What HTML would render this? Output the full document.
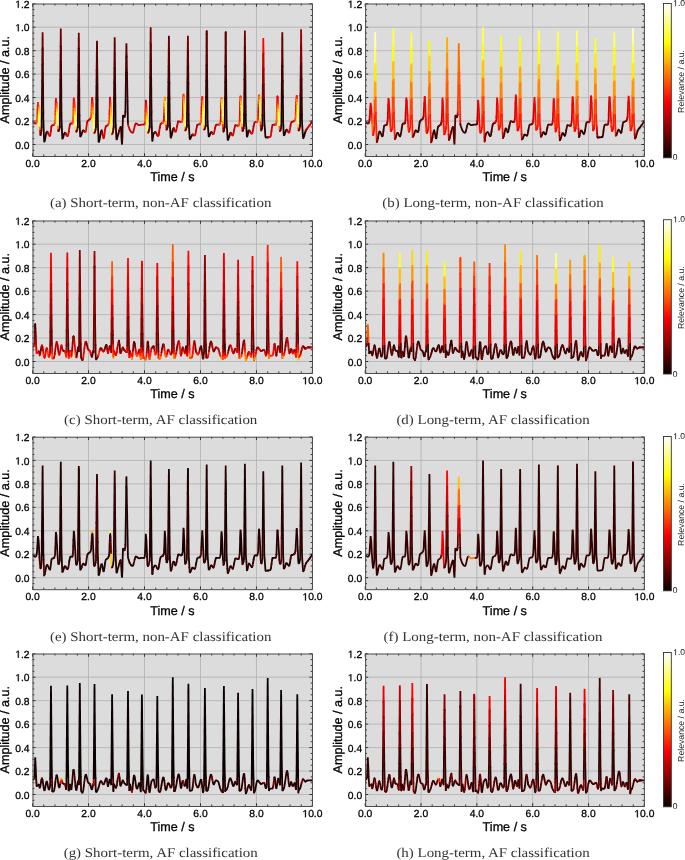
<!DOCTYPE html><html><head><meta charset="utf-8"><title>ECG relevance</title><style>html,body{margin:0;padding:0;background:#fff;width:685px;height:860px;overflow:hidden}
svg{display:block;will-change:transform}
.tk{font-family:"Liberation Sans",sans-serif;font-size:10.3px;fill:#000;stroke:#000;stroke-width:0.3px}
.ax{font-family:"Liberation Sans",sans-serif;font-size:12.6px;fill:#000;stroke:#000;stroke-width:0.3px}
.cb{font-family:"Liberation Sans",sans-serif;font-size:8.5px;fill:#111}
.cb2{font-family:"Liberation Sans",sans-serif;font-size:8.7px;fill:#222}
.hid{fill-opacity:0;stroke-opacity:0}
.one{stroke-linejoin:miter}
text{text-rendering:geometricPrecision}
.cap{font-family:"Liberation Serif",serif;font-size:13.4px;fill:#333}</style></head><body><svg width="685" height="860" viewBox="0 0 685 860"><defs><linearGradient id="hotg" x1="0" y1="1" x2="0" y2="0"><stop offset="0.0000" stop-color="#0b0000"/><stop offset="0.0500" stop-color="#2c0000"/><stop offset="0.1000" stop-color="#4e0000"/><stop offset="0.1500" stop-color="#6f0000"/><stop offset="0.2000" stop-color="#900000"/><stop offset="0.2500" stop-color="#b20000"/><stop offset="0.3000" stop-color="#d30000"/><stop offset="0.3500" stop-color="#f50000"/><stop offset="0.3651" stop-color="#ff0000"/><stop offset="0.4000" stop-color="#ff1700"/><stop offset="0.4500" stop-color="#ff3900"/><stop offset="0.5000" stop-color="#ff5a00"/><stop offset="0.5500" stop-color="#ff7c00"/><stop offset="0.6000" stop-color="#ff9d00"/><stop offset="0.6500" stop-color="#ffbf00"/><stop offset="0.7000" stop-color="#ffe000"/><stop offset="0.7460" stop-color="#ffff00"/><stop offset="0.7500" stop-color="#ffff04"/><stop offset="0.8000" stop-color="#ffff36"/><stop offset="0.8500" stop-color="#ffff68"/><stop offset="0.9000" stop-color="#ffff9b"/><stop offset="0.9500" stop-color="#ffffcd"/><stop offset="1.0000" stop-color="#ffffff"/></linearGradient></defs><clipPath id="clip00"><rect x="32.55" y="3.74" width="279.90" height="152.49"/></clipPath><rect x="32.55" y="3.74" width="279.90" height="152.49" fill="#dcdcdc"/><path d="M88.53 3.74V156.23M144.51 3.74V156.23M200.49 3.74V156.23M256.47 3.74V156.23M32.55 144.50H312.45M32.55 121.04H312.45M32.55 97.58H312.45M32.55 74.12H312.45M32.55 50.66H312.45M32.55 27.20H312.45" stroke="#b0b0b0" stroke-width="0.8" fill="none"/><g fill="none" stroke-width="1.80" stroke-linejoin="bevel" stroke-linecap="round" clip-path="url(#clip00)"><path d="M33.0 122.2l.6 .6 .5 .3 .6 .2 .5 .1" stroke="#b20000"/><path d="M35.2 123.4l.6 0" stroke="#dc0000"/><path d="M35.8 123.4l.6-1" stroke="#ff0700"/><path d="M36.4 122.4l.5-2.5" stroke="#ff4500"/><path d="M36.9 119.9l.2-3.1" stroke="#ff6f00"/><path d="M37.1 116.8l.2-3.1" stroke="#ff5a00"/><path d="M37.3 113.7l.2-3.1" stroke="#ff3000"/><path d="M37.5 110.6l.2-3.9" stroke="#f10000"/><path d="M37.7 106.7l.3-3.8" stroke="#c70000"/><path d="M38.0 102.9l.6 4.5" stroke="#ff3000"/><path d="M38.6 107.4l.2 3.3" stroke="#ff9900"/><path d="M38.8 110.7l.2 3.4" stroke="#ffed00"/><path d="M39.0 114.1l.1 3.3" stroke="#ffff23"/><path d="M39.1 117.4l.2 3.4" stroke="#ffff43"/><path d="M39.3 120.8l.2 3.4" stroke="#ffff62"/><path d="M39.5 124.2l.2 3.4" stroke="#ffff23"/><path d="M39.7 127.6l.3 3.4" stroke="#ff8400"/><path d="M40.0 131.0l.3 2.7" stroke="#f10000"/><path d="M40.3 133.7l.2 1.4" stroke="#880000"/><path d="M40.5 135.1l.3-.5 .6-4.2" stroke="#5e0000"/><path d="M41.4 130.4l.3-3.5" stroke="#490000"/><path d="M41.7 126.9l0-3.1 0-3.1 .1-3.1 0-3.1" stroke="#200000"/><path d="M41.8 114.5l0-3.1 0-3.1 .1-3 0-3.1 0-3.1 .1-3.1 0-3.1 0-3.1 .1-3.1 0-3.1 0-3.1" stroke="#340000"/><path d="M42.1 80.5l.1-3.1 0-3.1 0-3.1 0-3.1 .1-3.1" stroke="#490000"/><path d="M42.3 65.0l0-3.1 0-3.1 .1-3 0-3.1 0-3.1" stroke="#5e0000"/><path d="M42.4 49.6l.1-3.1 0-3.1 0-3.7 .1-3.7 0-3.8 0 3.2 .1 3.1 0 3.1 0 3.2 0 3.1" stroke="#730000"/><path d="M42.7 47.9l.1 3.1 0 3.1 0 3.2 0 3.1 .1 3.1" stroke="#5e0000"/><path d="M42.9 63.5l0 3.2 0 3.1 0 3.1 .1 3.2 0 3.1 0 3.1" stroke="#490000"/><path d="M43.0 82.3l.1 3.1 0 3.1 0 3 0 3 .1 3 0 3.1 0 3 0 3 .1 3 0 3" stroke="#340000"/><path d="M43.3 112.6l0 3.1 0 3 .2 3.9 .1 3.9 .1 3.1 .1 3.2 .1 3.1 .2 3.1 .1 3.2 .5-1.1 .6-2.7 .5-3.1 .6-2.6" stroke="#200000"/><path d="M46.4 132.7l.6-1.1" stroke="#340000"/><path d="M47.0 131.6l.5 .4" stroke="#5e0000"/><path d="M47.5 132.0l.6 1" stroke="#880000"/><path d="M48.1 133.0l.5 1.3" stroke="#c70000"/><path d="M48.6 134.3l.6 1.1 .6 .8 .2 .1 .3-.8 .6-4.3" stroke="#dc0000"/><path d="M50.9 131.2l.5-4.5" stroke="#c70000"/><path d="M51.4 126.7l.3-1 .3-.2 .6-.2 .5-.2" stroke="#b20000"/><path d="M53.1 125.1l.6-.2" stroke="#c70000"/><path d="M53.7 124.9l.5-.3" stroke="#f10000"/><path d="M54.2 124.6l.6-1.8" stroke="#ff3000"/><path d="M54.8 122.8l.3-1.8" stroke="#ff5a00"/><path d="M55.1 121.0l.1-3.3 .1-3.3" stroke="#ff6f00"/><path d="M55.3 114.4l.2-3.2" stroke="#ff4500"/><path d="M55.5 111.2l.1-3.1" stroke="#ff3000"/><path d="M55.6 108.1l.1-3.1" stroke="#ff1c00"/><path d="M55.7 105.0l.1-3.1" stroke="#ff0700"/><path d="M55.8 101.9l.1-3.1" stroke="#f10000"/><path d="M55.9 98.8l.6 4" stroke="#ff0700"/><path d="M56.5 102.8l.1 3.2" stroke="#ff3000"/><path d="M56.6 106.0l.2 3.1" stroke="#ff6f00"/><path d="M56.8 109.1l.2 3.1" stroke="#ffc300"/><path d="M57.0 112.2l.2 3.5" stroke="#ffff04"/><path d="M57.2 115.7l.2 3.5 .2 3.4" stroke="#ffff43"/><path d="M57.6 122.6l.3 3.7" stroke="#ffff62"/><path d="M57.9 126.3l.2 3.6" stroke="#ff9900"/><path d="M58.1 129.9l.3 1.1" stroke="#f10000"/><path d="M58.4 131.0l.3-.1" stroke="#880000"/><path d="M58.7 130.9l.6-1.3" stroke="#5e0000"/><path d="M59.3 129.6l.5-2.7" stroke="#490000"/><path d="M59.8 126.9l0-3.1 .1-3.1 0-3.2 0-3.1" stroke="#200000"/><path d="M59.9 114.4l.1-3.1 0-3.1 0-3.2 .1-3.1 0-3.1 0-3.1 .1-3.2 0-3.1 0-3.1 0-3.1 .1-3.2" stroke="#340000"/><path d="M60.3 80.0l0-3.1 0-3.1 .1-3.1 0-3 0-3.1 .1-3" stroke="#490000"/><path d="M60.5 61.6l0-3 0-3 .1-3 0-3 0-3" stroke="#5e0000"/><path d="M60.6 46.6l0-3 .1-3.1 0-3 0-3 .1-3 0-3 0 3 0 3 .1 3 0 3 0 3 0 3" stroke="#730000"/><path d="M60.9 46.5l.1 3 0 3 0 3.1 0 3 0 3" stroke="#5e0000"/><path d="M61.0 61.6l.1 3 0 3 0 3 0 3 .1 3 0 3" stroke="#490000"/><path d="M61.2 79.6l0 3 0 3 .1 3 0 3 0 3 0 3 0 3.1 .1 3 0 3 0 3 0 3" stroke="#340000"/><path d="M61.4 112.7l.1 3 0 3 .1 3.4 .2 3.4 .1 3.5 .1 3.4 .2 3.4 .1 3.4 .3-.7 .6-1 .5-2 .6-1.9" stroke="#200000"/><path d="M64.3 133.6l.5-.8" stroke="#340000"/><path d="M64.8 132.8l.6 .3" stroke="#490000"/><path d="M65.4 133.1l.6 .9" stroke="#730000"/><path d="M66.0 134.0l.5 1.1" stroke="#b20000"/><path d="M66.5 135.1l.6 .8" stroke="#c70000"/><path d="M67.1 135.9l.5 .4 .6-1.4 .6-3.2" stroke="#dc0000"/><path d="M68.8 131.7l.5-3.8 .6-3.2" stroke="#c70000"/><path d="M69.9 124.7l.5-1.3 .6 0 .5 0" stroke="#b20000"/><path d="M71.5 123.4l.6 0" stroke="#dc0000"/><path d="M72.1 123.4l.3 0" stroke="#ff0700"/><path d="M72.4 123.4l.3-1.1" stroke="#ff3000"/><path d="M72.7 122.3l.2-2.4" stroke="#ff4500"/><path d="M72.9 119.9l.2-3.5" stroke="#ff5a00"/><path d="M73.1 116.4l.1-3.5 .1-3.1" stroke="#ff6f00"/><path d="M73.3 109.8l.1-3" stroke="#ff5a00"/><path d="M73.4 106.8l.2-3.1" stroke="#ff3000"/><path d="M73.6 103.7l.1-3.1" stroke="#ff1c00"/><path d="M73.7 100.6l.1-3 .5 4.3" stroke="#ff0700"/><path d="M74.3 101.9l.2 3.3" stroke="#ff1c00"/><path d="M74.5 105.2l.2 3.3" stroke="#ff3000"/><path d="M74.7 108.5l.2 3.3" stroke="#ff8400"/><path d="M74.9 111.8l.2 3.6" stroke="#ffc300"/><path d="M75.1 115.4l.2 3.7" stroke="#ffff23"/><path d="M75.3 119.1l.2 3.7" stroke="#ffff43"/><path d="M75.5 122.8l.2 3.8" stroke="#ffff62"/><path d="M75.7 126.6l.3 3.8" stroke="#ffed00"/><path d="M76.0 130.4l.3 1.2" stroke="#ff4500"/><path d="M76.3 131.6l.3-.1" stroke="#b20000"/><path d="M76.6 131.5l.5-1.2 .6-3" stroke="#5e0000"/><path d="M77.7 127.3l.1-.4" stroke="#490000"/><path d="M77.8 126.9l.1-3.1 0-3.1 0-3.1 .1-3.1" stroke="#200000"/><path d="M78.0 114.5l0-3.1 0-3.1 .1-3.1 0-3.1 0-3.1 0-3.1 .1-3.1 0-3.1 0-3.1 .1-3.2 0-3.1" stroke="#340000"/><path d="M78.3 80.3l0-3.2 .1-3.2 0-3.1 0-3.2 .1-3.1" stroke="#490000"/><path d="M78.5 64.5l0-3.2 0-3.2 .1-3.1 0-3.2 0-3.2" stroke="#5e0000"/><path d="M78.6 48.6l.1-3.1 0-3.2 0-3.1 .1-3.2 0-3.2 0 3.2 .1 3.1 0 3.1 0 3.1 0 3.1" stroke="#730000"/><path d="M78.9 48.4l.1 3.2 0 3.1 0 3.1 0 3.1 .1 3.2" stroke="#5e0000"/><path d="M79.1 64.1l0 3.1 0 3.1 0 3.1 .1 3.1 0 3.2 0 3.1" stroke="#490000"/><path d="M79.2 82.8l0 3.1 .1 3.1 0 3.2 0 3.1 0 3.1 .1 3.1 0 3.5 0 3.4 0 3.4 .1 3.5" stroke="#340000"/><path d="M79.5 115.3l0 3.4 .1 3.7 .2 3.7 .1 3.6 .2 3.7 .1 3.7 .3-.6 .5-.6 .6-1.7 .6-1.8 .5-1.4" stroke="#200000"/><path d="M82.7 131.0l.6-.6" stroke="#340000"/><path d="M83.3 130.4l.5 .3" stroke="#5e0000"/><path d="M83.8 130.7l.6 .6" stroke="#9d0000"/><path d="M84.4 131.3l.5 .6" stroke="#c70000"/><path d="M84.9 131.9l.6 .3 .6-2 .5-4.2 .6-3.8" stroke="#dc0000"/><path d="M87.2 122.2l.3-.9 .2-.4" stroke="#c70000"/><path d="M87.7 120.9l.6-.6 .6-.4 .5-.3" stroke="#b20000"/><path d="M89.4 119.6l.6-.5" stroke="#c70000"/><path d="M90.0 119.1l.3-.4" stroke="#dc0000"/><path d="M90.3 118.7l.2-.5" stroke="#ff0700"/><path d="M90.5 118.2l.6-1.9" stroke="#ff3000"/><path d="M91.1 116.3l.2-3.4" stroke="#ff5a00"/><path d="M91.3 112.9l.2-3.4" stroke="#ff6f00"/><path d="M91.5 109.5l.2-3.5" stroke="#ff5a00"/><path d="M91.7 106.0l.1-3" stroke="#ff3000"/><path d="M91.8 103.0l.2-3" stroke="#ff0700"/><path d="M92.0 100.0l.2-3 .3 3.6" stroke="#dc0000"/><path d="M92.5 100.6l.3 3.6" stroke="#ff1c00"/><path d="M92.8 104.2l.1 3.6" stroke="#ff4500"/><path d="M92.9 107.8l.1 3.7" stroke="#ff8400"/><path d="M93.0 111.5l.2 3.7" stroke="#ffae00"/><path d="M93.2 115.2l.1 3.7" stroke="#ffed00"/><path d="M93.3 118.9l.2 3.1" stroke="#ffff23"/><path d="M93.5 122.0l.1 3 .1 3.1" stroke="#ffff43"/><path d="M93.7 128.1l.2 3" stroke="#ffff62"/><path d="M93.9 131.1l.3 2" stroke="#ffed00"/><path d="M94.2 133.1l.2-.1" stroke="#ff5a00"/><path d="M94.4 133.0l.6-1.1" stroke="#b20000"/><path d="M95.0 131.9l.6-2.4" stroke="#5e0000"/><path d="M95.6 129.5l.4-2.6" stroke="#490000"/><path d="M96.0 126.9l0-4 .1-4 0-4 .1-3.1 0-3.2 0-3.2 .1-3.2 0-3.2" stroke="#200000"/><path d="M96.3 99.0l0-3.2 .1-3.2 0-3.2 .1-3.2" stroke="#340000"/><path d="M96.5 86.2l0-3.1 0-3.2 .1-3.2 0-3.2 0-3.2" stroke="#490000"/><path d="M96.6 70.3l.1-3.2 0-3.3 .1-3.3 0-3.3 0-3.2 .1-3.3 0-3.3 0-3.3 .1-3.3 0 3.1 .1 3.1 0 3.1 0 3.2 0 3.1 .1 3.1 0 3.1 0 3.1 .1 3.1 0 3.1" stroke="#5e0000"/><path d="M97.3 71.9l0 3 .1 3.1 0 3.1 0 3.1" stroke="#490000"/><path d="M97.4 84.2l.1 3 0 3.1 0 3.1 0 3 .1 3.1" stroke="#340000"/><path d="M97.6 99.5l0 3.1 0 3.1 .1 3 0 3.1 0 3.1 .1 3.1 0 3 .1 3.6 .2 3.5 .1 3.6 .2 3.5 .1 3.5 .1 3.6 .3-.3 .6-1.9 .5-2.9 .6-3.2" stroke="#200000"/><path d="M100.6 134.0l.5-2.5" stroke="#340000"/><path d="M101.1 131.5l.6-1.1" stroke="#490000"/><path d="M101.7 130.4l.6 1.7" stroke="#730000"/><path d="M102.3 132.1l.5 3.3" stroke="#b20000"/><path d="M102.8 135.4l.6 2.8 .3 .4 .2-.6 .6-3.6 .6-4.7" stroke="#dc0000"/><path d="M105.1 129.7l.5-2.8 .6-.7" stroke="#c70000"/><path d="M106.2 126.2l.5-.4 .6-.4" stroke="#b20000"/><path d="M107.3 125.4l.6-.5" stroke="#c70000"/><path d="M107.9 124.9l.2-.3" stroke="#f10000"/><path d="M108.1 124.6l.3-.5" stroke="#ff1c00"/><path d="M108.4 124.1l.6-1.7" stroke="#ff4500"/><path d="M109.0 122.4l.2-1.4" stroke="#ff5a00"/><path d="M109.2 121.0l.2-3.4" stroke="#ff4500"/><path d="M109.4 117.6l.1-3.4" stroke="#ff3000"/><path d="M109.5 114.2l.1-3.3" stroke="#ff0700"/><path d="M109.6 110.9l.2-3.3" stroke="#f10000"/><path d="M109.8 107.6l.1-3.4" stroke="#dc0000"/><path d="M109.9 104.2l.1-3.3" stroke="#c70000"/><path d="M110.0 100.9l.1-3.3" stroke="#dc0000"/><path d="M110.1 97.6l.2 3.2" stroke="#f10000"/><path d="M110.3 100.8l.2 3.1" stroke="#ff1c00"/><path d="M110.5 103.9l.1 3.2" stroke="#ff4500"/><path d="M110.6 107.1l.2 3.6" stroke="#ff8400"/><path d="M110.8 110.7l.1 3.5" stroke="#ffae00"/><path d="M110.9 114.2l.1 3.6" stroke="#ffd800"/><path d="M111.0 117.8l.1 3.5" stroke="#ffff04"/><path d="M111.1 121.3l.1 3.6" stroke="#ffff23"/><path d="M111.2 124.9l.2 3.1" stroke="#ffff43"/><path d="M111.4 128.0l.2 3.2" stroke="#ffff62"/><path d="M111.6 131.2l.2 3.2" stroke="#ffff43"/><path d="M111.8 134.4l.5-.5" stroke="#ff4500"/><path d="M112.3 133.9l.6-1.8" stroke="#880000"/><path d="M112.9 132.1l.5-3.1" stroke="#5e0000"/><path d="M113.4 129.0l.3-2.1" stroke="#490000"/><path d="M113.7 126.9l.1-3.2 0-3.2 0-3.2 .1-3.2 0-3.2 0-3.2 .1-3.2 0-3.2 0-3" stroke="#200000"/><path d="M114.0 98.3l.1-3 0-3 0-3 .1-3.1 0-3" stroke="#340000"/><path d="M114.2 83.2l0-3 .1-3 0-3 0-3 .1-3" stroke="#490000"/><path d="M114.4 68.2l0-3 0-3.1 .1-3 0-3 0-3 .1-3 0-3.2 0-3.2 .1-3.2 0-3.2 0 3.2 .1 3.2 0 3.3 0 3.2 .1 3.2 0 3.2 0 3.2 .1 3.3 0 3.2 0 3.2" stroke="#5e0000"/><path d="M115.0 69.5l0 3.2 .1 3.2 0 3.3 0 3.2" stroke="#490000"/><path d="M115.1 82.4l.1 3.2 0 3.2 0 3.2 .1 3.3 0 3.2" stroke="#340000"/><path d="M115.3 98.5l0 3.2 .1 3.2 0 3.3 0 3.2 .1 3.2 0 3.2 0 3.2 .2 2.7 .2 3.6 .1 3.6 .2 3.5 .3 5.4 .3-.3 .5-1.7 .6-2.4 .3-1 .3-.9" stroke="#200000"/><path d="M118.5 133.5l.5-2.2" stroke="#340000"/><path d="M119.0 131.3l.6-2.1" stroke="#5e0000"/><path d="M119.6 129.2l.5-1.6" stroke="#880000"/><path d="M120.1 127.6l.6-.7" stroke="#ff0700"/><path d="M120.7 126.9l.3 3.1 .3 3.1 .1 3.2 .2 3.2 .2 3.2 .3 1.8 .1-3.8 .2-3.8 .1-3.1 0-3.1 .1-3.1 .1-3.1 .1-3.1 .1-3.1 0-3.1 .6 .6 .6 1.1 .5 .6 .6-2.8 .2-3" stroke="#340000"/><path d="M125.4 111.7l.1-3.4 0-3.4 .1-3.3" stroke="#200000"/><path d="M125.6 101.6l0-3.4 .1-3.3 0-3.4 .1-3.1 0-3.1 .1-3.1 0-3.1 0-3.1 .1-3.1" stroke="#340000"/><path d="M126.0 72.9l0-3.1 .1-3.1 0-3.1 .1-3.1 0-3.1" stroke="#490000"/><path d="M126.2 57.4l0-3.1 .1-3.1 0-4 .1-4 .1 3.3 0 3.3 .1 3.2 .1 3.3" stroke="#5e0000"/><path d="M126.7 56.3l0 3.3 .1 3.3 0 3.3 .1 3.3 .1 3.2" stroke="#490000"/><path d="M127.0 72.7l0 3.2 .1 3.2 .1 3.2 0 3.2 .1 3.2 0 3.2 .1 3.2 .1 3.2 0 3.2" stroke="#340000"/><path d="M127.5 101.5l.1 3.2 .1 3.2 0 3.2 .1 3.3 0 3.2 .1 3.2 .1 3.2" stroke="#200000"/><path d="M128.0 124.0l.5 2.2 .6 1.8 .5 1.5 .6 1.1 .6 .9 .5 .7 .6 .4 .5 .1 .3 .1 .3-.2 .5-1.5 .6-2.4 .6-2.5 .5-2 .6-.8 .5 .1 .6 .3 .6 .5 .5 .4 .6 .3 .5 .1 .6 0 .6-.2 .5-.1 .6-.2 .5 0 .6 0 .5 0 .6 0 .6 0 .2 0 .3-1.1" stroke="#c70000"/><path d="M144.7 123.5l.3-2.5" stroke="#ff1c00"/><path d="M145.0 121.0l.1-3.2" stroke="#ff6f00"/><path d="M145.1 117.8l.2-3.2" stroke="#ff5a00"/><path d="M145.3 114.6l.1-3.5" stroke="#ff4500"/><path d="M145.4 111.1l.2-3.4" stroke="#ff1c00"/><path d="M145.6 107.7l.1-3.5" stroke="#ff0700"/><path d="M145.7 104.2l.1-3.5" stroke="#f10000"/><path d="M145.8 100.7l.3 3.2" stroke="#c70000"/><path d="M146.1 103.9l.3 3.2" stroke="#ff0700"/><path d="M146.4 107.1l.1 3.3" stroke="#ff3000"/><path d="M146.5 110.4l.2 3.2" stroke="#ff5a00"/><path d="M146.7 113.6l.1 3.3" stroke="#ff9900"/><path d="M146.8 116.9l.2 3.3" stroke="#ffd800"/><path d="M147.0 120.2l.1 3.6" stroke="#ffff23"/><path d="M147.1 123.8l.2 3.6 .2 3.6" stroke="#ffff43"/><path d="M147.5 131.0l.3 1.8" stroke="#ffff04"/><path d="M147.8 132.8l.3-.1" stroke="#ff8400"/><path d="M148.1 132.7l.5-.9" stroke="#c70000"/><path d="M148.6 131.8l.6-1.9" stroke="#5e0000"/><path d="M149.2 129.9l.5-3" stroke="#490000"/><path d="M149.7 126.9l.1-3.1 0-3.1 0-3.1 .1-3" stroke="#200000"/><path d="M149.9 114.6l0-3.1 0-3.1 .1-3.1 0-3.1 0-3.1 0-3.1 .1-3.1 0-3 0-3.1 .1-3.1 0-3.1 0-3.1" stroke="#340000"/><path d="M150.2 77.5l0-3.1 .1-3.1 0-3 0-3.2 .1-3.2" stroke="#490000"/><path d="M150.4 61.9l0-3.1 0-3.2 .1-3.1 0-3.2 0-3.2 0-3.1" stroke="#5e0000"/><path d="M150.5 43.0l.1-3.2 0-3.1 0-3.2 .1-3.1 0-3.2 0 3 .1 3.1 0 3 0 3 0 3 .1 3.1" stroke="#730000"/><path d="M150.9 45.4l0 3 0 3 0 3 .1 3.1 0 3" stroke="#5e0000"/><path d="M151.0 60.5l0 3 .1 3.1 0 3 0 3 0 3 .1 3.1" stroke="#490000"/><path d="M151.2 78.7l0 3 0 3 .1 3 0 3.1 0 3 0 3 .1 3.1 0 3 0 3 .1 3 0 3.1" stroke="#340000"/><path d="M151.5 112.0l0 3 0 3 .1 3 .1 3.1 .1 3.1 .1 3 .1 3.1 .1 4.1 .2 4.1 .2-1 .6-4.7 .3-1.4 .3-.5 .5-.9" stroke="#200000"/><path d="M154.2 133.0l.6-.6" stroke="#340000"/><path d="M154.8 132.4l.5-.2" stroke="#490000"/><path d="M155.3 132.2l.6 .4" stroke="#730000"/><path d="M155.9 132.6l.6 1" stroke="#b20000"/><path d="M156.5 133.6l.5 1.2" stroke="#c70000"/><path d="M157.0 134.8l.6 1.1 .5 .4 .6-1.5" stroke="#dc0000"/><path d="M158.7 134.8l.5-3.3 .6-3.9" stroke="#c70000"/><path d="M159.8 127.6l.6-3 .2-.6 .3-.3 .6-.3" stroke="#b20000"/><path d="M161.5 123.4l.5-.3" stroke="#c70000"/><path d="M162.0 123.1l.6-.3" stroke="#ff0700"/><path d="M162.6 122.8l.3-.2" stroke="#ff3000"/><path d="M162.9 122.6l.3-.4" stroke="#ff5a00"/><path d="M163.2 122.2l.5-1.2" stroke="#ff4500"/><path d="M163.7 121.0l.3-1.1" stroke="#ff0700"/><path d="M164.0 119.9l.1-3.2" stroke="#dc0000"/><path d="M164.1 116.7l.2-3.2" stroke="#c70000"/><path d="M164.3 113.5l.1-3.2" stroke="#f10000"/><path d="M164.4 110.3l.1-3.2" stroke="#ff0700"/><path d="M164.5 107.1l.1-3.1" stroke="#ff1c00"/><path d="M164.6 104.0l.1-3.2" stroke="#ff3000"/><path d="M164.7 100.8l.1-3.2" stroke="#ff4500"/><path d="M164.8 97.6l.3 4.1" stroke="#ff9900"/><path d="M165.1 101.7l.3 4.2" stroke="#ffff04"/><path d="M165.4 105.9l.1 3.1 .1 3" stroke="#ffff43"/><path d="M165.6 112.0l.1 3.1 .1 3.1" stroke="#ffff62"/><path d="M165.8 118.2l.1 3.1" stroke="#ffff23"/><path d="M165.9 121.3l.3 4.2" stroke="#ffae00"/><path d="M166.2 125.5l.3 4.1" stroke="#ff0700"/><path d="M166.5 129.6l.6-.6" stroke="#880000"/><path d="M167.1 129.0l.5-1.9" stroke="#5e0000"/><path d="M167.6 127.1l.3-1.4" stroke="#490000"/><path d="M167.9 125.7l0-3.1 .1-3.1 0-3.1 0-3.2 .1-3.1 0-3.1 0-3.1 .1-3.2 0-3.1" stroke="#200000"/><path d="M168.2 97.6l.1-3.1 0-3.1 0-3.2 .1-3.1 0-3.1" stroke="#340000"/><path d="M168.4 82.0l0-3.1 .1-3.2 0-3.1 0-3.1 .1-3.1" stroke="#490000"/><path d="M168.6 66.4l0-3.1 0-3.2 .1-3.1 0-3.1 0-3.1 .1-3.8 0-3.7 .1-3.8 0-3.7 0 3.1 .1 3.2 0 3.2 0 3.1 .1 3.2 0 3.2 0 3.1 0 3.2 .1 3.2 0 3.1" stroke="#5e0000"/><path d="M169.2 67.4l0 3.2 .1 3.2 0 3.1 0 3.2 .1 3.1" stroke="#490000"/><path d="M169.4 83.2l0 3.2 0 3.1 0 3.2 .1 3.1 0 3.2" stroke="#340000"/><path d="M169.5 99.0l0 3.1 .1 3.2 0 3.1 0 3.2 .1 3.1 0 3.2 0 3.1 .2 2.5 .1 3.2 .2 3.2 .2 3.2 .3 4.8 .3-.2 .5-1.6 .6-2.4 .5-2.7" stroke="#200000"/><path d="M172.6 131.0l.6-2.1" stroke="#340000"/><path d="M173.2 128.9l.6-.8" stroke="#490000"/><path d="M173.8 128.1l.5 1" stroke="#880000"/><path d="M174.3 129.1l.6 2" stroke="#c70000"/><path d="M174.9 131.1l.5 1.1 .6-1 .6-2.3 .5-2.9" stroke="#dc0000"/><path d="M177.1 126.0l.6-2.7 .5-1.8" stroke="#c70000"/><path d="M178.2 121.5l.3-.2 .3 0 .6 .1 .5 .3 .6 .2" stroke="#b20000"/><path d="M180.5 121.9l.5 .2" stroke="#c70000"/><path d="M181.0 122.1l.6 .1" stroke="#ff0700"/><path d="M181.6 122.2l.5-.9 .6-2.6" stroke="#ff4500"/><path d="M182.7 118.7l.1-3" stroke="#ff1c00"/><path d="M182.8 115.7l.1-3.1" stroke="#ff0700"/><path d="M182.9 112.6l.1-3" stroke="#f10000"/><path d="M183.0 109.6l.1-3" stroke="#dc0000"/><path d="M183.1 106.6l.1-3.1" stroke="#c70000"/><path d="M183.2 103.5l.1-3" stroke="#dc0000"/><path d="M183.3 100.5l.2-5.9" stroke="#f10000"/><path d="M183.5 94.6l.3 2.7" stroke="#ff4500"/><path d="M183.8 97.3l.1 3" stroke="#ff8400"/><path d="M183.9 100.3l.1 3.1" stroke="#ffae00"/><path d="M184.0 103.4l.2 3" stroke="#ffd800"/><path d="M184.2 106.4l.1 3.1" stroke="#ffff04"/><path d="M184.3 109.5l.1 3" stroke="#ffff23"/><path d="M184.4 112.5l.1 3.1 .1 3" stroke="#ffff43"/><path d="M184.6 118.6l.1 3.1 .1 3" stroke="#ffff62"/><path d="M184.8 124.7l.1 3.1" stroke="#ffff23"/><path d="M184.9 127.8l.3 2.6" stroke="#ffae00"/><path d="M185.2 130.4l.3-.1" stroke="#ff0700"/><path d="M185.5 130.3l.6-1" stroke="#880000"/><path d="M186.1 129.3l.5-2.1" stroke="#5e0000"/><path d="M186.6 127.2l.3-1.5" stroke="#490000"/><path d="M186.9 125.7l0-3.1 .1-3.1 0-3.1 0-3.2" stroke="#200000"/><path d="M187.0 113.2l.1-3.1 0-3.1 0-3.1 .1-3.2 0-3.1 0-3.1 .1-3.1 0-3.2 0-3.1 .1-3.1" stroke="#340000"/><path d="M187.4 82.0l0-3.1 .1-3.2 0-3.1 0-3.1 .1-3.1" stroke="#490000"/><path d="M187.6 66.4l0-3.1 0-3.2 .1-3.1 0-3.1 0-3.1" stroke="#5e0000"/><path d="M187.7 50.8l.1-3.8 0-3.7 .1-3.8 0-3.7 0 3.1 .1 3.2 0 3.2 0 3.1 .1 3.2" stroke="#730000"/><path d="M188.1 51.6l0 3.2 0 3.1 0 3.2 .1 3.2 0 3.1" stroke="#5e0000"/><path d="M188.2 67.4l0 3.2 .1 3.2 0 3.1 0 3.2 .1 3.1" stroke="#490000"/><path d="M188.4 83.2l0 3.2 0 3.1 0 3.2 .1 3.1 0 3.2 0 3.1 .1 3.2 0 3.1 0 3.2 0 3.1" stroke="#340000"/><path d="M188.6 114.7l.1 3.2 0 3.1 .1 2.7 .2 3.4 .2 3.5 .2 3.5 .3 5.2 .3-.1 .5-.8 .6-1.2 .5-1.3" stroke="#200000"/><path d="M191.6 135.9l.6-1.1" stroke="#340000"/><path d="M192.2 134.8l.6-.4" stroke="#490000"/><path d="M192.8 134.4l.5 .3" stroke="#880000"/><path d="M193.3 134.7l.6 .5" stroke="#c70000"/><path d="M193.9 135.2l.5 .4 .3 .1 .3-.3 .6-1.9 .5-3" stroke="#dc0000"/><path d="M196.1 130.5l.6-3.1 .5-2.2" stroke="#c70000"/><path d="M197.2 125.2l.3-.4 .3-.1 .5-.2 .6-.1 .6-.2" stroke="#b20000"/><path d="M199.5 124.2l.5-.2" stroke="#dc0000"/><path d="M200.0 124.0l.6-1.3" stroke="#ff1c00"/><path d="M200.6 122.7l.5-2.8 .2-3.1" stroke="#ff5a00"/><path d="M201.3 116.8l.1-3.1" stroke="#ff4500"/><path d="M201.4 113.7l.2-3.1" stroke="#ff1c00"/><path d="M201.6 110.6l.1-3" stroke="#ff0700"/><path d="M201.7 107.6l.2-3.6" stroke="#dc0000"/><path d="M201.9 104.0l.2-3.5" stroke="#c70000"/><path d="M202.1 100.5l.2-3.5" stroke="#f10000"/><path d="M202.3 97.0l.2 4.2" stroke="#ff1c00"/><path d="M202.5 101.2l.3 4.2" stroke="#ff8400"/><path d="M202.8 105.4l.1 3.2" stroke="#ffc300"/><path d="M202.9 108.6l.1 3.1" stroke="#ffed00"/><path d="M203.0 111.7l.1 3.2" stroke="#ffff23"/><path d="M203.1 114.9l.2 3.1 .1 3.1" stroke="#ffff43"/><path d="M203.4 121.1l.3 4.3" stroke="#ffff62"/><path d="M203.7 125.4l.2 4.2" stroke="#ffd800"/><path d="M203.9 129.6l.6-.3" stroke="#f10000"/><path d="M204.5 129.3l.5-1.1 .6-2.2" stroke="#5e0000"/><path d="M205.6 126.0l.1-.3" stroke="#490000"/><path d="M205.7 125.7l.1-3.2 0-3.2 0-3.2 .1-3.2 0-3.2 0-3.2 .1-3.2 0-3.2 0-3.2" stroke="#200000"/><path d="M206.0 96.9l.1-3.3 0-3.2 0-3.2 .1-3.2 0-3.1" stroke="#340000"/><path d="M206.2 80.9l0-3.1 .1-3.1 0-3.1 0-3.1 .1-3.1" stroke="#490000"/><path d="M206.4 65.4l0-3.1 0-3.1 0-3.1 .1-3.2 0-3.1 0-3.1 .1-3.1 0-3.1 0-3.1 .1-3.1 0-3.1" stroke="#5e0000"/><path d="M206.7 31.2l0 2.9" stroke="#730000"/><path d="M206.7 34.1l.1 3 0 3.1 0 3 0 3.1 .1 3 0 3.1 0 3 .1 3.1 0 3 0 3.1" stroke="#5e0000"/><path d="M207.0 64.6l0 3 .1 3.1 0 3 0 3.1 .1 3.1" stroke="#490000"/><path d="M207.2 79.9l0 3 0 3.1 .1 3 0 3.1 0 3.2 0 3.2" stroke="#340000"/><path d="M207.3 98.5l.1 3.2 0 3.2 0 3.3 .1 3.2 0 3.2 0 3.2 .1 3.2 .2 3.9 .3 3.9 .3 3.9 .3 3.9 .3-.1 .5-.8 .6-1.3 .5-1.3" stroke="#200000"/><path d="M210.6 133.1l.6-.8" stroke="#340000"/><path d="M211.2 132.3l.3-.1" stroke="#5e0000"/><path d="M211.5 132.2l.3 .1" stroke="#730000"/><path d="M211.8 132.3l.5 .8" stroke="#9d0000"/><path d="M212.3 133.1l.6 .9" stroke="#c70000"/><path d="M212.9 134.0l.5 .4 .6-1 .5-2.5 .6-2.9" stroke="#dc0000"/><path d="M215.1 128.0l.6-2.4" stroke="#c70000"/><path d="M215.7 125.6l.5-1 .6 0 .5 0 .6 0 .6 0" stroke="#b20000"/><path d="M218.5 124.6l.5 0" stroke="#dc0000"/><path d="M219.0 124.6l.6 0" stroke="#ff1c00"/><path d="M219.6 124.6l.5-1" stroke="#ff5a00"/><path d="M220.1 123.6l.6-2.6" stroke="#ff3000"/><path d="M220.7 121.0l.1-3.4" stroke="#f10000"/><path d="M220.8 117.6l.1-3.5" stroke="#dc0000"/><path d="M220.9 114.1l.1-3.4" stroke="#c70000"/><path d="M221.0 110.7l.1-3.5" stroke="#dc0000"/><path d="M221.1 107.2l.1-3.5" stroke="#f10000"/><path d="M221.2 103.7l.3-5.5" stroke="#ff1c00"/><path d="M221.5 98.2l.3 1.8" stroke="#ff8400"/><path d="M221.8 100.0l.2 3.8" stroke="#ffd800"/><path d="M222.0 103.8l.2 3.8" stroke="#ffff23"/><path d="M222.2 107.6l.2 3.7 .1 3.4" stroke="#ffff43"/><path d="M222.5 114.7l.1 3.4" stroke="#ffff62"/><path d="M222.6 118.1l.2 3.5" stroke="#ffff04"/><path d="M222.8 121.6l.1 3.4" stroke="#ffae00"/><path d="M222.9 125.0l.3 3.3" stroke="#ff3000"/><path d="M223.2 128.3l.3 3.3" stroke="#9d0000"/><path d="M223.5 131.6l.5-.9 .6-3.3" stroke="#5e0000"/><path d="M224.6 127.4l.1-.5" stroke="#490000"/><path d="M224.7 126.9l.1-3.2 0-3.2 0-3.2 .1-3.2 0-3.3 0-3.2 .1-3.2 0-3.2 0-3.2" stroke="#200000"/><path d="M225.0 98.0l.1-3.2 0-3.2 0-3.2 .1-3.3 0-3.1" stroke="#340000"/><path d="M225.2 82.0l0-3.1 .1-3.1 0-3.1 0-3.1 0-3.1" stroke="#490000"/><path d="M225.3 66.5l.1-3.1 0-3.2 0-3.1 .1-3.1 0-3.1 0-3.1 .1-3.1 0-3.1 0-3.1 .1-3.1 0-3.2" stroke="#5e0000"/><path d="M225.7 32.2l0 2.9" stroke="#730000"/><path d="M225.7 35.1l0 3 .1 3 0 3.1 0 3 .1 3 0 3 0 3 .1 3 0 3 0 3.1" stroke="#5e0000"/><path d="M226.0 65.3l0 3 .1 3 0 3 0 3 .1 3" stroke="#490000"/><path d="M226.2 80.3l0 3.1 0 3 0 3 .1 3 0 3.2 0 3.2" stroke="#340000"/><path d="M226.3 98.8l.1 3.1 0 3.2 0 3.2 .1 3.2 0 3.2 0 3.2 .1 3.1 .2 4.8 .2 3.2 .2 3.2 .2 3.2 .3 4.8 .3-.2 .5-1.2 .6-1.8 .5-2" stroke="#200000"/><path d="M229.6 135.0l.6-1.6" stroke="#340000"/><path d="M230.2 133.4l.5-.6" stroke="#5e0000"/><path d="M230.7 132.8l.6 .6" stroke="#9d0000"/><path d="M231.3 133.4l.6 1.1" stroke="#c70000"/><path d="M231.9 134.5l.5 1 .3 .2 .3-.3 .5-2 .6-3" stroke="#dc0000"/><path d="M234.1 130.4l.6-3 .5-2" stroke="#c70000"/><path d="M235.2 125.4l.3-.3 .3 .1 .5 .1 .6 .1 .5 .2" stroke="#b20000"/><path d="M237.4 125.6l.6 .1" stroke="#c70000"/><path d="M238.0 125.7l.6 0" stroke="#ff0700"/><path d="M238.6 125.7l.5-1.2 .6-3.5" stroke="#ff4500"/><path d="M239.7 121.0l.1-3.1" stroke="#ff1c00"/><path d="M239.8 117.9l.1-3.1" stroke="#ff0700"/><path d="M239.9 114.8l.1-3.1" stroke="#f10000"/><path d="M240.0 111.7l.1-3.1" stroke="#dc0000"/><path d="M240.1 108.6l0-3.2 .1-3.1" stroke="#c70000"/><path d="M240.2 102.3l.3-5.9" stroke="#f10000"/><path d="M240.5 96.4l.3 1.9" stroke="#ff3000"/><path d="M240.8 98.3l.2 3.9" stroke="#ff8400"/><path d="M241.0 102.2l.2 3.9" stroke="#ffc300"/><path d="M241.2 106.1l.2 3.9" stroke="#ffff23"/><path d="M241.4 110.0l.1 3.6 .1 3.5" stroke="#ffff43"/><path d="M241.6 117.1l.2 3.5 .1 3.6" stroke="#ffff62"/><path d="M241.9 124.2l.3 3.4" stroke="#ffae00"/><path d="M242.2 127.6l.3 3.4" stroke="#ff0700"/><path d="M242.5 131.0l.5-.6" stroke="#9d0000"/><path d="M243.0 130.4l.6-2.1" stroke="#5e0000"/><path d="M243.6 128.3l.4-2.6" stroke="#490000"/><path d="M244.0 125.7l0-3.7 .1-3.7 0-3.7" stroke="#200000"/><path d="M244.1 114.6l.1-3.7 0-3.2 0-3.1 0-3.1 .1-3.1 0-3.2 0-3.1 .1-3.1 0-3.2 0-3.1 0-3.1" stroke="#340000"/><path d="M244.4 79.6l.1-3.2 0-3.1 0-3.1 .1-3.1 0-3.2" stroke="#490000"/><path d="M244.6 63.9l0-3.1 .1-3.1 0-3.2 0-3.1 0-3.5" stroke="#5e0000"/><path d="M244.7 47.9l.1-3.4 0-3.5 0-3.5 .1-3.4 0-3.5 0 3.2 .1 3.3 0 3.2 0 3.3 .1 3.2" stroke="#730000"/><path d="M245.1 46.8l0 3.2 0 3.3 .1 3.2 0 3.3 0 3.2" stroke="#5e0000"/><path d="M245.2 63.0l.1 3.2 0 3.1 0 3 .1 3.1 0 3 0 3.1" stroke="#490000"/><path d="M245.4 81.5l.1 3 0 3 0 3.1 0 3 .1 3.1 0 3 0 3.1 .1 3 0 3.1 0 3 .1 3" stroke="#340000"/><path d="M245.8 114.9l0 3.1 0 3 .3 4.1 .3 4 .3 4 .2 4 .6-1.3 .6-2.7 .5-2.3" stroke="#200000"/><path d="M248.6 130.8l.3-.4 .3 .1" stroke="#340000"/><path d="M249.2 130.5l.5 .6" stroke="#490000"/><path d="M249.7 131.1l.6 .8" stroke="#880000"/><path d="M250.3 131.9l.6 1" stroke="#b20000"/><path d="M250.9 132.9l.5 .7 .6 .3 .5-1.2 .6-2.9" stroke="#dc0000"/><path d="M253.1 129.8l.5-3.5" stroke="#c70000"/><path d="M253.6 126.3l.6-2.9 .6-1.2 .5 0 .6 0" stroke="#b20000"/><path d="M255.9 122.2l.5 0" stroke="#c70000"/><path d="M256.4 122.2l.6 0" stroke="#ff0700"/><path d="M257.0 122.2l.6-.9 .5-2.6" stroke="#ff4500"/><path d="M258.1 118.7l.1-3.5" stroke="#ff1c00"/><path d="M258.2 115.2l.1-3.5" stroke="#ff0700"/><path d="M258.3 111.7l.2-3.5" stroke="#dc0000"/><path d="M258.5 108.2l.1-3.6" stroke="#c70000"/><path d="M258.6 104.6l.1-3.5" stroke="#dc0000"/><path d="M258.7 101.1l.3-5.6" stroke="#f10000"/><path d="M259.0 95.5l.2 1.5" stroke="#ff4500"/><path d="M259.2 97.0l.2 3.2" stroke="#ff8400"/><path d="M259.4 100.2l.2 3.1" stroke="#ffd800"/><path d="M259.6 103.3l.2 3.2" stroke="#ffff23"/><path d="M259.8 106.5l.1 3.2 .2 3.2" stroke="#ffff43"/><path d="M260.1 112.9l.1 3.3" stroke="#ffff62"/><path d="M260.2 116.2l.2 3.2" stroke="#ffff43"/><path d="M260.4 119.4l.1 3.1" stroke="#ffc300"/><path d="M260.5 122.5l.2 3.2" stroke="#ff4500"/><path d="M260.7 125.7l.2 3.2" stroke="#f10000"/><path d="M260.9 128.9l.3 1.5" stroke="#9d0000"/><path d="M261.2 130.4l.3-.2 .5-1.8" stroke="#5e0000"/><path d="M262.0 128.4l.4-2.7" stroke="#490000"/><path d="M262.4 125.7l.1-3.5 0-3.5 0-3.6" stroke="#200000"/><path d="M262.5 115.1l.1-3.5 0-3.2 0-3.1 .1-3.2 0-3.1" stroke="#490000"/><path d="M262.7 99.0l0-3.1 .1-3.2 0-3.1 0-3.2 .1-3.1" stroke="#730000"/><path d="M262.9 83.3l0-3.2 0-3.1 .1-3.2 0-3.1 0-3.1" stroke="#9d0000"/><path d="M263.0 67.6l.1-3.2 0-3.1 0-3.2 0-3.1" stroke="#c70000"/><path d="M263.1 55.0l.1-3.4 0-3.4 0-3.4 .1-3.4 0-3.4 0 3.1 .1 3.1 0 3.1 .1 3.1 0 3.1" stroke="#ff0700"/><path d="M263.5 53.5l0 3.1 .1 3.2 0 3.1 0 3.1 .1 3.1" stroke="#c70000"/><path d="M263.7 69.1l0 3.1 0 3 .1 3.1 0 3 0 3.1" stroke="#9d0000"/><path d="M263.8 84.4l.1 3.1 0 3 0 3.1 .1 3 0 3.1" stroke="#730000"/><path d="M264.0 99.7l.1 3 0 3.1 0 3 .1 3.1 0 3" stroke="#490000"/><path d="M264.2 114.9l0 3.1 .1 3 .2 3.3 .3 3.3 .2 3 .2 3.1 .2 3 .3 .8 .2 0 .6-.1 .6 0" stroke="#200000"/><path d="M267.1 137.4l.5 0" stroke="#340000"/><path d="M267.6 137.4l.6-.1" stroke="#490000"/><path d="M268.2 137.3l.5-.1" stroke="#880000"/><path d="M268.7 137.2l.6-.1" stroke="#c70000"/><path d="M269.3 137.1l.5-.1 .6-.1 .6-2 .5-4.1" stroke="#dc0000"/><path d="M271.5 130.8l.6-4.1 .5-1.9" stroke="#c70000"/><path d="M272.6 124.8l.6-.1 .6 0 .5 0 .6 0" stroke="#b20000"/><path d="M274.9 124.7l.5-.1" stroke="#c70000"/><path d="M275.4 124.6l.3 0" stroke="#f10000"/><path d="M275.7 124.6l.3-.5" stroke="#ff1c00"/><path d="M276.0 124.1l.5-3.1" stroke="#ff4500"/><path d="M276.5 121.0l.1-3.1 .1-3.1 .1-3.1" stroke="#ff6f00"/><path d="M276.8 111.7l.1-3.1" stroke="#ff5a00"/><path d="M276.9 108.6l.1-3.1" stroke="#ff4500"/><path d="M277.0 105.5l.1-3.2" stroke="#ff3000"/><path d="M277.1 102.3l.3-5.9" stroke="#ff0700"/><path d="M277.4 96.4l.3 1.2" stroke="#dc0000"/><path d="M277.7 97.6l.2 3.9" stroke="#f10000"/><path d="M277.9 101.5l.3 3.9" stroke="#ff3000"/><path d="M278.2 105.4l.2 3.7" stroke="#ff8400"/><path d="M278.4 109.1l.2 3.7" stroke="#ffd800"/><path d="M278.6 112.8l.2 3.8" stroke="#ffff23"/><path d="M278.8 116.6l.2 3.3" stroke="#ffff43"/><path d="M279.0 119.9l.2 3.4 .1 3.3" stroke="#ffff62"/><path d="M279.3 126.6l.6 4.4" stroke="#ff5a00"/><path d="M279.9 131.0l.6-.6" stroke="#880000"/><path d="M280.5 130.4l.5-2.1" stroke="#5e0000"/><path d="M281.0 128.3l.4-2.6" stroke="#490000"/><path d="M281.4 125.7l.1-3 0-3 0-3 0-3 .1-3 0-3.1 0-3 .1-3 0-3" stroke="#200000"/><path d="M281.7 98.6l0-3 0-3 .1-3.1 0-3 0-3 .1-3" stroke="#340000"/><path d="M281.9 80.5l0-3 0-3 0-3.1 .1-3 0-3" stroke="#490000"/><path d="M282.0 65.4l0-3 .1-3 0-3 0-3 0-3.1 .1-3 0-3 0-3 0-3 .1-3 0-3.1 0 3.1 .1 3.1 0 3 0 3.1 0 3.1 .1 3 0 3.1 0 3 .1 3.1 0 3.1 0 3" stroke="#5e0000"/><path d="M282.6 65.9l0 3.1 .1 3 0 3.1 0 3.1 .1 3" stroke="#490000"/><path d="M282.8 81.2l0 3.1 0 3.1 0 3 .1 3.1 0 3" stroke="#340000"/><path d="M282.9 96.5l0 3.1 0 3.1 .1 3 0 3.1 0 3.1 .1 3 0 3.1 0 3 .2 3 .1 3.9 .2 3.9 .2 3.9 .6-.6 .5-1.5 .6-1.7 .5-1.5" stroke="#200000"/><path d="M286.0 130.4l.6-.6" stroke="#340000"/><path d="M286.6 129.8l.6 .4" stroke="#490000"/><path d="M287.2 130.2l.5 .9" stroke="#880000"/><path d="M287.7 131.1l.6 .9" stroke="#c70000"/><path d="M288.3 132.0l.5 .7 .3 .1 .3-.5 .6-2.7 .5-3.8" stroke="#dc0000"/><path d="M290.5 125.8l.6-3 .3-.6 .2-.2" stroke="#c70000"/><path d="M291.6 122.0l.6-.2 .5-.2 .6-.1 .6-.3" stroke="#b20000"/><path d="M293.9 121.2l.2-.2" stroke="#c70000"/><path d="M294.1 121.0l.3-.3" stroke="#f10000"/><path d="M294.4 120.7l.6-1.1" stroke="#ff1c00"/><path d="M295.0 119.6l.5-2.1 .2-3.8" stroke="#ff5a00"/><path d="M295.7 113.7l.2-3.8" stroke="#ff3000"/><path d="M295.9 109.9l.2-3.9" stroke="#ff0700"/><path d="M296.1 106.0l.2-3.4" stroke="#dc0000"/><path d="M296.3 102.6l.2-3.4" stroke="#c70000"/><path d="M296.5 99.2l.2-3.4" stroke="#f10000"/><path d="M296.7 95.8l.2 3.5" stroke="#ff1c00"/><path d="M296.9 99.3l.3 3.4" stroke="#ff8400"/><path d="M297.2 102.7l.2 3.5" stroke="#ffd800"/><path d="M297.4 106.2l.1 3.5" stroke="#ffff04"/><path d="M297.5 109.7l.1 3.6" stroke="#ffff23"/><path d="M297.6 113.3l.2 3.5" stroke="#ffff43"/><path d="M297.8 116.8l.2 3.9" stroke="#ffff62"/><path d="M298.0 120.7l.1 3.9" stroke="#ffff43"/><path d="M298.1 124.6l.2 3.9" stroke="#ffc300"/><path d="M298.3 128.5l.3 1.9" stroke="#ff3000"/><path d="M298.6 130.4l.3-.1" stroke="#b20000"/><path d="M298.9 130.3l.6-1.2 .5-2.9" stroke="#5e0000"/><path d="M300.0 126.2l.2-.5" stroke="#490000"/><path d="M300.2 125.7l0-3 0-3.1 0-3 .1-3" stroke="#200000"/><path d="M300.3 113.6l0-3.1 0-3 .1-3.1 0-3 0-3 0-3.1" stroke="#340000"/><path d="M300.4 95.3l.1-3 0-3.1 0-3 .1-3.1 0-3.1" stroke="#490000"/><path d="M300.6 80.0l0-3.2 .1-3.2 0-3.2 0-3.1 .1-3.2" stroke="#5e0000"/><path d="M300.8 64.1l0-3.2 0-3.1 .1-3.2 0-3.2 0-3.2 0-3.1" stroke="#880000"/><path d="M300.9 45.1l.1-3.2 0-3.2 0-3.2 .1-3.1 0-3.2 0 3 .1 3.1 0 3.1 0 3.1 0 3.1" stroke="#9d0000"/><path d="M301.2 44.6l.1 3.2 0 3.1 0 3.1 .1 3.1 0 3.1 0 3.1" stroke="#880000"/><path d="M301.4 63.3l.1 3.2 0 3.1 0 3.1 0 3.1 .1 3.1" stroke="#5e0000"/><path d="M301.6 78.9l0 3.2 0 3.1 .1 3.1 0 3.1 0 3.3 0 3.3" stroke="#490000"/><path d="M301.7 98.0l.1 3.3 0 3.3 0 3.3 .1 3.3 0 3.3" stroke="#340000"/><path d="M301.9 114.5l0 3.2 .1 3.3 .2 4.4 .3 4.3 .3 4.4 .3 4.3 .3-.2 .5-1.2 .6-1.9 .5-2.2" stroke="#200000"/><path d="M305.0 132.9l.6-1.8" stroke="#340000"/><path d="M305.6 131.1l.3-.7" stroke="#5e0000"/><path d="M305.9 130.4l.3-.5" stroke="#730000"/><path d="M306.2 129.9l.5-.8" stroke="#9d0000"/><path d="M306.7 129.1l.6-.8" stroke="#c70000"/><path d="M307.3 128.3l.5-.6 .6-.8 .5-.8 .6-.7" stroke="#dc0000"/><path d="M309.5 125.4l.6-.8 .5-.7 .6-.9" stroke="#c70000"/><path d="M311.2 123.0l.5-.9 .3-.5 .3-.6" stroke="#b20000"/></g><path d="M32.55 156.23v-3.00M32.55 3.74v3.00M43.75 156.23v-1.80M43.75 3.74v1.80M54.94 156.23v-1.80M54.94 3.74v1.80M66.14 156.23v-1.80M66.14 3.74v1.80M77.33 156.23v-1.80M77.33 3.74v1.80M88.53 156.23v-3.00M88.53 3.74v3.00M99.73 156.23v-1.80M99.73 3.74v1.80M110.92 156.23v-1.80M110.92 3.74v1.80M122.12 156.23v-1.80M122.12 3.74v1.80M133.31 156.23v-1.80M133.31 3.74v1.80M144.51 156.23v-3.00M144.51 3.74v3.00M155.71 156.23v-1.80M155.71 3.74v1.80M166.90 156.23v-1.80M166.90 3.74v1.80M178.10 156.23v-1.80M178.10 3.74v1.80M189.29 156.23v-1.80M189.29 3.74v1.80M200.49 156.23v-3.00M200.49 3.74v3.00M211.69 156.23v-1.80M211.69 3.74v1.80M222.88 156.23v-1.80M222.88 3.74v1.80M234.08 156.23v-1.80M234.08 3.74v1.80M245.27 156.23v-1.80M245.27 3.74v1.80M256.47 156.23v-3.00M256.47 3.74v3.00M267.67 156.23v-1.80M267.67 3.74v1.80M278.86 156.23v-1.80M278.86 3.74v1.80M290.06 156.23v-1.80M290.06 3.74v1.80M301.25 156.23v-1.80M301.25 3.74v1.80M312.45 156.23v-3.00M312.45 3.74v3.00M32.55 156.23h1.80M312.45 156.23h-1.80M32.55 150.37h1.80M312.45 150.37h-1.80M32.55 144.50h3.00M312.45 144.50h-3.00M32.55 138.63h1.80M312.45 138.63h-1.80M32.55 132.77h1.80M312.45 132.77h-1.80M32.55 126.91h1.80M312.45 126.91h-1.80M32.55 121.04h3.00M312.45 121.04h-3.00M32.55 115.18h1.80M312.45 115.18h-1.80M32.55 109.31h1.80M312.45 109.31h-1.80M32.55 103.45h1.80M312.45 103.45h-1.80M32.55 97.58h3.00M312.45 97.58h-3.00M32.55 91.72h1.80M312.45 91.72h-1.80M32.55 85.85h1.80M312.45 85.85h-1.80M32.55 79.98h1.80M312.45 79.98h-1.80M32.55 74.12h3.00M312.45 74.12h-3.00M32.55 68.26h1.80M312.45 68.26h-1.80M32.55 62.39h1.80M312.45 62.39h-1.80M32.55 56.52h1.80M312.45 56.52h-1.80M32.55 50.66h3.00M312.45 50.66h-3.00M32.55 44.79h1.80M312.45 44.79h-1.80M32.55 38.93h1.80M312.45 38.93h-1.80M32.55 33.06h1.80M312.45 33.06h-1.80M32.55 27.20h3.00M312.45 27.20h-3.00M32.55 21.33h1.80M312.45 21.33h-1.80M32.55 15.47h1.80M312.45 15.47h-1.80M32.55 9.61h1.80M312.45 9.61h-1.80M32.55 3.74h3.00M312.45 3.74h-3.00" stroke="#222" stroke-width="0.9" fill="none"/><rect x="33.00" y="4.00" width="279.50" height="152.50" fill="none" stroke="#4c4c4c" stroke-width="1.0" stroke-linejoin="round"/><text x="29.55" y="148.60" text-anchor="end" class="tk">0.0</text><text x="29.55" y="125.14" text-anchor="end" class="tk">0.2</text><text x="29.55" y="101.68" text-anchor="end" class="tk">0.4</text><text x="29.55" y="78.22" text-anchor="end" class="tk">0.6</text><text x="29.55" y="54.76" text-anchor="end" class="tk">0.8</text><text x="29.55" y="31.30" text-anchor="end" class="tk"><tspan class="hid">1</tspan>.0</text><polygon points="17.89,24.21 18.72,24.21 18.72,31.30 17.82,31.30 17.82,25.06 16.22,26.21 16.22,25.39" class="tk one"/><text x="29.55" y="7.84" text-anchor="end" class="tk"><tspan class="hid">1</tspan>.2</text><polygon points="17.89,0.75 18.72,0.75 18.72,7.84 17.82,7.84 17.82,1.60 16.22,2.75 16.22,1.93" class="tk one"/><text x="32.55" y="167.23" text-anchor="middle" class="tk">0.0</text><text x="88.53" y="167.23" text-anchor="middle" class="tk">2.0</text><text x="144.51" y="167.23" text-anchor="middle" class="tk">4.0</text><text x="200.49" y="167.23" text-anchor="middle" class="tk">6.0</text><text x="256.47" y="167.23" text-anchor="middle" class="tk">8.0</text><text x="312.45" y="167.23" text-anchor="middle" class="tk"><tspan class="hid">1</tspan>0.0</text><polygon points="305.09,160.14 305.92,160.14 305.92,167.23 305.01,167.23 305.01,160.99 303.42,162.14 303.42,161.32" class="tk one"/><text x="172.50" y="181.33" text-anchor="middle" class="ax">Time / s</text><text transform="translate(9.05 79.69) rotate(-90)" text-anchor="middle" class="ax">Amplitude / a.u.</text><text transform="translate(160.70 207.30) scale(1.115 1)" text-anchor="middle" class="cap">(a) Short-term, non-AF classification</text><clipPath id="clip10"><rect x="365.17" y="3.74" width="279.20" height="152.49"/></clipPath><rect x="365.17" y="3.74" width="279.20" height="152.49" fill="#dcdcdc"/><path d="M421.01 3.74V156.23M476.85 3.74V156.23M532.69 3.74V156.23M588.53 3.74V156.23M365.17 144.50H644.37M365.17 121.04H644.37M365.17 97.58H644.37M365.17 74.12H644.37M365.17 50.66H644.37M365.17 27.20H644.37" stroke="#b0b0b0" stroke-width="0.8" fill="none"/><g fill="none" stroke-width="1.80" stroke-linejoin="bevel" stroke-linecap="round" clip-path="url(#clip10)"><path d="M365.6 122.2l.6 .6 .5 .3 .6 .2 .5 .1" stroke="#5e0000"/><path d="M367.8 123.4l.6 0" stroke="#730000"/><path d="M368.4 123.4l.6-1" stroke="#880000"/><path d="M369.0 122.4l.5-2.5" stroke="#9d0000"/><path d="M369.5 119.9l.2-3.1" stroke="#b20000"/><path d="M369.7 116.8l.2-3.1 .2-3.1" stroke="#c70000"/><path d="M370.1 110.6l.3-3.9" stroke="#dc0000"/><path d="M370.4 106.7l.2-3.8 .6 4.5 .2 3.3 .2 3.4" stroke="#f10000"/><path d="M371.6 114.1l.1 3.3" stroke="#ff0700"/><path d="M371.7 117.4l.2 3.4" stroke="#ff3000"/><path d="M371.9 120.8l.2 3.4" stroke="#ff5a00"/><path d="M372.1 124.2l.2 3.4 .3 3.4" stroke="#ff8400"/><path d="M372.6 131.0l.3 2.7" stroke="#ff6f00"/><path d="M372.9 133.7l.2 1.4" stroke="#ff3000"/><path d="M373.1 135.1l.3-.5 .6-4.2 .3-3.5" stroke="#ff0700"/><path d="M374.3 126.9l0-3.1 0-3.1 0-3.1 .1-3.1" stroke="#ff1c00"/><path d="M374.4 114.5l0-3.1 0-3.1 .1-3 0-3.1 0-3.1" stroke="#ff5a00"/><path d="M374.5 99.1l.1-3.1 0-3.1 0-3.1 .1-3.1 0-3.1 0-3.1" stroke="#ffae00"/><path d="M374.7 80.5l.1-3.1 0-3.1 0-3.1 0-3.1 .1-3.1" stroke="#ffed00"/><path d="M374.9 65.0l0-3.1 0-3.1 .1-3 0-3.1 0-3.1" stroke="#ffff62"/><path d="M375.0 49.6l.1-3.1 0-3.1 0-3.7 .1-3.7 0-3.8 0 3.2 .1 3.1 0 3.1 0 3.2 0 3.1" stroke="#ffffc0"/><path d="M375.3 47.9l.1 3.1 0 3.1 0 3.2 0 3.1 .1 3.1" stroke="#ffff62"/><path d="M375.5 63.5l0 3.2 0 3.1 0 3.1 .1 3.2 0 3.1 0 3.1" stroke="#ffed00"/><path d="M375.6 82.3l0 3.1 .1 3.1 0 3 0 3 0 3" stroke="#ffae00"/><path d="M375.7 97.5l.1 3.1 0 3 0 3 .1 3 0 3" stroke="#ff5a00"/><path d="M375.9 112.6l0 3.1 0 3 .2 3.9 .1 3.9 .1 3.1 .1 3.2 .1 3.1 .2 3.1" stroke="#ff1c00"/><path d="M376.7 139.0l.1 3.2" stroke="#ff0700"/><path d="M376.8 142.2l.5-1.1" stroke="#b20000"/><path d="M377.3 141.1l.6-2.7" stroke="#5e0000"/><path d="M377.9 138.4l.5-3.1 .6-2.6 .5-1.1" stroke="#490000"/><path d="M379.5 131.6l.6 .4 .6 1 .5 1.3 .6 1.1" stroke="#340000"/><path d="M381.8 135.4l.5 .8" stroke="#200000"/><path d="M382.3 136.2l.3 .1 .3-.8 .5-4.3" stroke="#340000"/><path d="M383.4 131.2l.6-4.5 .3-1" stroke="#490000"/><path d="M384.3 125.7l.3-.2 .5-.2 .6-.2 .5-.2" stroke="#5e0000"/><path d="M386.2 124.9l.6-.3" stroke="#730000"/><path d="M386.8 124.6l.5-1.8" stroke="#880000"/><path d="M387.3 122.8l.3-1.8 .2-3.3" stroke="#b20000"/><path d="M387.8 117.7l.1-3.3 .1-3.2 .1-3.1 .1-3.1" stroke="#c70000"/><path d="M388.2 105.0l.2-3.1 .1-3.1" stroke="#dc0000"/><path d="M388.5 98.8l.5 4 .2 3.2 .2 3.1 .2 3.1 .2 3.5" stroke="#f10000"/><path d="M389.8 115.7l.2 3.5" stroke="#ff0700"/><path d="M390.0 119.2l.1 3.4 .3 3.7" stroke="#ff1c00"/><path d="M390.4 126.3l.3 3.6" stroke="#ff3000"/><path d="M390.7 129.9l.3 1.1" stroke="#ff1c00"/><path d="M391.0 131.0l.3-.1" stroke="#ff0700"/><path d="M391.3 130.9l.5-1.3" stroke="#f10000"/><path d="M391.8 129.6l.6-2.7" stroke="#ff0700"/><path d="M392.4 126.9l0-3.1 0-3.1 .1-3.2 0-3.1" stroke="#ff1c00"/><path d="M392.5 114.4l0-3.1 .1-3.1 0-3.2 0-3.1 0-3.1 .1-3.1" stroke="#ff4500"/><path d="M392.7 95.7l0-3.2 0-3.1 .1-3.1 0-3.1 0-3.2" stroke="#ff8400"/><path d="M392.8 80.0l.1-3.1 0-3.1 0-3.1 .1-3 0-3.1 0-3" stroke="#ffc300"/><path d="M393.0 61.6l0-3 .1-3 0-3 0-3 .1-3" stroke="#ffff04"/><path d="M393.2 46.6l0-3 0-3.1 .1-3 0-3 0-3 0-3 .1 3 0 3 0 3 0 3 .1 3 0 3" stroke="#ffff43"/><path d="M393.5 46.5l0 3 0 3 0 3.1 .1 3 0 3" stroke="#ffff04"/><path d="M393.6 61.6l0 3 0 3 .1 3 0 3 0 3 0 3" stroke="#ffc300"/><path d="M393.7 79.6l.1 3 0 3 0 3 0 3 .1 3 0 3" stroke="#ff8400"/><path d="M393.9 97.6l0 3.1 0 3 0 3 .1 3 0 3" stroke="#ff4500"/><path d="M394.0 112.7l0 3 0 3 .2 3.4 .1 3.4 .2 3.5 .1 3.4 .1 3.4 .2 3.4" stroke="#ff1c00"/><path d="M394.9 139.2l.3-.7" stroke="#dc0000"/><path d="M395.2 138.5l.5-1" stroke="#880000"/><path d="M395.7 137.5l.6-2" stroke="#5e0000"/><path d="M396.3 135.5l.5-1.9 .6-.8 .5 .3" stroke="#490000"/><path d="M397.9 133.1l.6 .9 .6 1.1 .5 .8" stroke="#340000"/><path d="M399.6 135.9l.6 .4" stroke="#200000"/><path d="M400.2 136.3l.5-1.4 .6-3.2 .5-3.8" stroke="#340000"/><path d="M401.8 127.9l.6-3.2" stroke="#490000"/><path d="M402.4 124.7l.6-1.3 .5 0 .6 0" stroke="#5e0000"/><path d="M404.1 123.4l.5 0" stroke="#730000"/><path d="M404.6 123.4l.3 0 .3-1.1" stroke="#880000"/><path d="M405.2 122.3l.3-2.4" stroke="#9d0000"/><path d="M405.5 119.9l.1-3.5 .1-3.5" stroke="#b20000"/><path d="M405.7 112.9l.1-3.1 .2-3 .1-3.1 .1-3.1" stroke="#c70000"/><path d="M406.2 100.6l.1-3 .6 4.3" stroke="#dc0000"/><path d="M406.9 101.9l.1 3.3 .2 3.3 .2 3.3 .2 3.6" stroke="#f10000"/><path d="M407.6 115.4l.2 3.7 .2 3.7" stroke="#ff0700"/><path d="M408.0 122.8l.2 3.8" stroke="#ff1c00"/><path d="M408.2 126.6l.3 3.8 .3 1.2" stroke="#ff3000"/><path d="M408.8 131.6l.3-.1" stroke="#ff1c00"/><path d="M409.1 131.5l.5-1.2 .6-3" stroke="#ff0700"/><path d="M410.2 127.3l.1-.4 .1-3.1 0-3.1 0-3.1 .1-3.1" stroke="#ff1c00"/><path d="M410.5 114.5l0-3.1 0-3.1 .1-3.1 0-3.1 0-3.1" stroke="#ff4500"/><path d="M410.6 99.0l.1-3.1 0-3.1 0-3.1 .1-3.1 0-3.2 0-3.1" stroke="#ff8400"/><path d="M410.8 80.3l.1-3.2 0-3.2 0-3.1 0-3.2 .1-3.1" stroke="#ffc300"/><path d="M411.0 64.5l0-3.2 0-3.2 .1-3.1 0-3.2 0-3.2" stroke="#ffff04"/><path d="M411.1 48.6l.1-3.1 0-3.2 0-3.1 .1-3.2 0-3.2 0 3.2 .1 3.1 0 3.1 0 3.1 0 3.1" stroke="#ffff43"/><path d="M411.4 48.4l.1 3.2 0 3.1 0 3.1 0 3.1 .1 3.2" stroke="#ffff04"/><path d="M411.6 64.1l0 3.1 0 3.1 0 3.1 .1 3.1 0 3.2 0 3.1" stroke="#ffc300"/><path d="M411.7 82.8l0 3.1 .1 3.1 0 3.2 0 3.1 0 3.1" stroke="#ff8400"/><path d="M411.8 98.4l.1 3.1 0 3.5 0 3.4 .1 3.4 0 3.5" stroke="#ff4500"/><path d="M412.0 115.3l0 3.4 .1 3.7 .2 3.7 .1 3.6 .2 3.7 .1 3.7" stroke="#ff1c00"/><path d="M412.7 137.1l.3-.6" stroke="#ff0700"/><path d="M413.0 136.5l.5-.6" stroke="#9d0000"/><path d="M413.5 135.9l.6-1.7" stroke="#5e0000"/><path d="M414.1 134.2l.6-1.8 .5-1.4 .6-.6" stroke="#490000"/><path d="M415.8 130.4l.5 .3 .6 .6 .5 .6" stroke="#340000"/><path d="M417.4 131.9l.6 .3 .6-2" stroke="#200000"/><path d="M418.6 130.2l.5-4.2 .6-3.8" stroke="#340000"/><path d="M419.7 122.2l.2-.9 .3-.4 .6-.6" stroke="#490000"/><path d="M420.8 120.3l.5-.4 .6-.3 .6-.5" stroke="#5e0000"/><path d="M422.5 119.1l.2-.4" stroke="#730000"/><path d="M422.7 118.7l.3-.5" stroke="#880000"/><path d="M423.0 118.2l.6-1.9" stroke="#9d0000"/><path d="M423.6 116.3l.2-3.4 .1-3.4" stroke="#b20000"/><path d="M423.9 109.5l.2-3.5 .2-3" stroke="#c70000"/><path d="M424.3 103.0l.2-3 .2-3" stroke="#dc0000"/><path d="M424.7 97.0l.3 3.6 .2 3.6 .2 3.6 .1 3.7 .2 3.7 .1 3.7" stroke="#f10000"/><path d="M425.8 118.9l.1 3.1 .2 3" stroke="#ff0700"/><path d="M426.1 125.0l.1 3.1 .2 3" stroke="#ff1c00"/><path d="M426.4 131.1l.2 2 .3-.1" stroke="#ff3000"/><path d="M426.9 133.0l.6-1.1" stroke="#ff0700"/><path d="M427.5 131.9l.5-2.4" stroke="#f10000"/><path d="M428.0 129.5l.4-2.6" stroke="#ff0700"/><path d="M428.4 126.9l.1-4 0-4 .1-4" stroke="#ff1c00"/><path d="M428.6 114.9l0-3.1 .1-3.2 0-3.2 0-3.2 .1-3.2" stroke="#ff4500"/><path d="M428.8 99.0l0-3.2 0-3.2 .1-3.2 0-3.2" stroke="#ff6f00"/><path d="M428.9 86.2l.1-3.1 0-3.2 0-3.2 .1-3.2 0-3.2" stroke="#ff9900"/><path d="M429.1 70.3l0-3.2 .1-3.3 0-3.3 .1-3.3" stroke="#ffd800"/><path d="M429.3 57.2l0-3.2 0-3.3 .1-3.3 0-3.3 0-3.3 .1 3.1 0 3.1 0 3.1 .1 3.2 0 3.1" stroke="#ffff04"/><path d="M429.6 56.4l0 3.1 .1 3.1 0 3.1 0 3.1 .1 3.1" stroke="#ffd800"/><path d="M429.8 71.9l0 3 0 3.1 .1 3.1 0 3.1" stroke="#ff9900"/><path d="M429.9 84.2l0 3 0 3.1 .1 3.1 0 3 0 3.1" stroke="#ff6f00"/><path d="M430.0 99.5l.1 3.1 0 3.1 0 3 .1 3.1 0 3.1" stroke="#ff4500"/><path d="M430.2 114.9l0 3.1 .1 3 .1 3.6 .1 3.5 .2 3.6 .1 3.5 .2 3.5" stroke="#ff1c00"/><path d="M431.0 138.7l.1 3.6" stroke="#f10000"/><path d="M431.1 142.3l.3-.3" stroke="#c70000"/><path d="M431.4 142.0l.5-1.9" stroke="#880000"/><path d="M431.9 140.1l.6-2.9" stroke="#5e0000"/><path d="M432.5 137.2l.5-3.2 .6-2.5 .6-1.1" stroke="#490000"/><path d="M434.2 130.4l.5 1.7 .6 3.3 .5 2.8" stroke="#340000"/><path d="M435.8 138.2l.3 .4 .3-.6" stroke="#200000"/><path d="M436.4 138.0l.5-3.6 .6-4.7 .6-2.8" stroke="#340000"/><path d="M438.1 126.9l.5-.7" stroke="#490000"/><path d="M438.6 126.2l.6-.4 .5-.4" stroke="#5e0000"/><path d="M439.7 125.4l.6-.5 .3-.3" stroke="#730000"/><path d="M440.6 124.6l.2-.5" stroke="#880000"/><path d="M440.8 124.1l.6-1.7" stroke="#9d0000"/><path d="M441.4 122.4l.3-1.4" stroke="#b20000"/><path d="M441.7 121.0l.1-3.4 .2-3.4" stroke="#c70000"/><path d="M442.0 114.2l.1-3.3 .1-3.3 .1-3.4 .1-3.3" stroke="#dc0000"/><path d="M442.4 100.9l.1-3.3 .2 3.2 .2 3.1 .2 3.2 .1 3.6 .1 3.5 .1 3.6 .1 3.5" stroke="#f10000"/><path d="M443.5 121.3l.1 3.6 .2 3.1" stroke="#ff0700"/><path d="M443.8 128.0l.2 3.2" stroke="#ff1c00"/><path d="M444.0 131.2l.2 3.2" stroke="#ff3000"/><path d="M444.2 134.4l.5-.5" stroke="#ff1c00"/><path d="M444.7 133.9l.6-1.8 .6-3.1 .2-2.1" stroke="#ff0700"/><path d="M446.1 126.9l.1-3.2 0-3.2 0-3.2 .1-3.2" stroke="#ff1c00"/><path d="M446.3 114.1l0-3.2 0-3.2 .1-3.2 0-3.2 0-3" stroke="#ff3000"/><path d="M446.4 98.3l.1-3 0-3 0-3 .1-3.1 0-3" stroke="#ff5a00"/><path d="M446.6 83.2l0-3 .1-3 0-3 0-3 .1-3" stroke="#ff6f00"/><path d="M446.8 68.2l0-3 0-3.1 .1-3 0-3 0-3" stroke="#ff9900"/><path d="M446.9 53.1l.1-3 0-3.2 0-3.2 .1-3.2 0-3.2 0 3.2 .1 3.2 0 3.3 0 3.2 .1 3.2" stroke="#ffae00"/><path d="M447.3 53.4l0 3.2 0 3.2 .1 3.3 0 3.2 0 3.2" stroke="#ff9900"/><path d="M447.4 69.5l.1 3.2 0 3.2 0 3.3 .1 3.2" stroke="#ff6f00"/><path d="M447.6 82.4l0 3.2 0 3.2 .1 3.2 0 3.3 0 3.2" stroke="#ff5a00"/><path d="M447.7 98.5l.1 3.2 0 3.2 0 3.3 0 3.2 .1 3.2" stroke="#ff3000"/><path d="M447.9 114.6l0 3.2 0 3.2 .2 2.7 .2 3.6 .2 3.6 .1 3.5" stroke="#ff1c00"/><path d="M448.6 134.4l.3 5.4" stroke="#dc0000"/><path d="M448.9 139.8l.3-.3" stroke="#9d0000"/><path d="M449.2 139.5l.6-1.7" stroke="#730000"/><path d="M449.8 137.8l.5-2.4 .3-1 .3-.9 .5-2.2" stroke="#490000"/><path d="M451.4 131.3l.6-2.1 .5-1.6" stroke="#340000"/><path d="M452.5 127.6l.6-.7" stroke="#730000"/><path d="M453.1 126.9l.3 3.1 .3 3.1 .1 3.2 .2 3.2 .2 3.2 .3 1.8 .1-3.8 .2-3.8 .1-3.1 0-3.1 .1-3.1 .1-3.1 .1-3.1 0-3.1 .1-3.1 .6 .6 .5 1.1 .6 .6 .6-2.8" stroke="#5e0000"/><path d="M457.6 114.7l.2-3" stroke="#c70000"/><path d="M457.8 111.7l.1-3.4 0-3.4 .1-3.3" stroke="#ff3000"/><path d="M458.0 101.6l0-3.4 .1-3.3 0-3.4 .1-3.1 0-3.1" stroke="#ff4500"/><path d="M458.2 85.3l0-3.1 .1-3.1 0-3.1 .1-3.1" stroke="#ff5a00"/><path d="M458.4 72.9l0-3.1 .1-3.1 0-3.1 0-3.1 .1-3.1 0-3.1 .1-3.1 0-4 .1-4 0 3.3 .1 3.3 .1 3.2 0 3.3 .1 3.3 .1 3.3 0 3.3 .1 3.3 .1 3.2" stroke="#ff6f00"/><path d="M459.4 72.7l0 3.2 .1 3.2 0 3.2 .1 3.2" stroke="#ff5a00"/><path d="M459.6 85.5l.1 3.2 0 3.2 .1 3.2 0 3.2 .1 3.2" stroke="#ff4500"/><path d="M459.9 101.5l.1 3.2 0 3.2 .1 3.2 .1 3.3" stroke="#ff3000"/><path d="M460.2 114.4l0 3.2 .1 3.2" stroke="#ff1c00"/><path d="M460.3 120.8l0 3.2" stroke="#ff0700"/><path d="M460.3 124.0l.6 2.2 .6 1.8 .5 1.5 .6 1.1 .5 .9 .6 .7 .5 .4 .6 .1 .3 .1 .3-.2 .5-1.5 .6-2.4 .5-2.5 .6-2 .5-.8 .6 .1 .6 .3 .5 .5 .6 .4 .5 .3 .6 .1 .5 0 .6-.2 .6-.1 .5-.2 .6 0 .5 0 .6 0 .5 0 .6 0 .3 0 .3-1.1" stroke="#340000"/><path d="M477.1 123.5l.2-2.5" stroke="#730000"/><path d="M477.3 121.0l.2-3.2" stroke="#b20000"/><path d="M477.5 117.8l.1-3.2 .2-3.5 .1-3.4" stroke="#c70000"/><path d="M477.9 107.7l.1-3.5 .2-3.5" stroke="#dc0000"/><path d="M478.2 100.7l.3 3.2 .2 3.2 .2 3.3 .1 3.2 .1 3.3 .2 3.3" stroke="#f10000"/><path d="M479.3 120.2l.2 3.6 .2 3.6" stroke="#ff0700"/><path d="M479.7 127.4l.1 3.6" stroke="#ff1c00"/><path d="M479.8 131.0l.3 1.8 .3-.1" stroke="#ff3000"/><path d="M480.4 132.7l.6-.9" stroke="#ff1c00"/><path d="M481.0 131.8l.5-1.9" stroke="#f10000"/><path d="M481.5 129.9l.6-3" stroke="#ff0700"/><path d="M482.1 126.9l0-3.1 0-3.1 .1-3.1 0-3" stroke="#ff1c00"/><path d="M482.2 114.6l0-3.1 .1-3.1 0-3.1 0-3.1 0-3.1 .1-3.1" stroke="#ff4500"/><path d="M482.4 96.0l0-3.1 0-3 .1-3.1 0-3.1 0-3.1 0-3.1" stroke="#ff8400"/><path d="M482.5 77.5l.1-3.1 0-3.1 0-3 .1-3.2 0-3.2" stroke="#ffc300"/><path d="M482.7 61.9l0-3.1 .1-3.2 0-3.1 0-3.2 0-3.2 .1-3.1" stroke="#ffff04"/><path d="M482.9 43.0l0-3.2 0-3.1 .1-3.2 0-3.1 0-3.2 0 3 .1 3.1 0 3 0 3 .1 3 0 3.1" stroke="#ffff43"/><path d="M483.2 45.4l0 3 0 3 .1 3 0 3.1 0 3" stroke="#ffff04"/><path d="M483.3 60.5l.1 3 0 3.1 0 3 0 3 .1 3 0 3.1" stroke="#ffc300"/><path d="M483.5 78.7l0 3 .1 3 0 3 0 3.1 0 3 .1 3" stroke="#ff8400"/><path d="M483.7 96.8l0 3.1 0 3 0 3 .1 3 0 3.1" stroke="#ff4500"/><path d="M483.8 112.0l0 3 .1 3 0 3 .1 3.1 .1 3.1 .1 3 .1 3.1 .1 4.1" stroke="#ff1c00"/><path d="M484.4 137.4l.2 4.1" stroke="#ff0700"/><path d="M484.6 141.5l.3-1" stroke="#dc0000"/><path d="M484.9 140.5l.5-4.7" stroke="#880000"/><path d="M485.4 135.8l.3-1.4 .3-.5" stroke="#5e0000"/><path d="M486.0 133.9l.5-.9 .6-.6 .5-.2" stroke="#490000"/><path d="M487.6 132.2l.6 .4 .6 1 .5 1.2" stroke="#340000"/><path d="M489.3 134.8l.6 1.1" stroke="#200000"/><path d="M489.9 135.9l.5 .4 .6-1.5 .5-3.3" stroke="#340000"/><path d="M491.5 131.5l.6-3.9 .6-3" stroke="#490000"/><path d="M492.7 124.6l.2-.6 .3-.3 .6-.3" stroke="#5e0000"/><path d="M493.8 123.4l.5-.3" stroke="#730000"/><path d="M494.3 123.1l.6-.3" stroke="#880000"/><path d="M494.9 122.8l.3-.2" stroke="#9d0000"/><path d="M495.2 122.6l.2-.4" stroke="#b20000"/><path d="M495.4 122.2l.6-1.2" stroke="#c70000"/><path d="M496.0 121.0l.3-1.1 .1-3.2" stroke="#dc0000"/><path d="M496.4 116.7l.2-3.2 .1-3.2 .1-3.2 .1-3.1 .1-3.2 .1-3.2 .3 4.1 .3 4.2" stroke="#f10000"/><path d="M497.7 105.9l.1 3.1 .1 3" stroke="#ff0700"/><path d="M497.9 112.0l.1 3.1 .1 3.1" stroke="#ff1c00"/><path d="M498.1 118.2l.1 3.1 .3 4.2" stroke="#ff3000"/><path d="M498.5 125.5l.3 4.1" stroke="#ff1c00"/><path d="M498.8 129.6l.5-.6" stroke="#ff0700"/><path d="M499.3 129.0l.6-1.9" stroke="#f10000"/><path d="M499.9 127.1l.3-1.4" stroke="#ff0700"/><path d="M500.2 125.7l0-3.1 .1-3.1 0-3.1 0-3.2" stroke="#ff1c00"/><path d="M500.3 113.2l.1-3.1 0-3.1 0-3.1 .1-3.2 0-3.1" stroke="#ff4500"/><path d="M500.5 97.6l0-3.1 .1-3.1 0-3.2 0-3.1 .1-3.1" stroke="#ff8400"/><path d="M500.7 82.0l0-3.1 0-3.2 .1-3.1 0-3.1 0-3.1" stroke="#ffae00"/><path d="M500.8 66.4l.1-3.1 0-3.2 0-3.1 .1-3.1 0-3.1" stroke="#ffed00"/><path d="M501.0 50.8l.1-3.8 0-3.7 0-3.8 .1-3.7 0 3.1 0 3.2 .1 3.2 0 3.1 0 3.2" stroke="#ffff23"/><path d="M501.3 51.6l.1 3.2 0 3.1 0 3.2 .1 3.2 0 3.1" stroke="#ffed00"/><path d="M501.5 67.4l0 3.2 0 3.2 .1 3.1 0 3.2 0 3.1" stroke="#ffae00"/><path d="M501.6 83.2l.1 3.2 0 3.1 0 3.2 .1 3.1 0 3.2" stroke="#ff8400"/><path d="M501.8 99.0l0 3.1 0 3.2 .1 3.1 0 3.2 0 3.1" stroke="#ff4500"/><path d="M501.9 114.7l.1 3.2 0 3.1 .1 2.5 .2 3.2 .2 3.2 .2 3.2" stroke="#ff1c00"/><path d="M502.7 133.1l.3 4.8" stroke="#f10000"/><path d="M503.0 137.9l.2-.2" stroke="#9d0000"/><path d="M503.2 137.7l.6-1.6" stroke="#730000"/><path d="M503.8 136.1l.6-2.4 .5-2.7 .6-2.1" stroke="#490000"/><path d="M505.5 128.9l.5-.8 .6 1 .5 2 .6 1.1" stroke="#340000"/><path d="M507.7 132.2l.6-1" stroke="#200000"/><path d="M508.3 131.2l.5-2.3 .6-2.9" stroke="#340000"/><path d="M509.4 126.0l.5-2.7 .6-1.8 .3-.2" stroke="#490000"/><path d="M510.8 121.3l.2 0 .6 .1 .6 .3 .5 .2" stroke="#5e0000"/><path d="M512.7 121.9l.6 .2" stroke="#730000"/><path d="M513.3 122.1l.5 .1" stroke="#880000"/><path d="M513.8 122.2l.6-.9" stroke="#9d0000"/><path d="M514.4 121.3l.5-2.6" stroke="#c70000"/><path d="M514.9 118.7l.1-3 .1-3.1 .1-3 .1-3 .1-3.1" stroke="#dc0000"/><path d="M515.4 103.5l.1-3 .3-5.9 .3 2.7 .1 3 .1 3.1 .1 3 .1 3.1" stroke="#f10000"/><path d="M516.5 109.5l.1 3 .1 3.1 .1 3" stroke="#ff0700"/><path d="M516.8 118.6l.2 3.1 .1 3" stroke="#ff1c00"/><path d="M517.1 124.7l.1 3.1 .3 2.6" stroke="#ff3000"/><path d="M517.5 130.4l.2-.1" stroke="#ff1c00"/><path d="M517.7 130.3l.6-1" stroke="#ff0700"/><path d="M518.3 129.3l.5-2.1" stroke="#f10000"/><path d="M518.8 127.2l.3-1.5" stroke="#ff0700"/><path d="M519.1 125.7l.1-3.1 0-3.1 0-3.1 .1-3.2" stroke="#ff1c00"/><path d="M519.3 113.2l0-3.1 0-3.1 .1-3.1 0-3.2 0-3.1" stroke="#ff4500"/><path d="M519.4 97.6l.1-3.1 0-3.1 0-3.2 .1-3.1 0-3.1" stroke="#ff8400"/><path d="M519.6 82.0l.1-3.1 0-3.2 0-3.1 .1-3.1 0-3.1" stroke="#ffae00"/><path d="M519.8 66.4l0-3.1 .1-3.2 0-3.1 0-3.1 .1-3.1" stroke="#ffed00"/><path d="M520.0 50.8l0-3.8 0-3.7 .1-3.8 0-3.7 .1 3.1 0 3.2 0 3.2 .1 3.1 0 3.2" stroke="#ffff23"/><path d="M520.3 51.6l0 3.2 0 3.1 .1 3.2 0 3.2 0 3.1" stroke="#ffed00"/><path d="M520.4 67.4l.1 3.2 0 3.2 0 3.1 .1 3.2 0 3.1" stroke="#ffae00"/><path d="M520.6 83.2l0 3.2 0 3.1 .1 3.2 0 3.1 0 3.2" stroke="#ff8400"/><path d="M520.7 99.0l.1 3.1 0 3.2 0 3.1 0 3.2 .1 3.1" stroke="#ff4500"/><path d="M520.9 114.7l0 3.2 0 3.1 .2 2.7 .2 3.4 .1 3.5 .2 3.5" stroke="#ff1c00"/><path d="M521.6 134.1l.3 5.2" stroke="#f10000"/><path d="M521.9 139.3l.3-.1" stroke="#9d0000"/><path d="M522.2 139.2l.6-.8" stroke="#730000"/><path d="M522.8 138.4l.5-1.2 .6-1.3 .5-1.1" stroke="#490000"/><path d="M524.4 134.8l.6-.4 .5 .3 .6 .5 .6 .4" stroke="#340000"/><path d="M526.7 135.6l.2 .1 .3-.3" stroke="#200000"/><path d="M527.2 135.4l.6-1.9 .5-3" stroke="#340000"/><path d="M528.3 130.5l.6-3.1 .5-2.2 .3-.4" stroke="#490000"/><path d="M529.7 124.8l.3-.1 .6-.2 .5-.1 .6-.2" stroke="#5e0000"/><path d="M531.7 124.2l.5-.2" stroke="#730000"/><path d="M532.2 124.0l.6-1.3" stroke="#880000"/><path d="M532.8 122.7l.5-2.8" stroke="#b20000"/><path d="M533.3 119.9l.2-3.1 .1-3.1 .2-3.1" stroke="#c70000"/><path d="M533.8 110.6l.1-3 .2-3.6" stroke="#dc0000"/><path d="M534.1 104.0l.2-3.5 .2-3.5 .2 4.2 .3 4.2 .1 3.2 .1 3.1" stroke="#f10000"/><path d="M535.2 111.7l.1 3.2 .2 3.1 .1 3.1" stroke="#ff0700"/><path d="M535.6 121.1l.2 4.3" stroke="#ff1c00"/><path d="M535.8 125.4l.3 4.2" stroke="#ff3000"/><path d="M536.1 129.6l.6-.3" stroke="#ff1c00"/><path d="M536.7 129.3l.5-1.1 .6-2.2" stroke="#ff0700"/><path d="M537.8 126.0l.1-.3 .1-3.2 0-3.2 0-3.2 .1-3.2" stroke="#ff1c00"/><path d="M538.1 112.9l0-3.2 0-3.2 .1-3.2 0-3.2 0-3.2" stroke="#ff4500"/><path d="M538.2 96.9l.1-3.3 0-3.2 0-3.2 .1-3.2 0-3.1" stroke="#ff8400"/><path d="M538.4 80.9l0-3.1 0-3.1 .1-3.1 0-3.1 0-3.1" stroke="#ffc300"/><path d="M538.5 65.4l.1-3.1 0-3.1 0-3.1 .1-3.2 0-3.1 0-3.1" stroke="#ffff04"/><path d="M538.7 46.7l.1-3.1 0-3.1 0-3.1 .1-3.1 0-3.1" stroke="#ffff43"/><path d="M538.9 31.2l0 2.9" stroke="#ffff62"/><path d="M538.9 34.1l0 3 .1 3.1 0 3 0 3.1" stroke="#ffff43"/><path d="M539.0 46.3l.1 3 0 3.1 0 3 0 3.1 .1 3 0 3.1" stroke="#ffff04"/><path d="M539.2 64.6l0 3 .1 3.1 0 3 0 3.1 0 3.1" stroke="#ffc300"/><path d="M539.3 79.9l.1 3 0 3.1 0 3 .1 3.1 0 3.2 0 3.2" stroke="#ff8400"/><path d="M539.5 98.5l.1 3.2 0 3.2 0 3.3 .1 3.2 0 3.2" stroke="#ff4500"/><path d="M539.7 114.6l0 3.2 0 3.2 .3 3.9 .3 3.9" stroke="#ff1c00"/><path d="M540.3 128.8l.3 3.9" stroke="#ff0700"/><path d="M540.6 132.7l.3 3.9" stroke="#b20000"/><path d="M540.9 136.6l.2-.1" stroke="#730000"/><path d="M541.1 136.5l.6-.8" stroke="#5e0000"/><path d="M541.7 135.7l.6-1.3 .5-1.3 .6-.8" stroke="#490000"/><path d="M543.4 132.3l.2-.1 .3 .1 .6 .8 .5 .9" stroke="#340000"/><path d="M545.0 134.0l.6 .4" stroke="#200000"/><path d="M545.6 134.4l.6-1 .5-2.5 .6-2.9" stroke="#340000"/><path d="M547.3 128.0l.5-2.4 .6-1" stroke="#490000"/><path d="M548.4 124.6l.5 0 .6 0 .6 0 .5 0" stroke="#5e0000"/><path d="M550.6 124.6l.6 0" stroke="#730000"/><path d="M551.2 124.6l.5 0" stroke="#880000"/><path d="M551.7 124.6l.6-1" stroke="#b20000"/><path d="M552.3 123.6l.5-2.6" stroke="#c70000"/><path d="M552.8 121.0l.2-3.4 .1-3.5" stroke="#dc0000"/><path d="M553.1 114.1l.1-3.4 .1-3.5 .1-3.5 .3-5.5 .3 1.8 .1 3.8" stroke="#f10000"/><path d="M554.1 103.8l.2 3.8 .2 3.7" stroke="#ff0700"/><path d="M554.5 111.3l.1 3.4 .2 3.4" stroke="#ff1c00"/><path d="M554.8 118.1l.1 3.5 .2 3.4 .2 3.3" stroke="#ff3000"/><path d="M555.3 128.3l.3 3.3" stroke="#ff1c00"/><path d="M555.6 131.6l.6-.9 .5-3.3" stroke="#ff0700"/><path d="M556.7 127.4l.2-.5 0-3.2 0-3.2 .1-3.2 0-3.2" stroke="#ff1c00"/><path d="M557.0 114.1l0-3.3 .1-3.2 0-3.2 0-3.2 .1-3.2" stroke="#ff4500"/><path d="M557.2 98.0l0-3.2 0-3.2 .1-3.2 0-3.3 0-3.1" stroke="#ff8400"/><path d="M557.3 82.0l.1-3.1 0-3.1 0-3.1 .1-3.1 0-3.1" stroke="#ffc300"/><path d="M557.5 66.5l0-3.1 0-3.2 .1-3.1 0-3.1 0-3.1 .1-3.1" stroke="#ffff04"/><path d="M557.7 47.8l0-3.1 0-3.1 .1-3.1 0-3.1 0-3.2" stroke="#ffff43"/><path d="M557.8 32.2l.1 2.9" stroke="#ffff62"/><path d="M557.9 35.1l0 3 0 3 0 3.1 .1 3" stroke="#ffff43"/><path d="M558.0 47.2l0 3 0 3 .1 3 0 3 0 3 0 3.1" stroke="#ffff04"/><path d="M558.1 65.3l.1 3 0 3 0 3 .1 3 0 3" stroke="#ffc300"/><path d="M558.3 80.3l0 3.1 .1 3 0 3 0 3 0 3.2 .1 3.2" stroke="#ff8400"/><path d="M558.5 98.8l0 3.1 0 3.2 .1 3.2 0 3.2 0 3.2" stroke="#ff4500"/><path d="M558.6 114.7l.1 3.2 0 3.1 .3 4.8 .2 3.2 .1 3.2" stroke="#ff1c00"/><path d="M559.3 132.2l.2 3.2" stroke="#f10000"/><path d="M559.5 135.4l.3 4.8" stroke="#b20000"/><path d="M559.8 140.2l.3-.2" stroke="#730000"/><path d="M560.1 140.0l.5-1.2" stroke="#5e0000"/><path d="M560.6 138.8l.6-1.8 .6-2 .5-1.6" stroke="#490000"/><path d="M562.3 133.4l.6-.6 .5 .6 .6 1.1" stroke="#340000"/><path d="M564.0 134.5l.5 1 .3 .2" stroke="#200000"/><path d="M564.8 135.7l.3-.3 .6-2 .5-3" stroke="#340000"/><path d="M566.2 130.4l.6-3 .5-2 .3-.3" stroke="#490000"/><path d="M567.6 125.1l.3 .1 .5 .1 .6 .1 .6 .2" stroke="#5e0000"/><path d="M569.6 125.6l.5 .1" stroke="#730000"/><path d="M570.1 125.7l.6 0" stroke="#880000"/><path d="M570.7 125.7l.5-1.2" stroke="#9d0000"/><path d="M571.2 124.5l.6-3.5 .1-3.1" stroke="#c70000"/><path d="M571.9 117.9l.1-3.1 .1-3.1 .1-3.1 0-3.2" stroke="#dc0000"/><path d="M572.2 105.4l.1-3.1 .3-5.9 .3 1.9 .2 3.9 .2 3.9" stroke="#f10000"/><path d="M573.3 106.1l.2 3.9 .1 3.6" stroke="#ff0700"/><path d="M573.6 113.6l.1 3.5 .2 3.5 .1 3.6" stroke="#ff1c00"/><path d="M574.0 124.2l.3 3.4" stroke="#ff3000"/><path d="M574.3 127.6l.3 3.4" stroke="#ff1c00"/><path d="M574.6 131.0l.5-.6" stroke="#ff0700"/><path d="M575.1 130.4l.6-2.1" stroke="#f10000"/><path d="M575.7 128.3l.4-2.6" stroke="#ff0700"/><path d="M576.1 125.7l0-3.7 .1-3.7 0-3.7" stroke="#ff1c00"/><path d="M576.2 114.6l0-3.7 .1-3.2 0-3.1 0-3.1 .1-3.1" stroke="#ff5a00"/><path d="M576.4 98.4l0-3.2 0-3.1 0-3.1 .1-3.2 0-3.1 0-3.1" stroke="#ff9900"/><path d="M576.5 79.6l.1-3.2 0-3.1 0-3.1 .1-3.1 0-3.2" stroke="#ffd800"/><path d="M576.7 63.9l0-3.1 0-3.1 .1-3.2 0-3.1 0-3.5" stroke="#ffff04"/><path d="M576.8 47.9l.1-3.4 0-3.5 0-3.5 .1-3.4 0-3.5 0 3.2 .1 3.3 0 3.2 0 3.3 .1 3.2" stroke="#ffff62"/><path d="M577.2 46.8l0 3.2 0 3.3 .1 3.2 0 3.3 0 3.2" stroke="#ffff04"/><path d="M577.3 63.0l.1 3.2 0 3.1 0 3 0 3.1 .1 3 0 3.1" stroke="#ffd800"/><path d="M577.5 81.5l0 3 .1 3 0 3.1 0 3 .1 3.1" stroke="#ff9900"/><path d="M577.7 96.7l0 3 0 3.1 .1 3 0 3.1 0 3 .1 3" stroke="#ff5a00"/><path d="M577.9 114.9l0 3.1 0 3 .3 4.1 .3 4" stroke="#ff1c00"/><path d="M578.5 129.1l.2 4" stroke="#f10000"/><path d="M578.7 133.1l.3 4" stroke="#b20000"/><path d="M579.0 137.1l.6-1.3" stroke="#730000"/><path d="M579.6 135.8l.5-2.7 .6-2.3 .3-.4 .3 .1 .5 .6" stroke="#490000"/><path d="M581.8 131.1l.6 .8 .5 1 .6 .7" stroke="#340000"/><path d="M583.5 133.6l.5 .3" stroke="#200000"/><path d="M584.0 133.9l.6-1.2 .6-2.9" stroke="#340000"/><path d="M585.2 129.8l.5-3.5 .6-2.9" stroke="#490000"/><path d="M586.3 123.4l.5-1.2 .6 0 .5 0" stroke="#5e0000"/><path d="M587.9 122.2l.6 0" stroke="#730000"/><path d="M588.5 122.2l.6 0" stroke="#880000"/><path d="M589.1 122.2l.5-.9" stroke="#9d0000"/><path d="M589.6 121.3l.6-2.6" stroke="#c70000"/><path d="M590.2 118.7l.1-3.5 .1-3.5 .1-3.5 .1-3.6" stroke="#dc0000"/><path d="M590.6 104.6l.1-3.5 .3-5.6 .3 1.5 .2 3.2 .2 3.1" stroke="#f10000"/><path d="M591.7 103.3l.1 3.2 .2 3.2" stroke="#ff0700"/><path d="M592.0 109.7l.1 3.2 .2 3.3" stroke="#ff1c00"/><path d="M592.3 116.2l.1 3.2 .2 3.1 .2 3.2" stroke="#ff3000"/><path d="M592.8 125.7l.2 3.2" stroke="#ff1c00"/><path d="M593.0 128.9l.2 1.5" stroke="#ff0700"/><path d="M593.2 130.4l.3-.2 .6-1.8" stroke="#f10000"/><path d="M594.1 128.4l.4-2.7" stroke="#ff0700"/><path d="M594.5 125.7l0-3.5 .1-3.5 0-3.6" stroke="#ff1c00"/><path d="M594.6 115.1l0-3.5 .1-3.2 0-3.1 0-3.2 .1-3.1" stroke="#ff4500"/><path d="M594.8 99.0l0-3.1 0-3.2 0-3.1 .1-3.2 0-3.1" stroke="#ff8400"/><path d="M594.9 83.3l0-3.2 .1-3.1 0-3.2 0-3.1 .1-3.1" stroke="#ffae00"/><path d="M595.1 67.6l0-3.2 0-3.1 .1-3.2 0-3.1" stroke="#ffed00"/><path d="M595.2 55.0l0-3.4 .1-3.4 0-3.4 0-3.4 .1-3.4 0 3.1 0 3.1 .1 3.1 0 3.1 0 3.1" stroke="#ffff23"/><path d="M595.5 53.5l.1 3.1 0 3.2 0 3.1 .1 3.1 0 3.1" stroke="#ffed00"/><path d="M595.7 69.1l0 3.1 .1 3 0 3.1 0 3 .1 3.1" stroke="#ffae00"/><path d="M595.9 84.4l0 3.1 .1 3 0 3.1 0 3 .1 3.1" stroke="#ff8400"/><path d="M596.1 99.7l0 3 0 3.1 .1 3 0 3.1 0 3" stroke="#ff4500"/><path d="M596.2 114.9l.1 3.1 0 3 .3 3.3 .3 3.3" stroke="#ff1c00"/><path d="M596.9 127.6l.1 3" stroke="#f10000"/><path d="M597.0 130.6l.2 3.1" stroke="#c70000"/><path d="M597.2 133.7l.2 3" stroke="#9d0000"/><path d="M597.4 136.7l.3 .8" stroke="#730000"/><path d="M597.7 137.5l.3 0" stroke="#5e0000"/><path d="M598.0 137.5l.5-.1 .6 0 .5 0" stroke="#490000"/><path d="M599.6 137.4l.6-.1 .6-.1 .5-.1 .6-.1" stroke="#340000"/><path d="M601.9 137.0l.5-.1" stroke="#200000"/><path d="M602.4 136.9l.6-2 .5-4.1" stroke="#340000"/><path d="M603.5 130.8l.6-4.1 .6-1.9 .5-.1" stroke="#490000"/><path d="M605.2 124.7l.6 0 .5 0 .6 0" stroke="#5e0000"/><path d="M606.9 124.7l.5-.1 .3 0" stroke="#730000"/><path d="M607.7 124.6l.3-.5" stroke="#880000"/><path d="M608.0 124.1l.6-3.1" stroke="#9d0000"/><path d="M608.6 121.0l.1-3.1 0-3.1" stroke="#b20000"/><path d="M608.7 114.8l.1-3.1 .1-3.1 .1-3.1 .1-3.2" stroke="#c70000"/><path d="M609.1 102.3l.3-5.9 .3 1.2" stroke="#dc0000"/><path d="M609.7 97.6l.3 3.9 .2 3.9 .2 3.7 .2 3.7" stroke="#f10000"/><path d="M610.6 112.8l.2 3.8 .2 3.3" stroke="#ff0700"/><path d="M611.0 119.9l.2 3.4" stroke="#ff1c00"/><path d="M611.2 123.3l.1 3.3" stroke="#ff3000"/><path d="M611.3 126.6l.6 4.4" stroke="#ff1c00"/><path d="M611.9 131.0l.6-.6" stroke="#ff0700"/><path d="M612.5 130.4l.5-2.1" stroke="#f10000"/><path d="M613.0 128.3l.4-2.6" stroke="#ff0700"/><path d="M613.4 125.7l.1-3 0-3 0-3 0-3" stroke="#ff1c00"/><path d="M613.5 113.7l.1-3 0-3.1 0-3 .1-3 0-3" stroke="#ff5a00"/><path d="M613.7 98.6l0-3 0-3 .1-3.1 0-3 0-3 .1-3" stroke="#ff9900"/><path d="M613.9 80.5l0-3 0-3 0-3.1 .1-3 0-3" stroke="#ffd800"/><path d="M614.0 65.4l0-3 0-3 .1-3 0-3 0-3.1 .1-3" stroke="#ffff04"/><path d="M614.2 47.3l0-3 0-3 0-3 .1-3 0-3.1 0 3.1 .1 3.1 0 3 0 3.1 0 3.1" stroke="#ffff62"/><path d="M614.4 47.6l.1 3 0 3.1 0 3 0 3.1 .1 3.1 0 3" stroke="#ffff04"/><path d="M614.6 65.9l0 3.1 .1 3 0 3.1 0 3.1 0 3" stroke="#ffd800"/><path d="M614.7 81.2l.1 3.1 0 3.1 0 3 .1 3.1 0 3" stroke="#ff9900"/><path d="M614.9 96.5l0 3.1 0 3.1 .1 3 0 3.1 0 3.1 .1 3" stroke="#ff5a00"/><path d="M615.1 114.9l0 3.1 0 3 .1 3 .2 3.9 .2 3.9 .2 3.9" stroke="#ff1c00"/><path d="M615.8 135.7l.6-.6" stroke="#c70000"/><path d="M616.4 135.1l.5-1.5" stroke="#730000"/><path d="M616.9 133.6l.6-1.7 .5-1.5 .6-.6" stroke="#490000"/><path d="M618.6 129.8l.5 .4 .6 .9 .6 .9 .5 .7" stroke="#340000"/><path d="M620.8 132.7l.3 .1 .3-.5" stroke="#200000"/><path d="M621.4 132.3l.5-2.7 .6-3.8" stroke="#340000"/><path d="M622.5 125.8l.5-3 .3-.6 .3-.2 .6-.2" stroke="#490000"/><path d="M624.2 121.8l.5-.2 .6-.1 .5-.3 .3-.2" stroke="#5e0000"/><path d="M626.1 121.0l.3-.3" stroke="#730000"/><path d="M626.4 120.7l.5-1.1" stroke="#880000"/><path d="M626.9 119.6l.6-2.1" stroke="#b20000"/><path d="M627.5 117.5l.2-3.8 .2-3.8" stroke="#c70000"/><path d="M627.9 109.9l.2-3.9 .1-3.4" stroke="#dc0000"/><path d="M628.2 102.6l.2-3.4 .2-3.4 .3 3.5 .3 3.4 .1 3.5 .2 3.5" stroke="#f10000"/><path d="M629.5 109.7l.1 3.6 .1 3.5" stroke="#ff0700"/><path d="M629.7 116.8l.2 3.9" stroke="#ff1c00"/><path d="M629.9 120.7l.2 3.9 .2 3.9 .3 1.9" stroke="#ff3000"/><path d="M630.6 130.4l.2-.1" stroke="#ff1c00"/><path d="M630.8 130.3l.6-1.2 .6-2.9" stroke="#ff0700"/><path d="M632.0 126.2l.1-.5 0-3 .1-3.1 0-3 0-3" stroke="#ff1c00"/><path d="M632.2 113.6l.1-3.1 0-3 0-3.1 0-3 .1-3 0-3.1" stroke="#ff5a00"/><path d="M632.4 95.3l0-3 .1-3.1 0-3 0-3.1 .1-3.1" stroke="#ff9900"/><path d="M632.6 80.0l0-3.2 0-3.2 0-3.2 .1-3.1 0-3.2" stroke="#ffed00"/><path d="M632.7 64.1l0-3.2 .1-3.1 0-3.2 0-3.2 .1-3.2 0-3.1" stroke="#ffff43"/><path d="M632.9 45.1l0-3.2 .1-3.2 0-3.2 0-3.1 0-3.2" stroke="#ffffa1"/><path d="M633.0 29.2l.1 3" stroke="#ffffc0"/><path d="M633.1 32.2l0 3.1 0 3.1 .1 3.1 0 3.1" stroke="#ffffa1"/><path d="M633.2 44.6l0 3.2 .1 3.1 0 3.1 0 3.1 0 3.1 .1 3.1" stroke="#ffff43"/><path d="M633.4 63.3l0 3.2 0 3.1 .1 3.1 0 3.1 0 3.1" stroke="#ffed00"/><path d="M633.5 78.9l0 3.2 .1 3.1 0 3.1 0 3.1 .1 3.3 0 3.3" stroke="#ff9900"/><path d="M633.7 98.0l0 3.3 .1 3.3 0 3.3 0 3.3 .1 3.3" stroke="#ff5a00"/><path d="M633.9 114.5l0 3.2 0 3.3 .3 4.4 .3 4.3" stroke="#ff1c00"/><path d="M634.5 129.7l.2 4.4" stroke="#ff0700"/><path d="M634.7 134.1l.3 4.3" stroke="#b20000"/><path d="M635.0 138.4l.3-.2" stroke="#730000"/><path d="M635.3 138.2l.6-1.2" stroke="#5e0000"/><path d="M635.9 137.0l.5-1.9 .6-2.2 .5-1.8" stroke="#490000"/><path d="M637.5 131.1l.3-.7 .3-.5 .5-.8 .6-.8" stroke="#340000"/><path d="M639.2 128.3l.6-.6" stroke="#200000"/><path d="M639.8 127.7l.5-.8 .6-.8 .5-.7" stroke="#340000"/><path d="M641.4 125.4l.6-.8 .5-.7 .6-.9 .6-.9 .2-.5 .3-.6" stroke="#490000"/></g><path d="M365.17 156.23v-3.00M365.17 3.74v3.00M376.34 156.23v-1.80M376.34 3.74v1.80M387.51 156.23v-1.80M387.51 3.74v1.80M398.67 156.23v-1.80M398.67 3.74v1.80M409.84 156.23v-1.80M409.84 3.74v1.80M421.01 156.23v-3.00M421.01 3.74v3.00M432.18 156.23v-1.80M432.18 3.74v1.80M443.35 156.23v-1.80M443.35 3.74v1.80M454.51 156.23v-1.80M454.51 3.74v1.80M465.68 156.23v-1.80M465.68 3.74v1.80M476.85 156.23v-3.00M476.85 3.74v3.00M488.02 156.23v-1.80M488.02 3.74v1.80M499.19 156.23v-1.80M499.19 3.74v1.80M510.35 156.23v-1.80M510.35 3.74v1.80M521.52 156.23v-1.80M521.52 3.74v1.80M532.69 156.23v-3.00M532.69 3.74v3.00M543.86 156.23v-1.80M543.86 3.74v1.80M555.03 156.23v-1.80M555.03 3.74v1.80M566.19 156.23v-1.80M566.19 3.74v1.80M577.36 156.23v-1.80M577.36 3.74v1.80M588.53 156.23v-3.00M588.53 3.74v3.00M599.70 156.23v-1.80M599.70 3.74v1.80M610.87 156.23v-1.80M610.87 3.74v1.80M622.03 156.23v-1.80M622.03 3.74v1.80M633.20 156.23v-1.80M633.20 3.74v1.80M644.37 156.23v-3.00M644.37 3.74v3.00M365.17 156.23h1.80M644.37 156.23h-1.80M365.17 150.37h1.80M644.37 150.37h-1.80M365.17 144.50h3.00M644.37 144.50h-3.00M365.17 138.63h1.80M644.37 138.63h-1.80M365.17 132.77h1.80M644.37 132.77h-1.80M365.17 126.91h1.80M644.37 126.91h-1.80M365.17 121.04h3.00M644.37 121.04h-3.00M365.17 115.18h1.80M644.37 115.18h-1.80M365.17 109.31h1.80M644.37 109.31h-1.80M365.17 103.45h1.80M644.37 103.45h-1.80M365.17 97.58h3.00M644.37 97.58h-3.00M365.17 91.72h1.80M644.37 91.72h-1.80M365.17 85.85h1.80M644.37 85.85h-1.80M365.17 79.98h1.80M644.37 79.98h-1.80M365.17 74.12h3.00M644.37 74.12h-3.00M365.17 68.26h1.80M644.37 68.26h-1.80M365.17 62.39h1.80M644.37 62.39h-1.80M365.17 56.52h1.80M644.37 56.52h-1.80M365.17 50.66h3.00M644.37 50.66h-3.00M365.17 44.79h1.80M644.37 44.79h-1.80M365.17 38.93h1.80M644.37 38.93h-1.80M365.17 33.06h1.80M644.37 33.06h-1.80M365.17 27.20h3.00M644.37 27.20h-3.00M365.17 21.33h1.80M644.37 21.33h-1.80M365.17 15.47h1.80M644.37 15.47h-1.80M365.17 9.61h1.80M644.37 9.61h-1.80M365.17 3.74h3.00M644.37 3.74h-3.00" stroke="#222" stroke-width="0.9" fill="none"/><rect x="365.62" y="4.00" width="278.80" height="152.50" fill="none" stroke="#4c4c4c" stroke-width="1.0" stroke-linejoin="round"/><text x="362.17" y="148.60" text-anchor="end" class="tk">0.0</text><text x="362.17" y="125.14" text-anchor="end" class="tk">0.2</text><text x="362.17" y="101.68" text-anchor="end" class="tk">0.4</text><text x="362.17" y="78.22" text-anchor="end" class="tk">0.6</text><text x="362.17" y="54.76" text-anchor="end" class="tk">0.8</text><text x="362.17" y="31.30" text-anchor="end" class="tk"><tspan class="hid">1</tspan>.0</text><polygon points="350.51,24.21 351.34,24.21 351.34,31.30 350.44,31.30 350.44,25.06 348.84,26.21 348.84,25.39" class="tk one"/><text x="362.17" y="7.84" text-anchor="end" class="tk"><tspan class="hid">1</tspan>.2</text><polygon points="350.51,0.75 351.34,0.75 351.34,7.84 350.44,7.84 350.44,1.60 348.84,2.75 348.84,1.93" class="tk one"/><text x="365.17" y="167.23" text-anchor="middle" class="tk">0.0</text><text x="421.01" y="167.23" text-anchor="middle" class="tk">2.0</text><text x="476.85" y="167.23" text-anchor="middle" class="tk">4.0</text><text x="532.69" y="167.23" text-anchor="middle" class="tk">6.0</text><text x="588.53" y="167.23" text-anchor="middle" class="tk">8.0</text><text x="644.37" y="167.23" text-anchor="middle" class="tk"><tspan class="hid">1</tspan>0.0</text><polygon points="637.01,160.14 637.84,160.14 637.84,167.23 636.93,167.23 636.93,160.99 635.34,162.14 635.34,161.32" class="tk one"/><text x="504.77" y="181.33" text-anchor="middle" class="ax">Time / s</text><text transform="translate(341.67 79.69) rotate(-90)" text-anchor="middle" class="ax">Amplitude / a.u.</text><text transform="translate(493.00 207.30) scale(1.115 1)" text-anchor="middle" class="cap">(b) Long-term, non-AF classification</text><rect x="663.50" y="3.50" width="7.80" height="154.30" fill="url(#hotg)" stroke="#333" stroke-width="0.9"/><text x="673.20" y="6.20" text-anchor="start" class="cb"><tspan class="hid">1</tspan>.0</text><polygon points="675.39,0.35 676.08,0.35 676.08,6.20 675.33,6.20 675.33,1.05 674.02,2.00 674.02,1.32" class="cb one"/><text x="672.80" y="160.40" class="cb">0</text><text transform="translate(684.30 81.50) rotate(-90)" text-anchor="middle" class="cb2">Relevance / a.u.</text><clipPath id="clip01"><rect x="32.55" y="220.74" width="279.90" height="152.49"/></clipPath><rect x="32.55" y="220.74" width="279.90" height="152.49" fill="#dcdcdc"/><path d="M88.53 220.74V373.23M144.51 220.74V373.23M200.49 220.74V373.23M256.47 220.74V373.23M32.55 361.50H312.45M32.55 338.04H312.45M32.55 314.58H312.45M32.55 291.12H312.45M32.55 267.66H312.45M32.55 244.20H312.45" stroke="#b0b0b0" stroke-width="0.8" fill="none"/><g fill="none" stroke-width="1.80" stroke-linejoin="bevel" stroke-linecap="round" clip-path="url(#clip01)"><path d="M33.0 346.8l.6-.4" stroke="#dc0000"/><path d="M33.6 346.4l.5-1.4 .3-1.1" stroke="#c70000"/><path d="M34.4 343.9l.3-5.6" stroke="#b20000"/><path d="M34.7 338.3l.1-3.5" stroke="#9d0000"/><path d="M34.8 334.8l.2-3.6" stroke="#880000"/><path d="M35.0 331.2l.1-3.5" stroke="#730000"/><path d="M35.1 327.7l.1-3.5" stroke="#5e0000"/><path d="M35.2 324.2l.2 4" stroke="#490000"/><path d="M35.4 328.2l.2 4" stroke="#5e0000"/><path d="M35.6 332.2l.2 3.9" stroke="#730000"/><path d="M35.8 336.1l.1 3.7" stroke="#880000"/><path d="M35.9 339.8l.2 3.8" stroke="#9d0000"/><path d="M36.1 343.6l.1 3" stroke="#b20000"/><path d="M36.2 346.6l.2 3.1" stroke="#c70000"/><path d="M36.4 349.7l.2 3.4" stroke="#f10000"/><path d="M36.6 353.1l.3-.1" stroke="#ff1c00"/><path d="M36.9 353.0l.6-.4 .5-.6 .6-.4" stroke="#ff0700"/><path d="M38.6 351.6l.3-.1" stroke="#c70000"/><path d="M38.9 351.5l.2 1" stroke="#9d0000"/><path d="M39.1 352.5l.6 2.8" stroke="#b20000"/><path d="M39.7 355.3l.6-1.6" stroke="#dc0000"/><path d="M40.3 353.7l.5-3.4" stroke="#9d0000"/><path d="M40.8 350.3l.6-3.4" stroke="#730000"/><path d="M41.4 346.9l.5-1.6" stroke="#b20000"/><path d="M41.9 345.3l.6 1.6" stroke="#dc0000"/><path d="M42.5 346.9l.6 3.6" stroke="#b20000"/><path d="M43.1 350.5l.5 4" stroke="#dc0000"/><path d="M43.6 354.5l.6 2.8" stroke="#ff3000"/><path d="M44.2 357.3l.3 .4" stroke="#ff4500"/><path d="M44.5 357.7l.2-.4" stroke="#ff1c00"/><path d="M44.7 357.3l.6-2.6 .5-3.4" stroke="#f10000"/><path d="M45.8 351.3l.6-2.6 .3-.5" stroke="#dc0000"/><path d="M46.7 348.2l.3 .4" stroke="#c70000"/><path d="M47.0 348.6l.5 2.3" stroke="#f10000"/><path d="M47.5 350.9l.6 3.1 .5 2.3" stroke="#ff3000"/><path d="M48.6 356.3l.3 .4" stroke="#ff1c00"/><path d="M48.9 356.7l.3-.2 .6-1.9" stroke="#ff0700"/><path d="M49.8 354.6l.3-2.5" stroke="#f10000"/><path d="M50.1 352.1l.1-3.3" stroke="#9d0000"/><path d="M50.2 348.8l0-3.3" stroke="#880000"/><path d="M50.2 345.5l0-3.3 .1-3.3 0-3.3 0-3.4" stroke="#730000"/><path d="M50.3 332.2l0-3 .1-3 0-3 0-3 0-3" stroke="#880000"/><path d="M50.4 317.2l.1-3 0-3 0-3 0-3.1 .1-3 0-3" stroke="#b20000"/><path d="M50.6 299.1l0-3 0-3 .1-3 0-3 0-3" stroke="#c70000"/><path d="M50.7 284.1l0-3 .1-3 0-3.1 0-3 0-3" stroke="#f10000"/><path d="M50.8 269.0l.1-3 0-3.3 0-3.3 .1-3.3 0-3.3 0 3.1 0 3.1 .1 3.2 0 3.1 0 3.1" stroke="#ff0700"/><path d="M51.1 268.4l.1 3.1 0 3.2 0 3.1 0 3.1 .1 3.2" stroke="#f10000"/><path d="M51.3 284.1l0 3.1 0 3.1 .1 3.1 0 3.2 0 3.1" stroke="#c70000"/><path d="M51.4 299.7l0 3.1 .1 3.2 0 3.1 0 3.1 0 3.2" stroke="#b20000"/><path d="M51.5 315.4l.1 3.1 0 3.1 0 3.1 .1 3.2 0 3.1" stroke="#880000"/><path d="M51.7 331.0l.1 3.7 0 3.7 .1 3.7 .1 3.7" stroke="#730000"/><path d="M52.0 345.8l.1 3.1 0 3" stroke="#dc0000"/><path d="M52.1 351.9l.1 3" stroke="#ff1c00"/><path d="M52.2 354.9l0 3.1" stroke="#ff5a00"/><path d="M52.2 358.0l.4 .3" stroke="#ff6f00"/><path d="M52.6 358.3l.5 .6 .6-.5" stroke="#ff4500"/><path d="M53.7 358.4l.2-.4" stroke="#ff3000"/><path d="M53.9 358.0l.3-.8" stroke="#ff0700"/><path d="M54.2 357.2l.6-3.4" stroke="#c70000"/><path d="M54.8 353.8l.5-4.4 .6-4.2 .6-2.8 .2-.4" stroke="#b20000"/><path d="M56.7 342.0l.3 .5 .6 2.9" stroke="#c70000"/><path d="M57.6 345.4l.5 4.2 .6 3.7" stroke="#9d0000"/><path d="M58.7 353.3l.6 1.6" stroke="#f10000"/><path d="M59.3 354.9l.5-1.5" stroke="#ff0700"/><path d="M59.8 353.4l.6-3.3 .5-3.3" stroke="#dc0000"/><path d="M60.9 346.8l.6-1.5" stroke="#ff0700"/><path d="M61.5 345.3l.5 2.3" stroke="#dc0000"/><path d="M62.0 347.6l.6 2.5" stroke="#b20000"/><path d="M62.6 350.1l.6 .5" stroke="#9d0000"/><path d="M63.2 350.6l.5 .2" stroke="#880000"/><path d="M63.7 350.8l.6 .2" stroke="#730000"/><path d="M64.3 351.0l.5 .3" stroke="#9d0000"/><path d="M64.8 351.3l.3 .2" stroke="#dc0000"/><path d="M65.1 351.5l.3 1" stroke="#ff0700"/><path d="M65.4 352.5l.6 3.4" stroke="#ff1c00"/><path d="M66.0 355.9l.2 .8" stroke="#ff4500"/><path d="M66.2 356.7l.3-4.6" stroke="#ff1c00"/><path d="M66.5 352.1l0-3.3" stroke="#c70000"/><path d="M66.5 348.8l0-3.3" stroke="#b20000"/><path d="M66.5 345.5l0-3.1 .1-3 0-3 0-3 0-3" stroke="#730000"/><path d="M66.6 330.4l.1-3.1 0-3 0-3 0-3 .1-3" stroke="#880000"/><path d="M66.8 315.3l0-3.1 0-3 0-3 .1-3 0-3.1" stroke="#9d0000"/><path d="M66.9 300.1l0-3 0-3 .1-3 0-3 0-3.1" stroke="#c70000"/><path d="M67.0 285.0l0-3 .1-3 0-3.3 0-3.3 .1-3.4" stroke="#dc0000"/><path d="M67.2 269.0l0-3.3 0-3.3 0-3.3 .1-3.4 0-3.3 0 3.2 .1 3.1 0 3.1 0 3.2 0 3.1" stroke="#f10000"/><path d="M67.4 268.1l.1 3.2 0 3.1 0 3.2 0 3.1 .1 3.1" stroke="#dc0000"/><path d="M67.6 283.8l0 3.2 0 3.1 .1 3.2 0 3.1 0 3.2" stroke="#c70000"/><path d="M67.7 299.6l0 3.1 .1 3.2 0 3.1 0 3.1 .1 3.2" stroke="#9d0000"/><path d="M67.9 315.3l0 3.1 0 3.2 0 3.1 .1 3.2 0 3.1" stroke="#880000"/><path d="M68.0 331.0l.1 3.1 0 3.2 .1 3.1 .1 3.6" stroke="#730000"/><path d="M68.3 344.0l0 3.5 .1 3.5" stroke="#490000"/><path d="M68.4 351.0l.1 3.5" stroke="#9d0000"/><path d="M68.5 354.5l.1 3.5" stroke="#f10000"/><path d="M68.6 358.0l.2-.3" stroke="#ff3000"/><path d="M68.8 357.7l.2-.3" stroke="#ff4500"/><path d="M69.0 357.4l.3-1.9" stroke="#ff3000"/><path d="M69.3 355.5l.6-4.6" stroke="#dc0000"/><path d="M69.9 350.9l.5 2.1" stroke="#f10000"/><path d="M70.4 353.0l.6 3.2" stroke="#ff5a00"/><path d="M71.0 356.2l.3 .6" stroke="#ff9900"/><path d="M71.3 356.8l.2-.9" stroke="#ff5a00"/><path d="M71.5 355.9l.6-5.6" stroke="#f10000"/><path d="M72.1 350.3l.3-3.8 .3-3.7" stroke="#9d0000"/><path d="M72.7 342.8l.5-5.6" stroke="#880000"/><path d="M73.2 337.2l.3-.9" stroke="#730000"/><path d="M73.5 336.3l.3 .6" stroke="#5e0000"/><path d="M73.8 336.9l.5 3.9" stroke="#9d0000"/><path d="M74.3 340.8l.6 6" stroke="#dc0000"/><path d="M74.9 346.8l.6 6" stroke="#ff0700"/><path d="M75.5 352.8l.5 4" stroke="#ff4500"/><path d="M76.0 356.8l.3 .6" stroke="#ff8400"/><path d="M76.3 357.4l.3-.6" stroke="#ff0700"/><path d="M76.6 356.8l.5-3.3" stroke="#5e0000"/><path d="M77.1 353.5l.6-4.1 .5-2" stroke="#490000"/><path d="M78.2 347.4l.6 3.6 .2 1.1 0-3.2 0-3.1" stroke="#5e0000"/><path d="M79.0 345.8l.1-3.2 0-3.2 0-3.2 0-3.1 .1-3.2 0-3.2 0-3.2 0-3.1 .1-3.2 0-3.2 0-3.2 0-3.1 .1-3.2 0-3 0-3.1" stroke="#730000"/><path d="M79.4 298.4l0-3 .1-3 0-3 0-3.1 0-3 .1-3 0-3 0-3 0-3.1 .1-3 0-3 0-3 0-3.1 .1-3 0-3 0-3 0 3.2 .1 3.2 0 3.3 0 3.2 0 3.1 .1 3.1 0 3.1 0 3 .1 3.1 0 3.1 0 3.1 0 3.1 .1 3.1 0 3 0 3.1 0 3.1" stroke="#880000"/><path d="M80.2 300.0l.1 3.1 0 3.1 0 3.1 0 3 .1 3.1 0 3.1 0 3.1 .1 3.1 0 3.1 0 3.2 .1 3.2 0 3.2 .1 3.2 .1 3.2" stroke="#730000"/><path d="M80.8 343.8l0 3.2 .1 3.2 .1 3.2 0 3.2 .1 1.4 .5 .8 .6 1.1 .2 .1" stroke="#5e0000"/><path d="M82.4 360.0l.3-.4" stroke="#490000"/><path d="M82.7 359.6l.6-2.5" stroke="#b20000"/><path d="M83.3 357.1l.5-4.1" stroke="#ff0700"/><path d="M83.8 353.0l.6-4.5" stroke="#f10000"/><path d="M84.4 348.5l.5-4.1" stroke="#dc0000"/><path d="M84.9 344.4l.6-2.5" stroke="#c70000"/><path d="M85.5 341.9l.3-.3 .3 .2" stroke="#dc0000"/><path d="M86.1 341.8l.5 1.7" stroke="#b20000"/><path d="M86.6 343.5l.6 2.5 .5 2.4" stroke="#730000"/><path d="M87.7 348.4l.6 1.4 .6 .4" stroke="#b20000"/><path d="M88.9 350.2l.5 .3" stroke="#c70000"/><path d="M89.4 350.5l.6 .4 .5 1.5" stroke="#ff0700"/><path d="M90.5 352.4l.6 2.3" stroke="#dc0000"/><path d="M91.1 354.7l.6 1.7" stroke="#9d0000"/><path d="M91.7 356.4l.2 .3" stroke="#5e0000"/><path d="M91.9 356.7l.3-.6 .6-3.1 .5-2.1" stroke="#490000"/><path d="M93.3 350.9l.4 1.2" stroke="#5e0000"/><path d="M93.7 352.1l0-3.4 0-3.3 0-3.4 .1-3.4 0-3.3 0-3.4 .1-3.4 0-3.3 0-3.1 0-3.1 .1-3" stroke="#730000"/><path d="M94.0 316.0l0-3.1 0-3.1 0-3 .1-3.1 0-3.1 0-3 0-3.1 .1-3.1 0-3 0-3.1 0-3 .1-3.1 0-3.1 0-3 0-3.1 .1-3.1" stroke="#880000"/><path d="M94.4 266.9l0-3 0-3.1 0-3.1 .1-3.3 0-3.4 0 3 .1 3.1 0 3 0 3 0 3.1" stroke="#9d0000"/><path d="M94.6 266.2l.1 3 0 3 0 3.1 0 3 .1 3 0 3.1 0 3 0 3 .1 3 0 3.1 0 3 .1 3 0 3.1 0 3 0 3.2 .1 3.2" stroke="#880000"/><path d="M95.1 315.0l0 3.2 0 3.2 0 3.2 .1 3.2 0 3.2 .1 3.5 0 3.5 .1 3.5 .1 3.5" stroke="#730000"/><path d="M95.5 345.0l.1 3.5 0 3.2 .1 3.1 .1 3.2 .3 1.4" stroke="#5e0000"/><path d="M96.1 359.4l.6-.5 .5-1" stroke="#490000"/><path d="M97.2 357.9l.6-1.2" stroke="#5e0000"/><path d="M97.8 356.7l.6-1.5" stroke="#c70000"/><path d="M98.4 355.2l.5-2 .6-2.1" stroke="#ff3000"/><path d="M99.5 351.1l.5-1.8" stroke="#f10000"/><path d="M100.0 349.3l.6-1.1" stroke="#9d0000"/><path d="M100.6 348.2l.3-.2 .2 .1 .6 .8 .6 1.2" stroke="#880000"/><path d="M102.3 350.1l.5 1" stroke="#9d0000"/><path d="M102.8 351.1l.6 .4" stroke="#f10000"/><path d="M103.4 351.5l.5-.5" stroke="#ff0700"/><path d="M103.9 351.0l.6-1.4" stroke="#c70000"/><path d="M104.5 349.6l.6-1.7" stroke="#9d0000"/><path d="M105.1 347.9l.5-1.6" stroke="#880000"/><path d="M105.6 346.3l.6-1.1" stroke="#490000"/><path d="M106.2 345.2l.3-.1" stroke="#340000"/><path d="M106.5 345.1l.2 .8" stroke="#490000"/><path d="M106.7 345.9l.6 4.3" stroke="#880000"/><path d="M107.3 350.2l.6 2.9" stroke="#c70000"/><path d="M107.9 353.1l.5-1.4 .6-2.8" stroke="#dc0000"/><path d="M109.0 348.9l.5-2.3" stroke="#c70000"/><path d="M109.5 346.6l.3-.3" stroke="#9d0000"/><path d="M109.8 346.3l.3 .5 .5 3.1" stroke="#730000"/><path d="M110.6 349.9l.6 2" stroke="#9d0000"/><path d="M111.2 351.9l.1 .2" stroke="#c70000"/><path d="M111.3 352.1l0-3" stroke="#9d0000"/><path d="M111.3 349.1l0-3" stroke="#880000"/><path d="M111.3 346.1l0-3.1 .1-3 0-3 0-3.1" stroke="#730000"/><path d="M111.4 333.9l.1-3 0-3 0-3.1 0-3 .1-3" stroke="#9d0000"/><path d="M111.6 318.8l0-3 0-3.1 .1-3 0-3 0-3.1" stroke="#c70000"/><path d="M111.7 303.6l0-3 .1-3 0-3.1 0-3 0-3" stroke="#ff0700"/><path d="M111.8 288.5l.1-3 0-3.1 0-3 .1-3" stroke="#ff3000"/><path d="M112.0 276.4l0-3.1 0-3 0-3 .1-3.1 0-3 0 3.2 .1 3.2 0 3.2 0 3.2 .1 3.2" stroke="#ff5a00"/><path d="M112.3 277.2l0 3.2 0 3.1 .1 3.2 0 3.2" stroke="#ff3000"/><path d="M112.4 289.9l0 3.1 0 3.2 .1 3.2 0 3.1 0 3.2" stroke="#ff0700"/><path d="M112.5 305.7l.1 3.2 0 3.1 0 3.2 .1 3.1" stroke="#c70000"/><path d="M112.7 318.3l0 3.2 0 3.2 .1 3.1 0 3.2" stroke="#9d0000"/><path d="M112.8 331.0l.1 4" stroke="#880000"/><path d="M112.9 335.0l0 3.3 .1 3.3 .1 3.3" stroke="#730000"/><path d="M113.1 344.9l.1 3.3 0 3.2" stroke="#ff0700"/><path d="M113.2 351.4l.1 3.3" stroke="#ff5a00"/><path d="M113.3 354.7l.1 3.3" stroke="#ff9900"/><path d="M113.4 358.0l0-1.6" stroke="#ffae00"/><path d="M113.4 356.4l.3-5.5" stroke="#ff3000"/><path d="M113.7 350.9l.3 .2" stroke="#dc0000"/><path d="M114.0 351.1l.6 1.1" stroke="#f10000"/><path d="M114.6 352.2l.5 1.5" stroke="#ff0700"/><path d="M115.1 353.7l.6 1.1" stroke="#dc0000"/><path d="M115.7 354.8l.3 .1" stroke="#c70000"/><path d="M116.0 354.9l.2-.3" stroke="#dc0000"/><path d="M116.2 354.6l.6-2.3" stroke="#f10000"/><path d="M116.8 352.3l.5-3.6" stroke="#dc0000"/><path d="M117.3 348.7l.6-3.8" stroke="#b20000"/><path d="M117.9 344.9l.6-3 .5-1.3" stroke="#c70000"/><path d="M119.0 340.6l.6 4.4" stroke="#730000"/><path d="M119.6 345.0l.3 3.4 .2 3.4" stroke="#490000"/><path d="M120.1 351.8l.3 1.3" stroke="#9d0000"/><path d="M120.4 353.1l.3-.2" stroke="#b20000"/><path d="M120.7 352.9l.6-1.3" stroke="#9d0000"/><path d="M121.3 351.6l.5-1.8" stroke="#880000"/><path d="M121.8 349.8l.6-1.7" stroke="#b20000"/><path d="M122.4 348.1l.5-.7" stroke="#dc0000"/><path d="M122.9 347.4l.6 1" stroke="#b20000"/><path d="M123.5 348.4l.6 1.4" stroke="#9d0000"/><path d="M124.1 349.8l.5 .6" stroke="#b20000"/><path d="M124.6 350.4l.6 .6 .5 .5" stroke="#880000"/><path d="M125.7 351.5l.6 .4" stroke="#dc0000"/><path d="M126.3 351.9l.5 .2 .4 0" stroke="#ff0700"/><path d="M127.2 352.1l0-3.1" stroke="#dc0000"/><path d="M127.2 349.0l0-3.2" stroke="#c70000"/><path d="M127.2 345.8l0-3.1 .1-3.1 0-3.2 0-3.1" stroke="#730000"/><path d="M127.3 333.3l0-3.1 .1-3.2 0-3.1 0-3.1 .1-3.2" stroke="#880000"/><path d="M127.5 317.6l0-3.1 0-3.1 0-3.2 .1-3.1 0-3.2" stroke="#b20000"/><path d="M127.6 301.9l0-3.1 .1-3.1 0-3.2 0-3.1" stroke="#c70000"/><path d="M127.7 289.4l0-3.1 .1-3.2 0-3.1 0-3.1 .1-3.2" stroke="#f10000"/><path d="M127.9 273.7l0-3.1 0-3.2 0-3.1 .1-3.1 0-3.2 0 3.1 0 3.1 .1 3.1 0 3.1 0 3" stroke="#ff0700"/><path d="M128.1 273.4l.1 3.1 0 3.1 0 3.1 .1 3.1 0 3" stroke="#f10000"/><path d="M128.3 288.8l0 3.1 0 3.1 .1 3.1 0 3.1 0 3" stroke="#c70000"/><path d="M128.4 304.2l.1 3.1 0 3.1 0 3.1 .1 3.5" stroke="#b20000"/><path d="M128.6 317.0l0 3.5 0 3.5 .1 3.5 0 3.5" stroke="#880000"/><path d="M128.7 331.0l.1 3.1 0 3.2 .1 3.1 0 3.2 .1 3.1 .1 3.2" stroke="#730000"/><path d="M129.1 349.9l.1 4" stroke="#9d0000"/><path d="M129.2 353.9l0 4.1 .4-4.1" stroke="#f10000"/><path d="M129.6 353.9l.3-3" stroke="#b20000"/><path d="M129.9 350.9l.3 .5" stroke="#9d0000"/><path d="M130.2 351.4l.6 2.7" stroke="#c70000"/><path d="M130.8 354.1l.5 3.2" stroke="#ff0700"/><path d="M131.3 357.3l.6 1.6" stroke="#ff6f00"/><path d="M131.9 358.9l.5-2.6" stroke="#ff8400"/><path d="M132.4 356.3l.6-5.8" stroke="#ff0700"/><path d="M133.0 350.5l.5-5.8 .6-2.7" stroke="#880000"/><path d="M134.1 342.0l.6 1.5" stroke="#5e0000"/><path d="M134.7 343.5l.5 3.4" stroke="#490000"/><path d="M135.2 346.9l.6 4.2" stroke="#9d0000"/><path d="M135.8 351.1l.5 3.4" stroke="#ff0700"/><path d="M136.3 354.5l.6 1.5" stroke="#ff4500"/><path d="M136.9 356.0l.6-.8" stroke="#ff5a00"/><path d="M137.5 355.2l.5-1.8" stroke="#ff4500"/><path d="M138.0 353.4l.6-2" stroke="#dc0000"/><path d="M138.6 351.4l.5-1.4 .3-.2" stroke="#880000"/><path d="M139.4 349.8l.3 .9" stroke="#9d0000"/><path d="M139.7 350.7l.6 5.2" stroke="#f10000"/><path d="M140.3 355.9l.5 3.3" stroke="#ff5a00"/><path d="M140.8 359.2l.1-3.6" stroke="#ff6f00"/><path d="M140.9 355.6l.2-3.5" stroke="#ff3000"/><path d="M141.1 352.1l0-3" stroke="#f10000"/><path d="M141.1 349.1l0-3" stroke="#dc0000"/><path d="M141.1 346.1l0-3 .1-3.1 0-3 0-3" stroke="#730000"/><path d="M141.2 334.0l.1-3 0-3 0-3.1 0-3 .1-3" stroke="#880000"/><path d="M141.4 318.9l0-3 0-3 .1-3 0-3.1 0-3" stroke="#9d0000"/><path d="M141.5 303.8l0-3 .1-3 0-3 0-3.1 0-3" stroke="#c70000"/><path d="M141.6 288.7l.1-3 0-3 0-3 .1-3" stroke="#dc0000"/><path d="M141.8 276.7l0-3.1 0-3 0-3 .1-3 0-3" stroke="#f10000"/><path d="M141.9 261.6l0 2.7" stroke="#ff0700"/><path d="M141.9 264.3l.1 3.1 0 3.1 0 3.1 .1 3.1" stroke="#f10000"/><path d="M142.1 276.7l0 3.1 0 3.1 0 3 .1 3.1" stroke="#dc0000"/><path d="M142.2 289.0l0 3.1 0 3.1 .1 3.1 0 3.1 0 3.1" stroke="#c70000"/><path d="M142.3 304.5l.1 3 0 3.1 0 3.1 .1 3.1 0 3.1" stroke="#9d0000"/><path d="M142.5 319.9l0 3.7 .1 3.7 0 3.7 .1 3.1" stroke="#880000"/><path d="M142.7 334.1l0 3.1 .1 3.1 .1 3 0 3.1" stroke="#730000"/><path d="M142.9 346.4l.1 3.1" stroke="#880000"/><path d="M143.0 349.5l0 3.1" stroke="#b20000"/><path d="M143.0 352.6l.2 5.4" stroke="#ff1c00"/><path d="M143.2 358.0l.4-.6" stroke="#ff5a00"/><path d="M143.6 357.4l.6 .4" stroke="#ff3000"/><path d="M144.2 357.8l.5 .8" stroke="#ff0700"/><path d="M144.7 358.6l.6 .8" stroke="#ff4500"/><path d="M145.3 359.4l.5 .3" stroke="#ff8400"/><path d="M145.8 359.7l.6-3.6" stroke="#ff5a00"/><path d="M146.4 356.1l.3-3.7" stroke="#ff0700"/><path d="M146.7 352.4l.3-3.7 .2-3.1 .3-3" stroke="#c70000"/><path d="M147.5 342.6l.3-1" stroke="#9d0000"/><path d="M147.8 341.6l.3 1.3" stroke="#730000"/><path d="M148.1 342.9l.3 3.8" stroke="#490000"/><path d="M148.4 346.7l.2 3.9" stroke="#340000"/><path d="M148.6 350.6l.3 3.8" stroke="#9d0000"/><path d="M148.9 354.4l.3 3.9" stroke="#ff1c00"/><path d="M149.2 358.3l.3 1.3 .2-.5" stroke="#ff5a00"/><path d="M149.7 359.1l.6-3.4" stroke="#ff4500"/><path d="M150.3 355.7l.6-4.4" stroke="#ff1c00"/><path d="M150.9 351.3l.5-2.7" stroke="#ff0700"/><path d="M151.4 348.6l.6-.9" stroke="#dc0000"/><path d="M152.0 347.7l.5-.8 .6-.5" stroke="#9d0000"/><path d="M153.1 346.4l.6-.1" stroke="#880000"/><path d="M153.7 346.3l.5 2.1" stroke="#730000"/><path d="M154.2 348.4l.6 3.9" stroke="#c70000"/><path d="M154.8 352.3l.5 2.2" stroke="#ff3000"/><path d="M155.3 354.5l.6-.6" stroke="#ff4500"/><path d="M155.9 353.9l.6-1.8" stroke="#ff1c00"/><path d="M156.5 352.1l0-3.1" stroke="#dc0000"/><path d="M156.5 349.0l0-3.1" stroke="#c70000"/><path d="M156.5 345.9l0-3.2 .1-3.1 0-3.1 0-3.1" stroke="#730000"/><path d="M156.6 333.4l.1-3.2 0-3.1 0-3.1 0-3.1 .1-3.1" stroke="#880000"/><path d="M156.8 317.8l0-3.2 0-3.1 .1-3.1 0-3.1" stroke="#9d0000"/><path d="M156.9 305.3l0-3.2 .1-3.1 0-3.1 0-3.1" stroke="#c70000"/><path d="M157.0 292.8l0-3.3 .1-3.3 0-3.3 0-3.3 .1-3.3" stroke="#dc0000"/><path d="M157.2 276.3l0-3.3 0-3.3 .1-3.3 0-3.3 0 3 .1 3 0 3 0 3.1 0 3" stroke="#f10000"/><path d="M157.4 278.2l.1 3 0 3 0 3 .1 3.1" stroke="#dc0000"/><path d="M157.6 290.3l0 3.1 0 3.1 .1 3.2 0 3.1 0 3.1" stroke="#c70000"/><path d="M157.7 305.9l.1 3.2 0 3.1 0 3.1 .1 3.2" stroke="#9d0000"/><path d="M157.9 318.5l0 3.1 0 3.1 .1 3.2 0 3.1 .1 3.4" stroke="#880000"/><path d="M158.1 334.4l0 3.3 .1 3.4 .1 3.4" stroke="#730000"/><path d="M158.3 344.5l0 3.4 .1 3.3" stroke="#490000"/><path d="M158.4 351.2l.1 3.4" stroke="#9d0000"/><path d="M158.5 354.6l0 3.4" stroke="#ff0700"/><path d="M158.5 358.0l.2 .1" stroke="#ff3000"/><path d="M158.7 358.1l.5 .7 .6 .1" stroke="#ff4500"/><path d="M159.8 358.9l.6-.9" stroke="#ff6f00"/><path d="M160.4 358.0l.5-2.4" stroke="#ff8400"/><path d="M160.9 355.6l.6-3.2" stroke="#ff1c00"/><path d="M161.5 352.4l.5-3.4" stroke="#9d0000"/><path d="M162.0 349.0l.6-2.9 .6-1.7" stroke="#730000"/><path d="M163.2 344.4l.2-.3 .3 .5" stroke="#5e0000"/><path d="M163.7 344.6l.6 3" stroke="#9d0000"/><path d="M164.3 347.6l.5 4.3" stroke="#f10000"/><path d="M164.8 351.9l.6 3.8" stroke="#ff4500"/><path d="M165.4 355.7l.5 1.7 .6-1.2" stroke="#ff8400"/><path d="M166.5 356.2l.6-2.6" stroke="#ff3000"/><path d="M167.1 353.6l.5-2.6" stroke="#b20000"/><path d="M167.6 351.0l.6-1.2" stroke="#880000"/><path d="M168.2 349.8l.5 .5" stroke="#9d0000"/><path d="M168.7 350.3l.6 1.1" stroke="#c70000"/><path d="M169.3 351.4l.6 1.4" stroke="#f10000"/><path d="M169.9 352.8l.5 1.2 .6 .5" stroke="#ff3000"/><path d="M171.0 354.5l.5-.8" stroke="#dc0000"/><path d="M171.5 353.7l.5-1.6" stroke="#b20000"/><path d="M172.0 352.1l0-3.6 0-3.6 0-3.6 .1-3.6 0-3.6 0-3.1" stroke="#730000"/><path d="M172.1 331.0l0-3.1 .1-3.2 0-3.1 0-3.1 0-3.1 .1-3.2" stroke="#9d0000"/><path d="M172.3 312.2l0-3.1 0-3.1 0-3.2 .1-3.1 0-3.1" stroke="#c70000"/><path d="M172.4 296.6l0-3.1 0-3.2 .1-3.1 0-3.1 0-3.1 0-3.2" stroke="#ff0700"/><path d="M172.5 277.8l.1-3.1 0-3.1 0-3.2 0-3.1 0-3.1" stroke="#ff3000"/><path d="M172.6 262.2l.1-3.6 0-3.6 0-3.6 .1-3.6 0-3.6 0 3.1 0 3 .1 3.1 0 3.1 0 3 0 3.1" stroke="#ff5a00"/><path d="M172.9 262.6l.1 3 0 3.1 0 3.1 0 3 .1 3.1" stroke="#ff3000"/><path d="M173.1 277.9l0 3.1 0 3 0 3.1 .1 3.1 0 3 0 3.1" stroke="#ff0700"/><path d="M173.2 296.3l0 3.1 .1 3.2 0 3.2 0 3.1 0 3.2" stroke="#c70000"/><path d="M173.3 312.1l.1 3.1 0 3.2 0 3.1 0 3.2 .1 3.1 0 3.2" stroke="#9d0000"/><path d="M173.5 331.0l.1 3.4 0 3.3 .1 3.4 .1 3.4" stroke="#730000"/><path d="M173.8 344.5l0 3.4" stroke="#9d0000"/><path d="M173.8 347.9l.1 3.3" stroke="#b20000"/><path d="M173.9 351.2l.1 3.4" stroke="#ff0700"/><path d="M174.0 354.6l0 3.4" stroke="#ff6f00"/><path d="M174.0 358.0l.3 0 .3 0" stroke="#ff9900"/><path d="M174.6 358.0l.3-.2" stroke="#ff8400"/><path d="M174.9 357.8l.5-1.6" stroke="#ff5a00"/><path d="M175.4 356.2l.6-2.6" stroke="#ff3000"/><path d="M176.0 353.6l.6-3.2" stroke="#dc0000"/><path d="M176.6 350.4l.5-3.4 .6-2.9" stroke="#730000"/><path d="M177.7 344.1l.5-2.2 .6-.8" stroke="#b20000"/><path d="M178.8 341.1l.6 2.3" stroke="#c70000"/><path d="M179.4 343.4l.5 5" stroke="#ff0700"/><path d="M179.9 348.4l.6 5" stroke="#ff1c00"/><path d="M180.5 353.4l.5 2.2" stroke="#ff0700"/><path d="M181.0 355.6l.6-2.1" stroke="#f10000"/><path d="M181.6 353.5l.5-3.9" stroke="#b20000"/><path d="M182.1 349.6l.6-2.2" stroke="#730000"/><path d="M182.7 347.4l.6 .9" stroke="#880000"/><path d="M183.3 348.3l.5 2.1" stroke="#c70000"/><path d="M183.8 350.4l.6 2 .5 .9" stroke="#f10000"/><path d="M184.9 353.3l.6-2.5" stroke="#dc0000"/><path d="M185.5 350.8l.6-3.8" stroke="#880000"/><path d="M186.1 347.0l.2-.7" stroke="#490000"/><path d="M186.3 346.3l.3 2.4 .3 3.5" stroke="#340000"/><path d="M186.9 352.2l.3 3.4" stroke="#b20000"/><path d="M187.2 355.6l.4-3.5" stroke="#f10000"/><path d="M187.6 352.1l0-3.4" stroke="#b20000"/><path d="M187.6 348.7l0-3.3" stroke="#9d0000"/><path d="M187.6 345.4l0-3.4 .1-3.4 0-3.4 0-3.4" stroke="#730000"/><path d="M187.7 331.8l.1-3 0-3.1 0-3.1 0-3 .1-3.1" stroke="#880000"/><path d="M187.9 316.5l0-3.1 0-3.1 0-3 .1-3.1 0-3.1 0-3" stroke="#b20000"/><path d="M188.0 298.1l0-3.1 .1-3.1 0-3 0-3.1 0-3.1" stroke="#c70000"/><path d="M188.1 282.7l.1-3.1 0-3 0-3.1 0-3.1 .1-3" stroke="#f10000"/><path d="M188.3 267.4l0-3.1 0-3.4 0-3.4 .1-3.4 0-3.3 0 3 .1 3 0 3 0 3.1 0 3" stroke="#ff0700"/><path d="M188.5 265.9l.1 3 0 3 0 3 0 3.1 .1 3 0 3" stroke="#f10000"/><path d="M188.7 284.0l0 3 0 3 .1 3.1 0 3 0 3" stroke="#c70000"/><path d="M188.8 299.1l0 3 .1 3.2 0 3.2 0 3.2 .1 3.3" stroke="#b20000"/><path d="M189.0 315.0l0 3.2 0 3.2 0 3.2 .1 3.2 0 3.2" stroke="#880000"/><path d="M189.1 331.0l.1 3.7 .1 3.7 0 3.7 .1 3.7" stroke="#730000"/><path d="M189.4 345.8l.1 3.1" stroke="#f10000"/><path d="M189.5 348.9l0 3" stroke="#ff0700"/><path d="M189.5 351.9l.1 3" stroke="#ff4500"/><path d="M189.6 354.9l.1 3.1" stroke="#ff8400"/><path d="M189.7 358.0l.3-.1" stroke="#ff9900"/><path d="M190.0 357.9l.5 0" stroke="#ff5a00"/><path d="M190.5 357.9l.6-.2" stroke="#ff4500"/><path d="M191.1 357.7l.5-.2" stroke="#ff5a00"/><path d="M191.6 357.5l.3-.1" stroke="#ff4500"/><path d="M191.9 357.4l.3-.7" stroke="#ff3000"/><path d="M192.2 356.7l.6-3.7" stroke="#ff1c00"/><path d="M192.8 353.0l.5-5.2" stroke="#ff0700"/><path d="M193.3 347.8l.6-4.7" stroke="#f10000"/><path d="M193.9 343.1l.5-2" stroke="#c70000"/><path d="M194.4 341.1l.6 3.1" stroke="#b20000"/><path d="M195.0 344.2l.6 5.2" stroke="#9d0000"/><path d="M195.6 349.4l.2 1.5 .3 .8" stroke="#730000"/><path d="M196.1 351.7l.6 1.2" stroke="#880000"/><path d="M196.7 352.9l.5 1" stroke="#dc0000"/><path d="M197.2 353.9l.6 .5 .3 .1" stroke="#ff0700"/><path d="M198.1 354.5l.2-.2 .6-1.3" stroke="#ff1c00"/><path d="M198.9 353.0l.6-2.1" stroke="#f10000"/><path d="M199.5 350.9l.5-2.2" stroke="#880000"/><path d="M200.0 348.7l.6-1.7" stroke="#490000"/><path d="M200.6 347.0l.5-.7" stroke="#730000"/><path d="M201.1 346.3l.6 2.5 .6 5.3" stroke="#5e0000"/><path d="M202.3 354.1l.5 4.3 .3 .8 .3-.7 .5-5.4" stroke="#730000"/><path d="M203.9 353.1l.2-1 0-3 0-3.1" stroke="#5e0000"/><path d="M204.1 346.0l0-3 .1-3 0-3.1 0-3 .1-3 0-3.1 0-3 0-3 .1-3.1 0-3 0-3 0-3.1 .1-3 0-3 0-3.1" stroke="#730000"/><path d="M204.5 300.5l0-3 .1-3.1 0-3 0-3 0-3.1 .1-3 0-3 0-3.1 .1-3 0-3 0-3.1 0-3 .1-3 0-3.1 0-3 0 3 .1 3.1 0 3 0 3.1 0 3 .1 3 0 3.1 0 3 .1 3.1 0 3 0 3 0 3.1 .1 3 0 3.1 0 3" stroke="#880000"/><path d="M205.3 300.6l.1 3 0 3.1 0 3 0 3.1 .1 3 0 3 0 3.1 .1 3 0 3.1 0 3 0 0 .1 3.4 0 3.3 .1 3.4 .1 3.4" stroke="#730000"/><path d="M205.9 344.5l.1 3.4 0 3.3" stroke="#490000"/><path d="M206.0 351.2l.1 3.4 .1 3.4 .5-.3" stroke="#5e0000"/><path d="M206.7 357.7l.6-.1 .3-.2 .2-.5" stroke="#730000"/><path d="M207.8 356.9l.6-2.3" stroke="#f10000"/><path d="M208.4 354.6l.6-3.5" stroke="#ff1c00"/><path d="M209.0 351.1l.5-3.8" stroke="#9d0000"/><path d="M209.5 347.3l.6-3.4" stroke="#5e0000"/><path d="M210.1 343.9l.5-2 .3-.3" stroke="#730000"/><path d="M210.9 341.6l.3 .2" stroke="#5e0000"/><path d="M211.2 341.8l.6 1.9" stroke="#730000"/><path d="M211.8 343.7l.5 2.8" stroke="#b20000"/><path d="M212.3 346.5l.6 2.9" stroke="#c70000"/><path d="M212.9 349.4l.5 1.9 .3 .2 .3-.1" stroke="#b20000"/><path d="M214.0 351.4l.5-1.2" stroke="#9d0000"/><path d="M214.5 350.2l.6-1.5 .6-1.1" stroke="#5e0000"/><path d="M215.7 347.6l.2-.2" stroke="#880000"/><path d="M215.9 347.4l.3 0" stroke="#b20000"/><path d="M216.2 347.4l.6 .2 .5 .3" stroke="#c70000"/><path d="M217.3 347.9l.6 .5" stroke="#dc0000"/><path d="M217.9 348.4l.3 .2" stroke="#f10000"/><path d="M218.2 348.6l.3 .5" stroke="#dc0000"/><path d="M218.5 349.1l.5 1.8 .6 2.3" stroke="#b20000"/><path d="M219.6 353.2l.5 2.1" stroke="#f10000"/><path d="M220.1 355.3l.3 .7 .3 .5" stroke="#ff3000"/><path d="M220.7 356.5l.5 1" stroke="#ff4500"/><path d="M221.2 357.5l.6 .8" stroke="#ff9900"/><path d="M221.8 358.3l.6 .6" stroke="#ffae00"/><path d="M222.4 358.9l.5 .3" stroke="#ff8400"/><path d="M222.9 359.2l.1-3.6" stroke="#ff4500"/><path d="M223.0 355.6l.1-3.5" stroke="#f10000"/><path d="M223.1 352.1l0-3.1" stroke="#9d0000"/><path d="M223.1 349.0l0-3.1" stroke="#880000"/><path d="M223.1 345.9l0-3.1 .1-3.1 0-3.1 0-3 0-3.1" stroke="#730000"/><path d="M223.2 330.5l.1-3.1 0-3.1 0-3.1 .1-3.1 0-3.1" stroke="#880000"/><path d="M223.4 315.0l0-3.1 0-3.1 .1-3.1 0-3.1 0-3.1" stroke="#9d0000"/><path d="M223.5 299.5l0-3.1 .1-3.1 0-3.1 0-3.1 0-3" stroke="#c70000"/><path d="M223.6 284.1l.1-3.1 0-3.1 0-3.1 0-3.1 .1-3.1" stroke="#dc0000"/><path d="M223.8 268.6l0-3.1 0-3.1 0-3.1 .1-3.1 0-3.1 0 3.1 .1 3.1 0 3.2 0 3.1 0 3.1" stroke="#f10000"/><path d="M224.0 268.7l.1 3.1 0 3.1 0 3.1 .1 3.2 0 3.1" stroke="#dc0000"/><path d="M224.2 284.3l0 3.1 0 3.1 .1 3.1 0 3.1 0 3.1" stroke="#c70000"/><path d="M224.3 299.8l0 3.2 .1 3.1 0 3.1 0 3.1 .1 3.1" stroke="#9d0000"/><path d="M224.5 315.4l0 3.1 0 3.2 0 3.1 .1 3.1 0 3.1" stroke="#880000"/><path d="M224.6 331.0l.1 3.4 0 3.3 .1 3.4 .1 3.4" stroke="#730000"/><path d="M224.9 344.5l0 3.4 .1 3.3" stroke="#340000"/><path d="M225.0 351.2l.1 3.4" stroke="#880000"/><path d="M225.1 354.6l.1 3.4" stroke="#f10000"/><path d="M225.2 358.0l.5-.7" stroke="#ff4500"/><path d="M225.7 357.3l.6-.3" stroke="#ff6f00"/><path d="M226.3 357.0l.5-.9" stroke="#ff5a00"/><path d="M226.8 356.1l.3-.5 .3-.6" stroke="#ff4500"/><path d="M227.4 355.0l.6-2.1" stroke="#ff3000"/><path d="M228.0 352.9l.5-2.5" stroke="#b20000"/><path d="M228.5 350.4l.6-2.6" stroke="#5e0000"/><path d="M229.1 347.8l.5-1.9" stroke="#730000"/><path d="M229.6 345.9l.6-.8 .5 .6" stroke="#9d0000"/><path d="M230.7 345.7l.6 1.5" stroke="#dc0000"/><path d="M231.3 347.2l.6 2" stroke="#ff0700"/><path d="M231.9 349.2l.5 2" stroke="#f10000"/><path d="M232.4 351.2l.6 1.5" stroke="#dc0000"/><path d="M233.0 352.7l.5 .6" stroke="#f10000"/><path d="M233.5 353.3l.6-1.2" stroke="#c70000"/><path d="M234.1 352.1l.6-2.3" stroke="#880000"/><path d="M234.7 349.8l.5-1.2" stroke="#9d0000"/><path d="M235.2 348.6l.6 .6 .5 1.4" stroke="#c70000"/><path d="M236.3 350.6l.6 1.2" stroke="#dc0000"/><path d="M236.9 351.8l.4 .3" stroke="#f10000"/><path d="M237.3 352.1l0-3.1" stroke="#dc0000"/><path d="M237.3 349.0l0-3" stroke="#c70000"/><path d="M237.3 346.0l0-3.1 .1-3.1 0-3.1 0-3" stroke="#730000"/><path d="M237.4 333.7l0-3.1 .1-3.1 0-3.1 0-3.1 .1-3" stroke="#880000"/><path d="M237.6 318.3l0-3.1 0-3.1 0-3.1 .1-3 0-3.1" stroke="#9d0000"/><path d="M237.7 302.9l0-3.1 .1-3.1 0-3.1 0-3 0-3.1" stroke="#c70000"/><path d="M237.8 287.5l.1-3.1 0-3.1 0-3 .1-3.1" stroke="#dc0000"/><path d="M238.0 275.2l0-3.1 0-3.1 0-3 .1-3.1 0-3.1 0 3 0 3.1 .1 3 0 3 0 3" stroke="#f10000"/><path d="M238.2 274.9l.1 3.1 0 3 0 3 .1 3 0 3.1" stroke="#dc0000"/><path d="M238.4 290.1l0 3 0 3 .1 3 0 3.1" stroke="#c70000"/><path d="M238.5 302.2l0 3 .1 3 0 3.3 0 3.2 .1 3.3" stroke="#9d0000"/><path d="M238.7 318.0l0 3.2 0 3.3 .1 3.2 0 3.3 .1 3.2" stroke="#880000"/><path d="M238.9 334.2l0 3.3 .1 3.2 .1 3.3 0 3.2 .1 3.6" stroke="#730000"/><path d="M239.2 350.8l.1 3.6" stroke="#c70000"/><path d="M239.3 354.4l0 3.6" stroke="#ff1c00"/><path d="M239.3 358.0l.4-.2 .5-.2" stroke="#ff4500"/><path d="M240.2 357.6l.6-.5" stroke="#ff6f00"/><path d="M240.8 357.1l.3-.3 .3-.6" stroke="#ff9900"/><path d="M241.4 356.2l.5-2.9" stroke="#ff3000"/><path d="M241.9 353.3l.6-4.1" stroke="#b20000"/><path d="M242.5 349.2l.5-4.2 .6-3.3" stroke="#880000"/><path d="M243.6 341.7l.6-1.3" stroke="#730000"/><path d="M244.2 340.4l.5 5.2" stroke="#9d0000"/><path d="M244.7 345.6l.2 3.2" stroke="#f10000"/><path d="M244.9 348.8l.2 3.2" stroke="#ff0700"/><path d="M245.1 352.0l.2 3.2" stroke="#ff5a00"/><path d="M245.3 355.2l.5 5.1" stroke="#ff8400"/><path d="M245.8 360.3l.6-.7 .5-1.7" stroke="#ff9900"/><path d="M246.9 357.9l.6-2.2" stroke="#ff4500"/><path d="M247.5 355.7l.6-2.1" stroke="#dc0000"/><path d="M248.1 353.6l.5-1.3" stroke="#b20000"/><path d="M248.6 352.3l.3-.2" stroke="#c70000"/><path d="M248.9 352.1l.3 .2 .5 1.3" stroke="#dc0000"/><path d="M249.7 353.6l.6 1.7" stroke="#ff1c00"/><path d="M250.3 355.3l.6 1.3 .2 .2" stroke="#ff6f00"/><path d="M251.1 356.8l.3-2.5" stroke="#ff3000"/><path d="M251.4 354.3l.3-2.2" stroke="#c70000"/><path d="M251.7 352.1l0-3.2" stroke="#730000"/><path d="M251.7 348.9l0-3.2" stroke="#5e0000"/><path d="M251.7 345.7l0-3.2 .1-3.2 0-3.2 0-3.2" stroke="#730000"/><path d="M251.8 332.9l.1-3.2 0-3.2 0-3.2 0-3.2 .1-3.3" stroke="#880000"/><path d="M252.0 316.8l0-3 0-3 .1-3.1 0-3 0-3.1" stroke="#9d0000"/><path d="M252.1 301.6l0-3 .1-3.1 0-3 0-3.1 0-3" stroke="#b20000"/><path d="M252.2 286.4l.1-3.1 0-3 0-3 0-3.1 .1-3" stroke="#c70000"/><path d="M252.4 271.2l0-3.1 0-3 0-3.1 .1-3 0-3.1 0 3 .1 3 0 3 0 3 0 3" stroke="#f10000"/><path d="M252.6 270.9l.1 3 0 3.1 0 3 .1 3 0 3" stroke="#c70000"/><path d="M252.8 286.0l0 3 0 3 .1 3 0 3 0 3" stroke="#b20000"/><path d="M252.9 301.0l0 3 .1 3 0 3 0 3 .1 3" stroke="#9d0000"/><path d="M253.1 316.0l0 3 0 3 0 3 .1 3 0 3" stroke="#880000"/><path d="M253.2 331.0l.1 3.1 0 3.1 .1 3.1 .1 3 0 3.1" stroke="#730000"/><path d="M253.5 346.4l.1 3.1" stroke="#490000"/><path d="M253.6 349.5l0 3.1" stroke="#5e0000"/><path d="M253.6 352.6l.2 5.4" stroke="#dc0000"/><path d="M253.8 358.0l.1 2.3" stroke="#ff3000"/><path d="M253.9 360.3l.3-1" stroke="#ff5a00"/><path d="M254.2 359.3l.6-.7" stroke="#ff9900"/><path d="M254.8 358.6l.5-2.5" stroke="#ff8400"/><path d="M255.3 356.1l.6-3" stroke="#ff3000"/><path d="M255.9 353.1l.5-2.8" stroke="#f10000"/><path d="M256.4 350.3l.6-2.1" stroke="#b20000"/><path d="M257.0 348.2l.6-.8 .5 .2" stroke="#730000"/><path d="M258.1 347.6l.6 .6 .5 .8" stroke="#b20000"/><path d="M259.2 349.0l.6 .8" stroke="#c70000"/><path d="M259.8 349.8l.6 .7" stroke="#ff0700"/><path d="M260.4 350.5l.5 .4" stroke="#f10000"/><path d="M260.9 350.9l.3 0" stroke="#b20000"/><path d="M261.2 350.9l.3 0 .5-.2 .6-.3" stroke="#880000"/><path d="M262.6 350.4l.5-.3" stroke="#5e0000"/><path d="M263.1 350.1l.6-.2" stroke="#880000"/><path d="M263.7 349.9l.6-.1" stroke="#c70000"/><path d="M264.3 349.8l.5 1.5" stroke="#dc0000"/><path d="M264.8 351.3l.6 2.8" stroke="#f10000"/><path d="M265.4 354.1l.5 1.5" stroke="#ff1c00"/><path d="M265.9 355.6l.6-1.3" stroke="#ff0700"/><path d="M266.5 354.3l.4-2.2" stroke="#9d0000"/><path d="M266.9 352.1l0-3.1" stroke="#490000"/><path d="M266.9 349.0l0-3.1" stroke="#340000"/><path d="M266.9 345.9l0-3.2 .1-3.1 0-3.1 0-3.1 0-3.2" stroke="#730000"/><path d="M267.0 330.2l.1-3.1 0-3.1 0-3.1 0-3.1 .1-3.1" stroke="#880000"/><path d="M267.2 314.7l0-3.1 0-3.1 0-3.2 0-3.1 .1-3.1 0-3.1" stroke="#b20000"/><path d="M267.3 296.0l0-3.1 0-3.1 .1-3.1 0-3.1 0-3.1" stroke="#dc0000"/><path d="M267.4 280.5l0-3.1 .1-3.1 0-3.1 0-3.1 0-3.2 .1-3.1" stroke="#f10000"/><path d="M267.6 261.8l0-3.1 0-3.1 0-3.5 .1-3.6 0-3.6 0 3.1 0 3.1 .1 3 0 3.1 0 3.1 0 3.1" stroke="#ff1c00"/><path d="M267.8 263.4l.1 3.1 0 3.1 0 3 0 3.1 .1 3.1" stroke="#f10000"/><path d="M268.0 278.8l0 3.1 0 3.1 0 3 .1 3.1 0 3.1 0 3.1" stroke="#dc0000"/><path d="M268.1 297.3l0 3.1 .1 3.1 0 3 0 3.1 0 3" stroke="#b20000"/><path d="M268.2 312.6l.1 3.1 0 3.1 0 3 0 3.1 .1 3 0 3.1" stroke="#880000"/><path d="M268.4 331.0l.1 3.2 0 3.3 .1 3.2 .1 3.3" stroke="#730000"/><path d="M268.7 344.0l0 3.2" stroke="#9d0000"/><path d="M268.7 347.2l.1 3.6" stroke="#b20000"/><path d="M268.8 350.8l.1 3.6" stroke="#f10000"/><path d="M268.9 354.4l.1 3.6" stroke="#ff4500"/><path d="M269.0 358.0l.3-1.3 .3-1.1" stroke="#ff8400"/><path d="M269.6 355.6l.2 0" stroke="#ff9900"/><path d="M269.8 355.6l.6 0" stroke="#ff6f00"/><path d="M270.4 355.6l.6 0" stroke="#ff3000"/><path d="M271.0 355.6l.5 0 .6 0 .5 0 .6-2.3" stroke="#ff1c00"/><path d="M273.2 353.3l.6-4.8" stroke="#ff0700"/><path d="M273.8 348.5l.5-3.9" stroke="#f10000"/><path d="M274.3 344.6l.3-.7" stroke="#c70000"/><path d="M274.6 343.9l.3 .9 .5 5" stroke="#b20000"/><path d="M275.4 349.8l.6 5" stroke="#c70000"/><path d="M276.0 354.8l.3 .8" stroke="#dc0000"/><path d="M276.3 355.6l.2-.5" stroke="#c70000"/><path d="M276.5 355.1l.6-3.4 .6-4.1 .5-1.9 .6 1.2" stroke="#9d0000"/><path d="M278.8 346.9l.5 2.5 .6 2.2" stroke="#c70000"/><path d="M279.9 351.6l.4 .5" stroke="#b20000"/><path d="M280.3 352.1l0-3.2" stroke="#730000"/><path d="M280.3 348.9l0-3.1" stroke="#5e0000"/><path d="M280.3 345.8l0-3.2 .1-3.2 0-3.1 0-3.2" stroke="#730000"/><path d="M280.4 333.1l.1-3.2 0-3 0-3 0-3 .1-3.1" stroke="#9d0000"/><path d="M280.6 317.8l0-3 0-3 0-3 .1-3 0-3.1" stroke="#c70000"/><path d="M280.7 302.7l0-3 .1-3 0-3 0-3 0-3.1" stroke="#ff0700"/><path d="M280.8 287.6l.1-3 0-3 0-3 0-3 .1-3.1" stroke="#ff3000"/><path d="M281.0 272.5l0-3 0-3 0-3.2 .1-3.1 0-3.2 0 3.1 .1 3.2 0 3.1 0 3.2 .1 3.1" stroke="#ff5a00"/><path d="M281.3 272.7l0 3.2 0 3.1 0 3.2 .1 3.1 0 3.1" stroke="#ff3000"/><path d="M281.4 288.4l0 3.2 .1 3.1 0 3.2 0 3.1" stroke="#ff0700"/><path d="M281.5 301.0l0 3.2 .1 3.1 0 3.4 0 3.4 .1 3.4" stroke="#c70000"/><path d="M281.7 317.5l0 3.4 0 3.3 .1 3.4 0 3.4" stroke="#9d0000"/><path d="M281.8 331.0l.1 3.2 0 3.3 .1 3.2 .1 3.3 0 3.2 .1 3.6" stroke="#730000"/><path d="M282.2 350.8l.1 3.6" stroke="#b20000"/><path d="M282.3 354.4l.1 3.6" stroke="#ff1c00"/><path d="M282.4 358.0l.3-.7" stroke="#ff5a00"/><path d="M282.7 357.3l.6-.5 .5-1.5" stroke="#ff9900"/><path d="M283.8 355.3l.3-.8" stroke="#ff4500"/><path d="M284.1 354.5l.3-1.1" stroke="#ff1c00"/><path d="M284.4 353.4l.5-3.2" stroke="#f10000"/><path d="M284.9 350.2l.6-4" stroke="#b20000"/><path d="M285.5 346.2l.5-4 .6-3" stroke="#730000"/><path d="M286.6 339.2l.6-1.2" stroke="#b20000"/><path d="M287.2 338.0l.5 2.4 .6 5.3" stroke="#c70000"/><path d="M288.3 345.7l.5 5.2" stroke="#dc0000"/><path d="M288.8 350.9l.6 2.4" stroke="#ff0700"/><path d="M289.4 353.3l.6-1.2" stroke="#b20000"/><path d="M290.0 352.1l.5-2.3" stroke="#730000"/><path d="M290.5 349.8l.6-1.2 .5 1.2" stroke="#5e0000"/><path d="M291.6 349.8l.6 2.3" stroke="#880000"/><path d="M292.2 352.1l.5 1.2" stroke="#ff0700"/><path d="M292.7 353.3l.6-.7" stroke="#ff1c00"/><path d="M293.3 352.6l.6-1.4" stroke="#dc0000"/><path d="M293.9 351.2l.5-1.2" stroke="#b20000"/><path d="M294.4 350.0l.3-.2 .3 .7" stroke="#9d0000"/><path d="M295.0 350.5l.5 3.8" stroke="#b20000"/><path d="M295.5 354.3l.6 2.5" stroke="#f10000"/><path d="M296.1 356.8l.4-4.7" stroke="#ff1c00"/><path d="M296.5 352.1l0-3" stroke="#dc0000"/><path d="M296.5 349.1l0-3" stroke="#c70000"/><path d="M296.5 346.1l0-3.1 .1-3 0-3 0-3.1" stroke="#730000"/><path d="M296.6 333.9l.1-3 0-3 0-3.1 0-3 .1-3" stroke="#880000"/><path d="M296.8 318.8l0-3 0-3.1 .1-3 0-3 0-3.1" stroke="#b20000"/><path d="M296.9 303.6l0-3 .1-3 0-3.1 0-3 .1-3" stroke="#c70000"/><path d="M297.1 288.5l0-3 0-3.1 0-3 .1-3" stroke="#f10000"/><path d="M297.2 276.4l0-3.1 0-3 0-3 .1-3.1 0-3 0 3.2 .1 3.1 0 3.2 0 3.2 .1 3.1" stroke="#ff0700"/><path d="M297.5 277.0l0 3.2 0 3.2 .1 3.1 0 3.2" stroke="#f10000"/><path d="M297.6 289.7l0 3.1 0 3.2 .1 3.2 0 3.1 0 3.2" stroke="#c70000"/><path d="M297.7 305.5l.1 3.2 0 3.2 0 3.1 .1 3.2" stroke="#b20000"/><path d="M297.9 318.2l0 3.2 0 3.2 .1 3.2 0 3.2 0 3.3" stroke="#880000"/><path d="M298.0 334.3l.1 3.2 0 3.3 0 3.2" stroke="#730000"/><path d="M298.1 344.0l.1 3.3 0 3.3" stroke="#f10000"/><path d="M298.2 350.6l.1 3.2" stroke="#ff3000"/><path d="M298.3 353.8l0 3.3" stroke="#ff8400"/><path d="M298.3 357.1l0 3.2 .3-2.3" stroke="#ffc300"/><path d="M298.6 358.0l.3-.6" stroke="#ffae00"/><path d="M298.9 357.4l.6-1" stroke="#ff4500"/><path d="M299.5 356.4l.5-.8 .6-1.5" stroke="#ff0700"/><path d="M300.6 354.1l.5-2.2" stroke="#dc0000"/><path d="M301.1 351.9l.6-2.3" stroke="#9d0000"/><path d="M301.7 349.6l.5-2" stroke="#c70000"/><path d="M302.2 347.6l.6-1.2" stroke="#dc0000"/><path d="M302.8 346.4l.3-.1" stroke="#b20000"/><path d="M303.1 346.3l.3 .1 .5 .6" stroke="#880000"/><path d="M303.9 347.0l.6 .9" stroke="#730000"/><path d="M304.5 347.9l.5 .6" stroke="#490000"/><path d="M305.0 348.5l.3 .1" stroke="#340000"/><path d="M305.3 348.6l.3-.1" stroke="#490000"/><path d="M305.6 348.5l.6-.3" stroke="#880000"/><path d="M306.2 348.2l.5-.4 .6-.3 .3-.1" stroke="#b20000"/><path d="M307.6 347.4l.2 0" stroke="#dc0000"/><path d="M307.8 347.4l.6 0" stroke="#c70000"/><path d="M308.4 347.4l.5 0" stroke="#880000"/><path d="M308.9 347.4l.6 0" stroke="#5e0000"/><path d="M309.5 347.4l.6 0" stroke="#880000"/><path d="M310.1 347.4l.5 0" stroke="#9d0000"/><path d="M310.6 347.4l.6 0" stroke="#b20000"/><path d="M311.2 347.4l.5 0" stroke="#dc0000"/><path d="M311.7 347.4l.6 0" stroke="#ff0700"/></g><path d="M32.55 373.23v-3.00M32.55 220.74v3.00M43.75 373.23v-1.80M43.75 220.74v1.80M54.94 373.23v-1.80M54.94 220.74v1.80M66.14 373.23v-1.80M66.14 220.74v1.80M77.33 373.23v-1.80M77.33 220.74v1.80M88.53 373.23v-3.00M88.53 220.74v3.00M99.73 373.23v-1.80M99.73 220.74v1.80M110.92 373.23v-1.80M110.92 220.74v1.80M122.12 373.23v-1.80M122.12 220.74v1.80M133.31 373.23v-1.80M133.31 220.74v1.80M144.51 373.23v-3.00M144.51 220.74v3.00M155.71 373.23v-1.80M155.71 220.74v1.80M166.90 373.23v-1.80M166.90 220.74v1.80M178.10 373.23v-1.80M178.10 220.74v1.80M189.29 373.23v-1.80M189.29 220.74v1.80M200.49 373.23v-3.00M200.49 220.74v3.00M211.69 373.23v-1.80M211.69 220.74v1.80M222.88 373.23v-1.80M222.88 220.74v1.80M234.08 373.23v-1.80M234.08 220.74v1.80M245.27 373.23v-1.80M245.27 220.74v1.80M256.47 373.23v-3.00M256.47 220.74v3.00M267.67 373.23v-1.80M267.67 220.74v1.80M278.86 373.23v-1.80M278.86 220.74v1.80M290.06 373.23v-1.80M290.06 220.74v1.80M301.25 373.23v-1.80M301.25 220.74v1.80M312.45 373.23v-3.00M312.45 220.74v3.00M32.55 373.23h1.80M312.45 373.23h-1.80M32.55 367.37h1.80M312.45 367.37h-1.80M32.55 361.50h3.00M312.45 361.50h-3.00M32.55 355.63h1.80M312.45 355.63h-1.80M32.55 349.77h1.80M312.45 349.77h-1.80M32.55 343.91h1.80M312.45 343.91h-1.80M32.55 338.04h3.00M312.45 338.04h-3.00M32.55 332.18h1.80M312.45 332.18h-1.80M32.55 326.31h1.80M312.45 326.31h-1.80M32.55 320.45h1.80M312.45 320.45h-1.80M32.55 314.58h3.00M312.45 314.58h-3.00M32.55 308.72h1.80M312.45 308.72h-1.80M32.55 302.85h1.80M312.45 302.85h-1.80M32.55 296.99h1.80M312.45 296.99h-1.80M32.55 291.12h3.00M312.45 291.12h-3.00M32.55 285.25h1.80M312.45 285.25h-1.80M32.55 279.39h1.80M312.45 279.39h-1.80M32.55 273.52h1.80M312.45 273.52h-1.80M32.55 267.66h3.00M312.45 267.66h-3.00M32.55 261.80h1.80M312.45 261.80h-1.80M32.55 255.93h1.80M312.45 255.93h-1.80M32.55 250.06h1.80M312.45 250.06h-1.80M32.55 244.20h3.00M312.45 244.20h-3.00M32.55 238.34h1.80M312.45 238.34h-1.80M32.55 232.47h1.80M312.45 232.47h-1.80M32.55 226.61h1.80M312.45 226.61h-1.80M32.55 220.74h3.00M312.45 220.74h-3.00" stroke="#222" stroke-width="0.9" fill="none"/><rect x="33.00" y="221.00" width="279.50" height="152.50" fill="none" stroke="#4c4c4c" stroke-width="1.0" stroke-linejoin="round"/><text x="29.55" y="365.60" text-anchor="end" class="tk">0.0</text><text x="29.55" y="342.14" text-anchor="end" class="tk">0.2</text><text x="29.55" y="318.68" text-anchor="end" class="tk">0.4</text><text x="29.55" y="295.22" text-anchor="end" class="tk">0.6</text><text x="29.55" y="271.76" text-anchor="end" class="tk">0.8</text><text x="29.55" y="248.30" text-anchor="end" class="tk"><tspan class="hid">1</tspan>.0</text><polygon points="17.89,241.21 18.72,241.21 18.72,248.30 17.82,248.30 17.82,242.06 16.22,243.21 16.22,242.39" class="tk one"/><text x="29.55" y="224.84" text-anchor="end" class="tk"><tspan class="hid">1</tspan>.2</text><polygon points="17.89,217.75 18.72,217.75 18.72,224.84 17.82,224.84 17.82,218.60 16.22,219.75 16.22,218.93" class="tk one"/><text x="32.55" y="384.23" text-anchor="middle" class="tk">0.0</text><text x="88.53" y="384.23" text-anchor="middle" class="tk">2.0</text><text x="144.51" y="384.23" text-anchor="middle" class="tk">4.0</text><text x="200.49" y="384.23" text-anchor="middle" class="tk">6.0</text><text x="256.47" y="384.23" text-anchor="middle" class="tk">8.0</text><text x="312.45" y="384.23" text-anchor="middle" class="tk"><tspan class="hid">1</tspan>0.0</text><polygon points="305.09,377.14 305.92,377.14 305.92,384.23 305.01,384.23 305.01,377.99 303.42,379.14 303.42,378.32" class="tk one"/><text x="172.50" y="398.33" text-anchor="middle" class="ax">Time / s</text><text transform="translate(9.05 296.69) rotate(-90)" text-anchor="middle" class="ax">Amplitude / a.u.</text><text transform="translate(160.70 424.30) scale(1.115 1)" text-anchor="middle" class="cap">(c) Short-term, AF classification</text><clipPath id="clip11"><rect x="365.17" y="220.74" width="279.20" height="152.49"/></clipPath><rect x="365.17" y="220.74" width="279.20" height="152.49" fill="#dcdcdc"/><path d="M421.01 220.74V373.23M476.85 220.74V373.23M532.69 220.74V373.23M588.53 220.74V373.23M365.17 361.50H644.37M365.17 338.04H644.37M365.17 314.58H644.37M365.17 291.12H644.37M365.17 267.66H644.37M365.17 244.20H644.37" stroke="#b0b0b0" stroke-width="0.8" fill="none"/><g fill="none" stroke-width="1.80" stroke-linejoin="bevel" stroke-linecap="round" clip-path="url(#clip11)"><path d="M365.6 346.8l.6-.4 .5-1.4" stroke="#490000"/><path d="M366.7 345.0l.3-1.1" stroke="#340000"/><path d="M367.0 343.9l.3-5.6" stroke="#c70000"/><path d="M367.3 338.3l.1-3.5 .2-3.6 .1-3.5 .1-3.5 .2 4 .2 4 .2 3.9 .1 3.7 .2 3.8" stroke="#ff5a00"/><path d="M368.7 343.6l.1 3 .2 3.1 .2 3.4" stroke="#490000"/><path d="M369.2 353.1l.3-.1" stroke="#5e0000"/><path d="M369.5 353.0l.6-.4" stroke="#490000"/><path d="M370.1 352.6l.5-.6" stroke="#340000"/><path d="M370.6 352.0l.6-.4" stroke="#200000"/><path d="M371.2 351.6l.3-.1 .2 1 .6 2.8" stroke="#340000"/><path d="M372.3 355.3l.6-1.6 .5-3.4" stroke="#490000"/><path d="M373.4 350.3l.6-3.4 .5-1.6" stroke="#5e0000"/><path d="M374.5 345.3l.6 1.6 .5 3.6 .6 4" stroke="#490000"/><path d="M376.2 354.5l.6 2.8" stroke="#340000"/><path d="M376.8 357.3l.2 .4" stroke="#490000"/><path d="M377.0 357.7l.3-.4 .6-2.6 .5-3.4 .6-2.6 .3-.5 .2 .4" stroke="#5e0000"/><path d="M379.5 348.6l.6 2.3" stroke="#490000"/><path d="M380.1 350.9l.6 3.1 .5 2.3" stroke="#340000"/><path d="M381.2 356.3l.3 .4 .3-.2 .5-1.9 .4-2.5 .1-3.3" stroke="#490000"/><path d="M382.8 348.8l0-3.3" stroke="#5e0000"/><path d="M382.8 345.5l0-3.3 0-3.3 .1-3.3 0-3.4 0-3 0-3 .1-3 0-3 0-3" stroke="#dc0000"/><path d="M383.0 317.2l0-3 .1-3 0-3 0-3.1 0-3 .1-3" stroke="#ff0700"/><path d="M383.2 299.1l0-3 0-3 0-3 .1-3 0-3" stroke="#ff1c00"/><path d="M383.3 284.1l0-3 0-3 .1-3.1 0-3 0-3" stroke="#ff5a00"/><path d="M383.4 269.0l0-3 .1-3.3 0-3.3 0-3.3 .1-3.3 0 3.1 0 3.1 0 3.2 .1 3.1 0 3.1" stroke="#ff8400"/><path d="M383.7 268.4l0 3.1 .1 3.2 0 3.1 0 3.1 0 3.2" stroke="#ff5a00"/><path d="M383.8 284.1l.1 3.1 0 3.1 0 3.1 .1 3.2 0 3.1" stroke="#ff1c00"/><path d="M384.0 299.7l0 3.1 0 3.2 .1 3.1 0 3.1 0 3.2" stroke="#ff0700"/><path d="M384.1 315.4l0 3.1 .1 3.1 0 3.1 0 3.2 .1 3.1 0 3.7 .1 3.7 .1 3.7 .1 3.7" stroke="#dc0000"/><path d="M384.6 345.8l0 3.1 .1 3 .1 3 0 3.1 .3 .3 .6 .6 .5-.5 .3-.4" stroke="#340000"/><path d="M386.5 358.0l.3-.8" stroke="#490000"/><path d="M386.8 357.2l.5-3.4 .6-4.4 .6-4.2 .5-2.8 .3-.4" stroke="#5e0000"/><path d="M389.3 342.0l.3 .5" stroke="#490000"/><path d="M389.6 342.5l.5 2.9 .6 4.2" stroke="#340000"/><path d="M390.7 349.6l.6 3.7 .5 1.6" stroke="#490000"/><path d="M391.8 354.9l.6-1.5" stroke="#5e0000"/><path d="M392.4 353.4l.5-3.3" stroke="#730000"/><path d="M392.9 350.1l.6-3.3" stroke="#5e0000"/><path d="M393.5 346.8l.5-1.5" stroke="#490000"/><path d="M394.0 345.3l.6 2.3 .6 2.5 .5 .5 .6 .2" stroke="#340000"/><path d="M396.3 350.8l.5 .2 .6 .3" stroke="#5e0000"/><path d="M397.4 351.3l.3 .2 .2 1 .6 3.4 .3 .8" stroke="#490000"/><path d="M398.8 356.7l.2-4.6 0-3.3 .1-3.3" stroke="#340000"/><path d="M399.1 345.5l0-3.1 0-3 0-3 .1-3 0-3" stroke="#dc0000"/><path d="M399.2 330.4l0-3.1 0-3 .1-3 0-3 0-3" stroke="#f10000"/><path d="M399.3 315.3l0-3.1 .1-3 0-3 0-3 0-3.1" stroke="#ff1c00"/><path d="M399.4 300.1l.1-3 0-3 0-3 0-3 .1-3.1" stroke="#ff6f00"/><path d="M399.6 285.0l0-3 0-3 0-3.3 .1-3.3 0-3.4" stroke="#ffc300"/><path d="M399.7 269.0l0-3.3 0-3.3 .1-3.3 0-3.4 0-3.3 .1 3.2 0 3.1 0 3.1 0 3.2 .1 3.1" stroke="#ffff23"/><path d="M400.0 268.1l0 3.2 0 3.1 .1 3.2 0 3.1 0 3.1" stroke="#ffc300"/><path d="M400.1 283.8l0 3.2 .1 3.1 0 3.2 0 3.1 0 3.2" stroke="#ff6f00"/><path d="M400.2 299.6l.1 3.1 0 3.2 0 3.1 .1 3.1 0 3.2" stroke="#ff1c00"/><path d="M400.4 315.3l0 3.1 0 3.2 .1 3.1 0 3.2 0 3.1" stroke="#f10000"/><path d="M400.5 331.0l.1 3.1 .1 3.2 0 3.1 .1 3.6" stroke="#dc0000"/><path d="M400.8 344.0l.1 3.5 0 3.5 .1 3.5 .1 3.5 .2-.3 .3-.3" stroke="#490000"/><path d="M401.6 357.4l.2-1.9 .6-4.6 .6 2.1" stroke="#5e0000"/><path d="M403.0 353.0l.5 3.2 .3 .6 .3-.9 .5-5.6 .3-3.8" stroke="#490000"/><path d="M404.9 346.5l.3-3.7" stroke="#340000"/><path d="M405.2 342.8l.5-5.6" stroke="#490000"/><path d="M405.7 337.2l.3-.9" stroke="#5e0000"/><path d="M406.0 336.3l.3 .6" stroke="#730000"/><path d="M406.3 336.9l.6 3.9 .5 6" stroke="#5e0000"/><path d="M407.4 346.8l.6 6 .5 4" stroke="#490000"/><path d="M408.5 356.8l.3 .6" stroke="#340000"/><path d="M408.8 357.4l.3-.6" stroke="#200000"/><path d="M409.1 356.8l.5-3.3" stroke="#340000"/><path d="M409.6 353.5l.6-4.1 .6-2 .5 3.6" stroke="#490000"/><path d="M411.3 351.0l.2 1.1 0-3.2 0-3.1" stroke="#5e0000"/><path d="M411.5 345.8l.1-3.2 0-3.2 0-3.2 0-3.1 .1-3.2" stroke="#dc0000"/><path d="M411.7 329.9l0-3.2 0-3.2 0-3.1 .1-3.2 0-3.2" stroke="#f10000"/><path d="M411.8 314.0l0-3.2 0-3.1 .1-3.2 0-3 0-3.1" stroke="#ff1c00"/><path d="M411.9 298.4l0-3 .1-3 0-3 0-3.1 0-3" stroke="#ff4500"/><path d="M412.0 283.3l.1-3 0-3 0-3 0-3.1 .1-3 0-3" stroke="#ff9900"/><path d="M412.2 265.2l0-3 0-3.1 .1-3 0-3 0-3 0 3.2 .1 3.2 0 3.3 0 3.2 .1 3.1" stroke="#ffd800"/><path d="M412.5 266.1l0 3.1 0 3.1 0 3 .1 3.1 0 3.1" stroke="#ff9900"/><path d="M412.6 281.5l0 3.1 0 3.1 .1 3.1 0 3 0 3.1 0 3.1" stroke="#ff4500"/><path d="M412.7 300.0l.1 3.1 0 3.1 0 3.1 0 3 .1 3.1" stroke="#ff1c00"/><path d="M412.9 315.4l0 3.1 0 3.1 .1 3.1 0 3.1 0 3.2" stroke="#f10000"/><path d="M413.0 331.0l.1 3.2 0 3.2 .1 3.2 .1 3.2" stroke="#dc0000"/><path d="M413.3 343.8l0 3.2 .1 3.2 .1 3.2 0 3.2 .1 1.4 .5 .8 .6 1.1 .2 .1" stroke="#340000"/><path d="M414.9 360.0l.3-.4" stroke="#490000"/><path d="M415.2 359.6l.6-2.5" stroke="#5e0000"/><path d="M415.8 357.1l.5-4.1" stroke="#730000"/><path d="M416.3 353.0l.6-4.5 .5-4.1" stroke="#5e0000"/><path d="M417.4 344.4l.6-2.5 .3-.3" stroke="#490000"/><path d="M418.3 341.6l.3 .2 .5 1.7" stroke="#340000"/><path d="M419.1 343.5l.6 2.5" stroke="#490000"/><path d="M419.7 346.0l.5 2.4 .6 1.4 .5 .4 .6 .3" stroke="#5e0000"/><path d="M421.9 350.5l.6 .4 .5 1.5 .6 2.3 .5 1.7 .3 .3 .3-.6" stroke="#340000"/><path d="M424.7 356.1l.5-3.1" stroke="#490000"/><path d="M425.2 353.0l.6-2.1" stroke="#5e0000"/><path d="M425.8 350.9l.3 1.2 .1-3.4 0-3.3" stroke="#490000"/><path d="M426.2 345.4l0-3.4 0-3.4 .1-3.3 0-3.4" stroke="#dc0000"/><path d="M426.3 331.9l0-3.4 .1-3.3 0-3.1 0-3.1 0-3" stroke="#f10000"/><path d="M426.4 316.0l.1-3.1 0-3.1 0-3 0-3.1 .1-3.1" stroke="#ff1c00"/><path d="M426.6 300.6l0-3 0-3.1 0-3.1 .1-3 0-3.1 0-3" stroke="#ff5a00"/><path d="M426.7 282.3l0-3.1 .1-3.1 0-3 0-3.1 0-3.1" stroke="#ffae00"/><path d="M426.8 266.9l.1-3 0-3.1 0-3.1 0-3.3 .1-3.4 0 3 0 3.1 0 3 .1 3 0 3.1" stroke="#ffed00"/><path d="M427.1 266.2l0 3 .1 3 0 3.1 0 3 0 3 .1 3.1" stroke="#ffae00"/><path d="M427.3 284.4l0 3 0 3 0 3 .1 3.1 0 3" stroke="#ff5a00"/><path d="M427.4 299.5l0 3 0 3.1 .1 3 0 3.2 0 3.2" stroke="#ff1c00"/><path d="M427.5 315.0l.1 3.2 0 3.2 0 3.2 0 3.2 .1 3.2" stroke="#f10000"/><path d="M427.7 331.0l0 3.5 .1 3.5 .1 3.5 .1 3.5" stroke="#dc0000"/><path d="M428.0 345.0l0 3.5 .1 3.2 .1 3.1 0 3.2 .4 1.4" stroke="#340000"/><path d="M428.6 359.4l.5-.5" stroke="#490000"/><path d="M429.1 358.9l.6-1 .6-1.2 .5-1.5 .6-2" stroke="#5e0000"/><path d="M431.4 353.2l.5-2.1" stroke="#490000"/><path d="M431.9 351.1l.6-1.8" stroke="#340000"/><path d="M432.5 349.3l.5-1.1 .3-.2 .3 .1 .6 .8" stroke="#490000"/><path d="M434.2 348.9l.5 1.2 .6 1" stroke="#5e0000"/><path d="M435.3 351.1l.5 .4 .6-.5" stroke="#490000"/><path d="M436.4 351.0l.5-1.4 .6-1.7" stroke="#340000"/><path d="M437.5 347.9l.6-1.6" stroke="#200000"/><path d="M438.1 346.3l.5-1.1" stroke="#490000"/><path d="M438.6 345.2l.3-.1 .3 .8" stroke="#5e0000"/><path d="M439.2 345.9l.5 4.3" stroke="#490000"/><path d="M439.7 350.2l.6 2.9 .5-1.4" stroke="#5e0000"/><path d="M440.8 351.7l.6-2.8" stroke="#490000"/><path d="M441.4 348.9l.6-2.3 .2-.3" stroke="#340000"/><path d="M442.2 346.3l.3 .5 .6 3.1 .5 2 .1 .2" stroke="#490000"/><path d="M443.7 352.1l0-3 0-3" stroke="#5e0000"/><path d="M443.7 346.1l.1-3.1 0-3 0-3 .1-3.1" stroke="#dc0000"/><path d="M443.9 333.9l0-3 0-3 0-3.1 .1-3 0-3" stroke="#f10000"/><path d="M444.0 318.8l0-3 0-3.1 .1-3 0-3 0-3.1" stroke="#ff1c00"/><path d="M444.1 303.6l.1-3 0-3 0-3.1 0-3 .1-3" stroke="#ff6f00"/><path d="M444.3 288.5l0-3 0-3.1 .1-3 0-3" stroke="#ffc300"/><path d="M444.4 276.4l0-3.1 0-3 .1-3 0-3.1 0-3 .1 3.2 0 3.2 0 3.2 0 3.2 .1 3.2" stroke="#ffff23"/><path d="M444.7 277.2l0 3.2 0 3.1 .1 3.2 0 3.2" stroke="#ffc300"/><path d="M444.8 289.9l0 3.1 .1 3.2 0 3.2 0 3.1 .1 3.2" stroke="#ff6f00"/><path d="M445.0 305.7l0 3.2 0 3.1 .1 3.2 0 3.1" stroke="#ff1c00"/><path d="M445.1 318.3l0 3.2 .1 3.2 0 3.1 0 3.2" stroke="#f10000"/><path d="M445.2 331.0l.1 4 .1 3.3 0 3.3 .1 3.3" stroke="#dc0000"/><path d="M445.5 344.9l.1 3.3 0 3.2 .1 3.3 .1 3.3 .1-1.6 .2-5.5 .3 .2" stroke="#490000"/><path d="M446.4 351.1l.6 1.1 .5 1.5" stroke="#340000"/><path d="M447.5 353.7l.6 1.1" stroke="#490000"/><path d="M448.1 354.8l.3 .1 .2-.3" stroke="#5e0000"/><path d="M448.6 354.6l.6-2.3 .6-3.6 .5-3.8" stroke="#490000"/><path d="M450.3 344.9l.6-3" stroke="#340000"/><path d="M450.9 341.9l.5-1.3" stroke="#200000"/><path d="M451.4 340.6l.6 4.4" stroke="#340000"/><path d="M452.0 345.0l.3 3.4 .2 3.4 .3 1.3 .3-.2" stroke="#490000"/><path d="M453.1 352.9l.6-1.3 .5-1.8 .6-1.7" stroke="#5e0000"/><path d="M454.8 348.1l.5-.7 .6 1 .5 1.4" stroke="#490000"/><path d="M456.4 349.8l.6 .6" stroke="#340000"/><path d="M457.0 350.4l.6 .6" stroke="#490000"/><path d="M457.6 351.0l.5 .5 .6 .4 .5 .2 .3 0 .1-3.1 0-3.2" stroke="#5e0000"/><path d="M459.6 345.8l0-3.1 0-3.1 .1-3.2 0-3.1 0-3.1 .1-3.2 0-3.1 0-3.1 0-3.2" stroke="#dc0000"/><path d="M459.8 317.6l.1-3.1 0-3.1 0-3.2 .1-3.1 0-3.2" stroke="#f10000"/><path d="M460.0 301.9l0-3.1 0-3.1 .1-3.2 0-3.1" stroke="#ff0700"/><path d="M460.1 289.4l0-3.1 0-3.2 .1-3.1 0-3.1 0-3.2" stroke="#ff3000"/><path d="M460.2 273.7l.1-3.1 0-3.2 0-3.1 0-3.1" stroke="#ff4500"/><path d="M460.3 261.2l.1-3.2" stroke="#ff5a00"/><path d="M460.4 258.0l0 3.1 0 3.1 .1 3.1 0 3.1 0 3" stroke="#ff4500"/><path d="M460.5 273.4l0 3.1 .1 3.1 0 3.1 0 3.1 .1 3" stroke="#ff3000"/><path d="M460.7 288.8l0 3.1 0 3.1 .1 3.1 0 3.1 0 3" stroke="#ff0700"/><path d="M460.8 304.2l0 3.1 .1 3.1 0 3.1 0 3.5" stroke="#f10000"/><path d="M460.9 317.0l.1 3.5 0 3.5 0 3.5 .1 3.5 0 3.1 .1 3.2 .1 3.1 0 3.2" stroke="#dc0000"/><path d="M461.3 343.6l.1 3.1" stroke="#340000"/><path d="M461.4 346.7l.1 3.2 0 4 .1 4.1 .4-4.1 .3-3 .3 .5 .5 2.7" stroke="#490000"/><path d="M463.1 354.1l.6 3.2" stroke="#5e0000"/><path d="M463.7 357.3l.5 1.6" stroke="#490000"/><path d="M464.2 358.9l.6-2.6 .6-5.8 .5-5.8 .6-2.7" stroke="#340000"/><path d="M466.5 342.0l.5 1.5" stroke="#490000"/><path d="M467.0 343.5l.6 3.4 .5 4.2 .6 3.4 .6 1.5" stroke="#5e0000"/><path d="M469.3 356.0l.5-.8" stroke="#490000"/><path d="M469.8 355.2l.6-1.8" stroke="#340000"/><path d="M470.4 353.4l.5-2 .6-1.4 .3-.2 .2 .9" stroke="#490000"/><path d="M472.0 350.7l.6 5.2 .6 3.3 .1-3.6 .1-3.5 0-3 .1-3" stroke="#5e0000"/><path d="M473.5 346.1l0-3 0-3.1 0-3 .1-3 0-3 0-3 .1-3.1 0-3 0-3" stroke="#dc0000"/><path d="M473.7 318.9l0-3 .1-3 0-3 0-3.1 .1-3" stroke="#f10000"/><path d="M473.9 303.8l0-3 0-3 0-3 .1-3.1 0-3" stroke="#ff0700"/><path d="M474.0 288.7l0-3 .1-3 0-3 0-3" stroke="#ff3000"/><path d="M474.1 276.7l0-3.1 .1-3 0-3 0-3 0-3 .1 2.7 0 3.1 0 3.1 .1 3.1 0 3.1" stroke="#ff5a00"/><path d="M474.4 276.7l0 3.1 .1 3.1 0 3 0 3.1" stroke="#ff3000"/><path d="M474.5 289.0l.1 3.1 0 3.1 0 3.1 0 3.1 .1 3.1" stroke="#ff0700"/><path d="M474.7 304.5l0 3 0 3.1 .1 3.1 0 3.1 0 3.1" stroke="#f10000"/><path d="M474.8 319.9l.1 3.7 0 3.7 0 3.7 .1 3.1 .1 3.1 0 3.1 .1 3 .1 3.1" stroke="#dc0000"/><path d="M475.3 346.4l0 3.1 .1 3.1 .1 5.4 .4-.6 .6 .4" stroke="#340000"/><path d="M476.5 357.8l.6 .8 .5 .8" stroke="#5e0000"/><path d="M477.6 359.4l.6 .3 .5-3.6 .3-3.7" stroke="#490000"/><path d="M479.0 352.4l.3-3.7 .3-3.1" stroke="#340000"/><path d="M479.6 345.6l.2-3" stroke="#200000"/><path d="M479.8 342.6l.3-1 .3 1.3" stroke="#340000"/><path d="M480.4 342.9l.3 3.8 .3 3.9 .2 3.8 .3 3.9" stroke="#490000"/><path d="M481.5 358.3l.3 1.3 .3-.5" stroke="#5e0000"/><path d="M482.1 359.1l.5-3.4" stroke="#730000"/><path d="M482.6 355.7l.6-4.4" stroke="#5e0000"/><path d="M483.2 351.3l.5-2.7 .6-.9 .6-.8" stroke="#490000"/><path d="M484.9 346.9l.5-.5" stroke="#340000"/><path d="M485.4 346.4l.6-.1" stroke="#490000"/><path d="M486.0 346.3l.5 2.1 .6 3.9" stroke="#5e0000"/><path d="M487.1 352.3l.5 2.2 .6-.6 .6-1.8" stroke="#490000"/><path d="M488.8 352.1l0-3.1 0-3.1" stroke="#340000"/><path d="M488.8 345.9l0-3.2 .1-3.1 0-3.1 0-3.1 .1-3.2 0-3.1 0-3.1 .1-3.1 0-3.1" stroke="#dc0000"/><path d="M489.1 317.8l0-3.2 0-3.1 .1-3.1 0-3.1" stroke="#f10000"/><path d="M489.2 305.3l0-3.2 .1-3.1 0-3.1 0-3.1" stroke="#ff0700"/><path d="M489.3 292.8l0-3.3 .1-3.3 0-3.3 0-3.3 .1-3.3" stroke="#ff1c00"/><path d="M489.5 276.3l0-3.3 0-3.3 .1-3.3 0-3.3 0 3 .1 3 0 3 0 3.1 .1 3" stroke="#ff3000"/><path d="M489.8 278.2l0 3 0 3 0 3 .1 3.1" stroke="#ff1c00"/><path d="M489.9 290.3l0 3.1 0 3.1 .1 3.2 0 3.1 0 3.1" stroke="#ff0700"/><path d="M490.0 305.9l.1 3.2 0 3.1 0 3.1 .1 3.2" stroke="#f10000"/><path d="M490.2 318.5l0 3.1 0 3.1 .1 3.2 0 3.1 .1 3.4 0 3.3 .1 3.4 .1 3.4" stroke="#dc0000"/><path d="M490.6 344.5l0 3.4 .1 3.3 .1 3.4 .1 3.4 .1 .1 .5 .7" stroke="#490000"/><path d="M491.5 358.8l.6 .1 .6-.9" stroke="#5e0000"/><path d="M492.7 358.0l.5-2.4" stroke="#490000"/><path d="M493.2 355.6l.6-3.2" stroke="#340000"/><path d="M493.8 352.4l.5-3.4 .6-2.9 .5-1.7" stroke="#490000"/><path d="M495.4 344.4l.3-.3" stroke="#5e0000"/><path d="M495.7 344.1l.3 .5 .6 3" stroke="#730000"/><path d="M496.6 347.6l.5 4.3 .6 3.8" stroke="#5e0000"/><path d="M497.7 355.7l.5 1.7" stroke="#490000"/><path d="M498.2 357.4l.6-1.2 .5-2.6" stroke="#340000"/><path d="M499.3 353.6l.6-2.6 .6-1.2 .5 .5" stroke="#490000"/><path d="M501.0 350.3l.6 1.1" stroke="#5e0000"/><path d="M501.6 351.4l.5 1.4" stroke="#490000"/><path d="M502.1 352.8l.6 1.2 .5 .5 .6-.8 .4-1.6 .1-3.6 0-3.6" stroke="#340000"/><path d="M504.3 344.9l0-3.6 0-3.6 .1-3.6 0-3.1 0-3.1 0-3.2 .1-3.1 0-3.1 0-3.1 0-3.2" stroke="#dc0000"/><path d="M504.5 312.2l.1-3.1 0-3.1 0-3.2 0-3.1 .1-3.1" stroke="#ff0700"/><path d="M504.7 296.6l0-3.1 0-3.2 0-3.1 .1-3.1 0-3.1 0-3.2" stroke="#ff3000"/><path d="M504.8 277.8l0-3.1 0-3.1 .1-3.2 0-3.1 0-3.1" stroke="#ff5a00"/><path d="M504.9 262.2l0-3.6 .1-3.6 0-3.6 0-3.6 .1-3.6 0 3.1 0 3 0 3.1 .1 3.1 0 3 0 3.1" stroke="#ff8400"/><path d="M505.2 262.6l0 3 .1 3.1 0 3.1 0 3 0 3.1" stroke="#ff5a00"/><path d="M505.3 277.9l.1 3.1 0 3 0 3.1 0 3.1 .1 3 0 3.1" stroke="#ff3000"/><path d="M505.5 296.3l0 3.1 0 3.2 .1 3.2 0 3.1 0 3.2" stroke="#ff0700"/><path d="M505.6 312.1l0 3.1 .1 3.2 0 3.1 0 3.2 0 3.1 .1 3.2 0 3.4 .1 3.3 .1 3.4 0 3.4" stroke="#dc0000"/><path d="M506.0 344.5l.1 3.4 .1 3.3" stroke="#5e0000"/><path d="M506.2 351.2l0 3.4 .1 3.4 .3 0 .3 0 .2-.2 .6-1.6" stroke="#490000"/><path d="M507.7 356.2l.6-2.6 .5-3.2" stroke="#340000"/><path d="M508.8 350.4l.6-3.4" stroke="#490000"/><path d="M509.4 347.0l.5-2.9 .6-2.2 .5-.8 .6 2.3" stroke="#5e0000"/><path d="M511.6 343.4l.6 5" stroke="#490000"/><path d="M512.2 348.4l.5 5 .6 2.2 .5-2.1" stroke="#340000"/><path d="M513.8 353.5l.6-3.9" stroke="#490000"/><path d="M514.4 349.6l.5-2.2 .6 .9" stroke="#5e0000"/><path d="M515.5 348.3l.6 2.1 .5 2" stroke="#490000"/><path d="M516.6 352.4l.6 .9 .5-2.5 .6-3.8" stroke="#340000"/><path d="M518.3 347.0l.3-.7 .2 2.4" stroke="#490000"/><path d="M518.8 348.7l.3 3.5 .3 3.4 .4-3.5 0-3.4 .1-3.3" stroke="#5e0000"/><path d="M519.9 345.4l0-3.4 0-3.4 0-3.4 .1-3.4" stroke="#dc0000"/><path d="M520.0 331.8l0-3 0-3.1 0-3.1 .1-3 0-3.1" stroke="#f10000"/><path d="M520.1 316.5l0-3.1 0-3.1 .1-3 0-3.1 0-3.1 0-3" stroke="#ff1c00"/><path d="M520.2 298.1l.1-3.1 0-3.1 0-3 0-3.1 .1-3.1" stroke="#ff5a00"/><path d="M520.4 282.7l0-3.1 0-3 0-3.1 .1-3.1 0-3" stroke="#ffae00"/><path d="M520.5 267.4l0-3.1 0-3.4 .1-3.4 0-3.4 0-3.3 .1 3 0 3 0 3 0 3.1 .1 3" stroke="#ffed00"/><path d="M520.8 265.9l0 3 0 3 0 3 .1 3.1 0 3 0 3" stroke="#ffae00"/><path d="M520.9 284.0l0 3 .1 3 0 3.1 0 3 .1 3" stroke="#ff5a00"/><path d="M521.1 299.1l0 3 0 3.2 0 3.2 .1 3.2 0 3.3" stroke="#ff1c00"/><path d="M521.2 315.0l0 3.2 0 3.2 .1 3.2 0 3.2 0 3.2" stroke="#f10000"/><path d="M521.3 331.0l.1 3.7 .1 3.7 .1 3.7 0 3.7" stroke="#dc0000"/><path d="M521.6 345.8l.1 3.1 .1 3 0 3 .1 3.1 .3-.1" stroke="#340000"/><path d="M522.2 357.9l.6 0 .5-.2 .6-.2" stroke="#490000"/><path d="M523.9 357.5l.2-.1" stroke="#5e0000"/><path d="M524.1 357.4l.3-.7 .6-3.7" stroke="#730000"/><path d="M525.0 353.0l.5-5.2" stroke="#5e0000"/><path d="M525.5 347.8l.6-4.7 .6-2" stroke="#490000"/><path d="M526.7 341.1l.5 3.1 .6 5.2 .2 1.5" stroke="#340000"/><path d="M528.0 350.9l.3 .8 .6 1.2 .5 1 .6 .5" stroke="#490000"/><path d="M530.0 354.4l.3 .1" stroke="#5e0000"/><path d="M530.3 354.5l.3-.2" stroke="#490000"/><path d="M530.6 354.3l.5-1.3 .6-2.1 .5-2.2" stroke="#340000"/><path d="M532.2 348.7l.6-1.7 .5-.7" stroke="#490000"/><path d="M533.3 346.3l.6 2.5" stroke="#5e0000"/><path d="M533.9 348.8l.6 5.3" stroke="#730000"/><path d="M534.5 354.1l.5 4.3" stroke="#5e0000"/><path d="M535.0 358.4l.3 .8 .3-.7 .5-5.4 .2-1 0-3 0-3.1" stroke="#490000"/><path d="M536.3 346.0l0-3 .1-3 0-3.1 0-3 0-3 .1-3.1 0-3 0-3 0-3.1 .1-3" stroke="#dc0000"/><path d="M536.6 315.7l0-3 0-3.1 .1-3 0-3 0-3.1" stroke="#f10000"/><path d="M536.7 300.5l0-3 .1-3.1 0-3 0-3 0-3.1" stroke="#ff1c00"/><path d="M536.8 285.3l.1-3 0-3 0-3.1 0-3 .1-3" stroke="#ff4500"/><path d="M537.0 270.2l0-3.1 0-3 0-3 .1-3.1 0-3 0 3 .1 3.1 0 3 0 3.1 0 3" stroke="#ff6f00"/><path d="M537.2 270.2l.1 3 0 3.1 0 3 0 3.1 .1 3" stroke="#ff4500"/><path d="M537.4 285.4l0 3 0 3.1 .1 3 0 3.1 0 3" stroke="#ff1c00"/><path d="M537.5 300.6l0 3 .1 3.1 0 3 0 3.1 .1 3" stroke="#f10000"/><path d="M537.7 315.8l0 3 0 3.1 0 3 .1 3.1 0 3 0 0 .1 3.4 0 3.3 .1 3.4 .1 3.4" stroke="#dc0000"/><path d="M538.1 344.5l0 3.4 .1 3.3 .1 3.4 .1 3.4 .5-.3 .6-.1 .2-.2 .3-.5" stroke="#5e0000"/><path d="M540.0 356.9l.6-2.3" stroke="#340000"/><path d="M540.6 354.6l.5-3.5" stroke="#200000"/><path d="M541.1 351.1l.6-3.8 .6-3.4" stroke="#340000"/><path d="M542.3 343.9l.5-2 .3-.3" stroke="#490000"/><path d="M543.1 341.6l.3 .2 .5 1.9" stroke="#5e0000"/><path d="M543.9 343.7l.6 2.8" stroke="#490000"/><path d="M544.5 346.5l.5 2.9" stroke="#340000"/><path d="M545.0 349.4l.6 1.9 .3 .2" stroke="#490000"/><path d="M545.9 351.5l.3-.1 .5-1.2" stroke="#340000"/><path d="M546.7 350.2l.6-1.5" stroke="#490000"/><path d="M547.3 348.7l.5-1.1 .3-.2 .3 0 .5 .2 .6 .3" stroke="#5e0000"/><path d="M549.5 347.9l.6 .5" stroke="#490000"/><path d="M550.1 348.4l.2 .2 .3 .5 .6 1.8" stroke="#340000"/><path d="M551.2 350.9l.5 2.3 .6 2.1 .3 .7" stroke="#490000"/><path d="M552.6 356.0l.2 .5 .6 1" stroke="#5e0000"/><path d="M553.4 357.5l.6 .8" stroke="#490000"/><path d="M554.0 358.3l.5 .6 .6 .3 0-3.6 .1-3.5 0-3.1 .1-3.1" stroke="#340000"/><path d="M555.3 345.9l0-3.1 0-3.1 0-3.1 .1-3 0-3.1" stroke="#dc0000"/><path d="M555.4 330.5l0-3.1 0-3.1 .1-3.1 0-3.1 0-3.1" stroke="#f10000"/><path d="M555.5 315.0l0-3.1 .1-3.1 0-3.1 0-3.1 .1-3.1" stroke="#ff3000"/><path d="M555.7 299.5l0-3.1 0-3.1 0-3.1 .1-3.1 0-3" stroke="#ff8400"/><path d="M555.8 284.1l0-3.1 0-3.1 .1-3.1 0-3.1 0-3.1" stroke="#ffed00"/><path d="M555.9 268.6l0-3.1 .1-3.1 0-3.1 0-3.1 0-3.1 .1 3.1 0 3.1 0 3.2 .1 3.1 0 3.1" stroke="#ffff81"/><path d="M556.2 268.7l0 3.1 0 3.1 .1 3.1 0 3.2 0 3.1" stroke="#ffed00"/><path d="M556.3 284.3l0 3.1 .1 3.1 0 3.1 0 3.1 .1 3.1" stroke="#ff8400"/><path d="M556.5 299.8l0 3.2 0 3.1 0 3.1 .1 3.1 0 3.1" stroke="#ff3000"/><path d="M556.6 315.4l0 3.1 .1 3.2 0 3.1 0 3.1 0 3.1" stroke="#f10000"/><path d="M556.7 331.0l.1 3.4 .1 3.3 0 3.4 .1 3.4" stroke="#dc0000"/><path d="M557.0 344.5l.1 3.4 .1 3.3 0 3.4 .1 3.4 .6-.7" stroke="#5e0000"/><path d="M557.9 357.3l.5-.3" stroke="#490000"/><path d="M558.4 357.0l.6-.9" stroke="#5e0000"/><path d="M559.0 356.1l.2-.5 .3-.6" stroke="#490000"/><path d="M559.5 355.0l.6-2.1 .5-2.5" stroke="#340000"/><path d="M560.6 350.4l.6-2.6" stroke="#490000"/><path d="M561.2 347.8l.6-1.9 .5-.8" stroke="#5e0000"/><path d="M562.3 345.1l.6 .6" stroke="#730000"/><path d="M562.9 345.7l.5 1.5" stroke="#5e0000"/><path d="M563.4 347.2l.6 2 .5 2 .6 1.5" stroke="#490000"/><path d="M565.1 352.7l.6 .6" stroke="#340000"/><path d="M565.7 353.3l.5-1.2" stroke="#490000"/><path d="M566.2 352.1l.6-2.3 .5-1.2" stroke="#5e0000"/><path d="M567.3 348.6l.6 .6 .5 1.4" stroke="#490000"/><path d="M568.4 350.6l.6 1.2" stroke="#340000"/><path d="M569.0 351.8l.4 .3 0-3.1 0-3" stroke="#200000"/><path d="M569.4 346.0l0-3.1 .1-3.1 0-3.1 0-3 .1-3.1 0-3.1 0-3.1 0-3.1 .1-3" stroke="#dc0000"/><path d="M569.7 318.3l0-3.1 0-3.1 .1-3.1 0-3 0-3.1" stroke="#ff0700"/><path d="M569.8 302.9l0-3.1 .1-3.1 0-3.1 0-3 0-3.1" stroke="#ff3000"/><path d="M569.9 287.5l.1-3.1 0-3.1 0-3 .1-3.1" stroke="#ff6f00"/><path d="M570.1 275.2l0-3.1 0-3.1 0-3 .1-3.1 0-3.1 0 3 .1 3.1 0 3 0 3 0 3" stroke="#ff9900"/><path d="M570.3 274.9l.1 3.1 0 3 0 3 .1 3 0 3.1" stroke="#ff6f00"/><path d="M570.5 290.1l0 3 .1 3 0 3 0 3.1" stroke="#ff3000"/><path d="M570.6 302.2l0 3 .1 3 0 3.3 0 3.2 .1 3.3" stroke="#ff0700"/><path d="M570.8 318.0l0 3.2 0 3.3 .1 3.2 0 3.3 .1 3.2 0 3.3 .1 3.2 .1 3.3" stroke="#dc0000"/><path d="M571.2 344.0l0 3.2 .1 3.6 .1 3.6 0 3.6" stroke="#490000"/><path d="M571.4 358.0l.4-.2 .5-.2 .6-.5" stroke="#5e0000"/><path d="M572.9 357.1l.3-.3" stroke="#490000"/><path d="M573.2 356.8l.3-.6" stroke="#340000"/><path d="M573.5 356.2l.5-2.9 .6-4.1 .5-4.2 .6-3.3" stroke="#490000"/><path d="M575.7 341.7l.5-1.3 .6 5.2 .2 3.2 .2 3.2" stroke="#5e0000"/><path d="M577.2 352.0l.2 3.2 .5 5.1 .6-.7" stroke="#490000"/><path d="M578.5 359.6l.5-1.7 .6-2.2" stroke="#340000"/><path d="M579.6 355.7l.5-2.1 .6-1.3 .3-.2 .3 .2" stroke="#490000"/><path d="M581.3 352.3l.5 1.3" stroke="#5e0000"/><path d="M581.8 353.6l.6 1.7" stroke="#490000"/><path d="M582.4 355.3l.5 1.3 .3 .2 .3-2.5 .2-2.2 .1-3.2 0-3.2" stroke="#340000"/><path d="M583.8 345.7l0-3.2 0-3.2 .1-3.2 0-3.2 0-3.2 .1-3.2 0-3.2 0-3.2 0-3.3" stroke="#dc0000"/><path d="M584.0 316.8l.1-3 0-3 0-3.1 0-3 .1-3.1" stroke="#ff0700"/><path d="M584.2 301.6l0-3 0-3.1 .1-3 0-3.1 0-3" stroke="#ff3000"/><path d="M584.3 286.4l0-3.1 .1-3 0-3 0-3.1 0-3" stroke="#ff6f00"/><path d="M584.4 271.2l.1-3.1 0-3 0-3.1 0-3 .1-3.1" stroke="#ff9900"/><path d="M584.6 255.9l0 3" stroke="#ffae00"/><path d="M584.6 258.9l0 3 .1 3 0 3 0 3" stroke="#ff9900"/><path d="M584.7 270.9l0 3 .1 3.1 0 3 0 3 .1 3" stroke="#ff6f00"/><path d="M584.9 286.0l0 3 0 3 0 3 .1 3 0 3" stroke="#ff3000"/><path d="M585.0 301.0l0 3 0 3 .1 3 0 3 0 3" stroke="#ff0700"/><path d="M585.1 316.0l.1 3 0 3 0 3 0 3 .1 3 0 3.1 .1 3.1 .1 3.1 0 3 .1 3.1" stroke="#dc0000"/><path d="M585.6 346.4l.1 3.1 0 3.1 .1 5.4 .2 2.3" stroke="#730000"/><path d="M586.0 360.3l.3-1 .5-.7 .6-2.5" stroke="#5e0000"/><path d="M587.4 356.1l.5-3" stroke="#490000"/><path d="M587.9 353.1l.6-2.8 .6-2.1" stroke="#340000"/><path d="M589.1 348.2l.5-.8" stroke="#490000"/><path d="M589.6 347.4l.6 .2 .5 .6 .6 .8 .5 .8" stroke="#5e0000"/><path d="M591.8 349.8l.6 .7 .6 .4 .2 0 .3 0 .6-.2 .5-.3" stroke="#340000"/><path d="M594.6 350.4l.6-.3 .5-.2" stroke="#5e0000"/><path d="M595.7 349.9l.6-.1 .6 1.5 .5 2.8" stroke="#490000"/><path d="M597.4 354.1l.6 1.5 .5-1.3" stroke="#340000"/><path d="M598.5 354.3l.4-2.2" stroke="#490000"/><path d="M598.9 352.1l0-3.1 0-3.1" stroke="#5e0000"/><path d="M598.9 345.9l.1-3.2 0-3.1 0-3.1 0-3.1 .1-3.2" stroke="#dc0000"/><path d="M599.1 330.2l0-3.1 0-3.1 0-3.1 .1-3.1 0-3.1" stroke="#f10000"/><path d="M599.2 314.7l0-3.1 0-3.1 .1-3.2 0-3.1 0-3.1 0-3.1" stroke="#ff1c00"/><path d="M599.3 296.0l.1-3.1 0-3.1 0-3.1 0-3.1 .1-3.1" stroke="#ff5a00"/><path d="M599.5 280.5l0-3.1 0-3.1 0-3.1 0-3.1 .1-3.2 0-3.1" stroke="#ffae00"/><path d="M599.6 261.8l0-3.1 0-3.1 .1-3.5 0-3.6 0-3.6 .1 3.1 0 3.1 0 3 0 3.1 .1 3.1 0 3.1" stroke="#ffed00"/><path d="M599.9 263.4l0 3.1 0 3.1 .1 3 0 3.1 0 3.1" stroke="#ffae00"/><path d="M600.0 278.8l0 3.1 .1 3.1 0 3 0 3.1 0 3.1 .1 3.1" stroke="#ff5a00"/><path d="M600.2 297.3l0 3.1 0 3.1 0 3 .1 3.1 0 3" stroke="#ff1c00"/><path d="M600.3 312.6l0 3.1 0 3.1 0 3 .1 3.1 0 3 0 3.1" stroke="#f10000"/><path d="M600.4 331.0l.1 3.2 .1 3.3 0 3.2 .1 3.3" stroke="#dc0000"/><path d="M600.7 344.0l.1 3.2 0 3.6 .1 3.6 .1 3.6" stroke="#730000"/><path d="M601.0 358.0l.3-1.3" stroke="#5e0000"/><path d="M601.3 356.7l.3-1.1" stroke="#490000"/><path d="M601.6 355.6l.3 0 .5 0" stroke="#340000"/><path d="M602.4 355.6l.6 0 .5 0 .6 0" stroke="#490000"/><path d="M604.1 355.6l.6 0 .5-2.3" stroke="#5e0000"/><path d="M605.2 353.3l.6-4.8 .5-3.9 .3-.7" stroke="#490000"/><path d="M606.6 343.9l.3 .9 .5 5 .6 5 .3 .8" stroke="#340000"/><path d="M608.3 355.6l.3-.5 .5-3.4 .6-4.1" stroke="#490000"/><path d="M609.7 347.6l.5-1.9 .6 1.2" stroke="#5e0000"/><path d="M610.8 346.9l.5 2.5 .6 2.2 .4 .5" stroke="#340000"/><path d="M612.3 352.1l0-3.2 0-3.1" stroke="#490000"/><path d="M612.3 345.8l0-3.2 .1-3.2 0-3.1 0-3.2" stroke="#dc0000"/><path d="M612.4 333.1l.1-3.2 0-3 0-3 0-3 .1-3.1" stroke="#f10000"/><path d="M612.6 317.8l0-3 0-3 0-3 .1-3 0-3.1" stroke="#ff1c00"/><path d="M612.7 302.7l0-3 .1-3 0-3 0-3 0-3.1" stroke="#ff6f00"/><path d="M612.8 287.6l.1-3 0-3 0-3 0-3 .1-3.1" stroke="#ffc300"/><path d="M613.0 272.5l0-3 0-3 0-3.2 .1-3.1 0-3.2 0 3.1 .1 3.2 0 3.1 0 3.2 0 3.1" stroke="#ffff23"/><path d="M613.2 272.7l.1 3.2 0 3.1 0 3.2 .1 3.1 0 3.1" stroke="#ffc300"/><path d="M613.4 288.4l0 3.2 .1 3.1 0 3.2 0 3.1" stroke="#ff6f00"/><path d="M613.5 301.0l0 3.2 .1 3.1 0 3.4 0 3.4 .1 3.4" stroke="#ff1c00"/><path d="M613.7 317.5l0 3.4 0 3.3 .1 3.4 0 3.4" stroke="#f10000"/><path d="M613.8 331.0l.1 3.2 0 3.3 .1 3.2 .1 3.3" stroke="#dc0000"/><path d="M614.1 344.0l0 3.2 .1 3.6 .1 3.6 .1 3.6 .3-.7" stroke="#730000"/><path d="M614.7 357.3l.5-.5" stroke="#5e0000"/><path d="M615.2 356.8l.6-1.5 .3-.8 .3-1.1" stroke="#490000"/><path d="M616.4 353.4l.5-3.2 .6-4" stroke="#340000"/><path d="M617.5 346.2l.5-4" stroke="#490000"/><path d="M618.0 342.2l.6-3 .5-1.2 .6 2.4" stroke="#5e0000"/><path d="M619.7 340.4l.6 5.3" stroke="#490000"/><path d="M620.3 345.7l.5 5.2" stroke="#340000"/><path d="M620.8 350.9l.6 2.4" stroke="#200000"/><path d="M621.4 353.3l.5-1.2 .6-2.3" stroke="#340000"/><path d="M622.5 349.8l.5-1.2" stroke="#490000"/><path d="M623.0 348.6l.6 1.2 .6 2.3" stroke="#5e0000"/><path d="M624.2 352.1l.5 1.2 .6-.7 .5-1.4" stroke="#490000"/><path d="M625.8 351.2l.6-1.2 .3-.2 .2 .7" stroke="#340000"/><path d="M626.9 350.5l.6 3.8" stroke="#490000"/><path d="M627.5 354.3l.6 2.5 .3-4.7 .1-3 0-3" stroke="#5e0000"/><path d="M628.5 346.1l0-3.1 0-3 .1-3 0-3.1" stroke="#dc0000"/><path d="M628.6 333.9l0-3 0-3 .1-3.1 0-3 0-3" stroke="#f10000"/><path d="M628.7 318.8l.1-3 0-3.1 0-3 0-3 .1-3.1" stroke="#ff1c00"/><path d="M628.9 303.6l0-3 0-3 .1-3.1 0-3 0-3" stroke="#ff4500"/><path d="M629.0 288.5l0-3 .1-3.1 0-3 0-3" stroke="#ff9900"/><path d="M629.1 276.4l0-3.1 .1-3 0-3 0-3.1 .1-3 0 3.2 0 3.1 .1 3.2 0 3.2 0 3.1" stroke="#ffd800"/><path d="M629.4 277.0l0 3.2 .1 3.2 0 3.1 0 3.2" stroke="#ff9900"/><path d="M629.5 289.7l.1 3.1 0 3.2 0 3.2 .1 3.1 0 3.2" stroke="#ff4500"/><path d="M629.7 305.5l0 3.2 .1 3.2 0 3.1 0 3.2" stroke="#ff1c00"/><path d="M629.8 318.2l.1 3.2 0 3.2 0 3.2 .1 3.2 0 3.3" stroke="#f10000"/><path d="M630.0 334.3l0 3.2 .1 3.3 0 3.2" stroke="#dc0000"/><path d="M630.1 344.0l0 3.3 .1 3.3 0 3.2 .1 3.3 0 3.2 .2-2.3 .3-.6 .6-1" stroke="#340000"/><path d="M631.4 356.4l.6-.8 .5-1.5 .6-2.2" stroke="#490000"/><path d="M633.1 351.9l.5-2.3" stroke="#5e0000"/><path d="M633.6 349.6l.6-2" stroke="#490000"/><path d="M634.2 347.6l.5-1.2 .3-.1 .3 .1 .6 .6 .5 .9" stroke="#340000"/><path d="M636.4 347.9l.6 .6" stroke="#490000"/><path d="M637.0 348.5l.3 .1 .2-.1 .6-.3 .5-.4 .6-.3" stroke="#5e0000"/><path d="M639.2 347.5l.3-.1 .3 0" stroke="#490000"/><path d="M639.8 347.4l.5 0" stroke="#340000"/><path d="M640.3 347.4l.6 0 .5 0" stroke="#490000"/><path d="M641.4 347.4l.6 0 .5 0" stroke="#5e0000"/><path d="M642.5 347.4l.6 0" stroke="#730000"/><path d="M643.1 347.4l.6 0" stroke="#5e0000"/><path d="M643.7 347.4l.5 0" stroke="#490000"/></g><path d="M365.17 373.23v-3.00M365.17 220.74v3.00M376.34 373.23v-1.80M376.34 220.74v1.80M387.51 373.23v-1.80M387.51 220.74v1.80M398.67 373.23v-1.80M398.67 220.74v1.80M409.84 373.23v-1.80M409.84 220.74v1.80M421.01 373.23v-3.00M421.01 220.74v3.00M432.18 373.23v-1.80M432.18 220.74v1.80M443.35 373.23v-1.80M443.35 220.74v1.80M454.51 373.23v-1.80M454.51 220.74v1.80M465.68 373.23v-1.80M465.68 220.74v1.80M476.85 373.23v-3.00M476.85 220.74v3.00M488.02 373.23v-1.80M488.02 220.74v1.80M499.19 373.23v-1.80M499.19 220.74v1.80M510.35 373.23v-1.80M510.35 220.74v1.80M521.52 373.23v-1.80M521.52 220.74v1.80M532.69 373.23v-3.00M532.69 220.74v3.00M543.86 373.23v-1.80M543.86 220.74v1.80M555.03 373.23v-1.80M555.03 220.74v1.80M566.19 373.23v-1.80M566.19 220.74v1.80M577.36 373.23v-1.80M577.36 220.74v1.80M588.53 373.23v-3.00M588.53 220.74v3.00M599.70 373.23v-1.80M599.70 220.74v1.80M610.87 373.23v-1.80M610.87 220.74v1.80M622.03 373.23v-1.80M622.03 220.74v1.80M633.20 373.23v-1.80M633.20 220.74v1.80M644.37 373.23v-3.00M644.37 220.74v3.00M365.17 373.23h1.80M644.37 373.23h-1.80M365.17 367.37h1.80M644.37 367.37h-1.80M365.17 361.50h3.00M644.37 361.50h-3.00M365.17 355.63h1.80M644.37 355.63h-1.80M365.17 349.77h1.80M644.37 349.77h-1.80M365.17 343.91h1.80M644.37 343.91h-1.80M365.17 338.04h3.00M644.37 338.04h-3.00M365.17 332.18h1.80M644.37 332.18h-1.80M365.17 326.31h1.80M644.37 326.31h-1.80M365.17 320.45h1.80M644.37 320.45h-1.80M365.17 314.58h3.00M644.37 314.58h-3.00M365.17 308.72h1.80M644.37 308.72h-1.80M365.17 302.85h1.80M644.37 302.85h-1.80M365.17 296.99h1.80M644.37 296.99h-1.80M365.17 291.12h3.00M644.37 291.12h-3.00M365.17 285.25h1.80M644.37 285.25h-1.80M365.17 279.39h1.80M644.37 279.39h-1.80M365.17 273.52h1.80M644.37 273.52h-1.80M365.17 267.66h3.00M644.37 267.66h-3.00M365.17 261.80h1.80M644.37 261.80h-1.80M365.17 255.93h1.80M644.37 255.93h-1.80M365.17 250.06h1.80M644.37 250.06h-1.80M365.17 244.20h3.00M644.37 244.20h-3.00M365.17 238.34h1.80M644.37 238.34h-1.80M365.17 232.47h1.80M644.37 232.47h-1.80M365.17 226.61h1.80M644.37 226.61h-1.80M365.17 220.74h3.00M644.37 220.74h-3.00" stroke="#222" stroke-width="0.9" fill="none"/><rect x="365.62" y="221.00" width="278.80" height="152.50" fill="none" stroke="#4c4c4c" stroke-width="1.0" stroke-linejoin="round"/><text x="362.17" y="365.60" text-anchor="end" class="tk">0.0</text><text x="362.17" y="342.14" text-anchor="end" class="tk">0.2</text><text x="362.17" y="318.68" text-anchor="end" class="tk">0.4</text><text x="362.17" y="295.22" text-anchor="end" class="tk">0.6</text><text x="362.17" y="271.76" text-anchor="end" class="tk">0.8</text><text x="362.17" y="248.30" text-anchor="end" class="tk"><tspan class="hid">1</tspan>.0</text><polygon points="350.51,241.21 351.34,241.21 351.34,248.30 350.44,248.30 350.44,242.06 348.84,243.21 348.84,242.39" class="tk one"/><text x="362.17" y="224.84" text-anchor="end" class="tk"><tspan class="hid">1</tspan>.2</text><polygon points="350.51,217.75 351.34,217.75 351.34,224.84 350.44,224.84 350.44,218.60 348.84,219.75 348.84,218.93" class="tk one"/><text x="365.17" y="384.23" text-anchor="middle" class="tk">0.0</text><text x="421.01" y="384.23" text-anchor="middle" class="tk">2.0</text><text x="476.85" y="384.23" text-anchor="middle" class="tk">4.0</text><text x="532.69" y="384.23" text-anchor="middle" class="tk">6.0</text><text x="588.53" y="384.23" text-anchor="middle" class="tk">8.0</text><text x="644.37" y="384.23" text-anchor="middle" class="tk"><tspan class="hid">1</tspan>0.0</text><polygon points="637.01,377.14 637.84,377.14 637.84,384.23 636.93,384.23 636.93,377.99 635.34,379.14 635.34,378.32" class="tk one"/><text x="504.77" y="398.33" text-anchor="middle" class="ax">Time / s</text><text transform="translate(341.67 296.69) rotate(-90)" text-anchor="middle" class="ax">Amplitude / a.u.</text><text transform="translate(493.00 424.30) scale(1.115 1)" text-anchor="middle" class="cap">(d) Long-term, AF classification</text><rect x="663.50" y="219.70" width="7.80" height="154.30" fill="url(#hotg)" stroke="#333" stroke-width="0.9"/><text x="673.20" y="222.40" text-anchor="start" class="cb"><tspan class="hid">1</tspan>.0</text><polygon points="675.39,216.55 676.08,216.55 676.08,222.40 675.33,222.40 675.33,217.25 674.02,218.20 674.02,217.52" class="cb one"/><text x="672.80" y="376.60" class="cb">0</text><text transform="translate(684.30 297.70) rotate(-90)" text-anchor="middle" class="cb2">Relevance / a.u.</text><clipPath id="clip02"><rect x="32.55" y="436.94" width="279.90" height="152.49"/></clipPath><rect x="32.55" y="436.94" width="279.90" height="152.49" fill="#dcdcdc"/><path d="M88.53 436.94V589.43M144.51 436.94V589.43M200.49 436.94V589.43M256.47 436.94V589.43M32.55 577.70H312.45M32.55 554.24H312.45M32.55 530.78H312.45M32.55 507.32H312.45M32.55 483.86H312.45M32.55 460.40H312.45" stroke="#b0b0b0" stroke-width="0.8" fill="none"/><g fill="none" stroke-width="1.80" stroke-linejoin="bevel" stroke-linecap="round" clip-path="url(#clip02)"><path d="M33.0 555.4l.6 .6 .5 .3" stroke="#200000"/><path d="M34.1 556.3l.6 .2 .5 .1" stroke="#340000"/><path d="M35.2 556.6l.6 0 .6-1 .5-2.5 .2-3.1 .2-3.1 .2-3.1 .2-3.9 .3-3.8 .6 4.5 .2 3.3 .2 3.4 .1 3.3 .2 3.4 .2 3.4" stroke="#200000"/><path d="M39.5 557.4l.2 3.4" stroke="#340000"/><path d="M39.7 560.8l.3 3.4" stroke="#490000"/><path d="M40.0 564.2l.3 2.7" stroke="#5e0000"/><path d="M40.3 566.9l.2 1.4" stroke="#490000"/><path d="M40.5 568.3l.3-.5" stroke="#340000"/><path d="M40.8 567.8l.6-4.2 .3-3.5 0-3.1 0-3.1 .1-3.1 0-3.1 0-3.1 0-3.1 .1-3 0-3.1 0-3.1 .1-3.1 0-3.1 0-3.1 .1-3.1 0-3.1 0-3.1 .1-3.1 0-3.1 0-3.1 0-3.1 .1-3.1 0-3.1 0-3.1 .1-3 0-3.1 0-3.1 .1-3.1 0-3.1 0-3.7 .1-3.7 0-3.8 0 3.2 .1 3.1 0 3.1 0 3.2 0 3.1 .1 3.1 0 3.1 0 3.2 0 3.1 .1 3.1 0 3.2 0 3.1 0 3.1 .1 3.2 0 3.1 0 3.1 .1 3.1 0 3.1 0 3 0 3 .1 3 0 3.1 0 3 0 3 .1 3 0 3 0 3.1 0 3 .2 3.9" stroke="#200000"/><path d="M43.5 555.8l.1 3.9" stroke="#340000"/><path d="M43.6 559.7l.1 3.1 .1 3.2" stroke="#490000"/><path d="M43.8 566.0l.1 3.1 .2 3.1 .1 3.2" stroke="#5e0000"/><path d="M44.2 575.4l.5-1.1" stroke="#490000"/><path d="M44.7 574.3l.6-2.7 .5-3.1" stroke="#340000"/><path d="M45.8 568.5l.6-2.6 .6-1.1 .5 .4 .6 1 .5 1.3 .6 1.1" stroke="#200000"/><path d="M49.2 568.6l.6 .8 .2 .1" stroke="#340000"/><path d="M50.0 569.5l.3-.8 .6-4.3 .5-4.5 .3-1 .3-.2 .6-.2 .5-.2" stroke="#200000"/><path d="M53.1 558.3l.6-.2 .5-.3" stroke="#490000"/><path d="M54.2 557.8l.6-1.8 .3-1.8 .1-3.3 .1-3.3 .2-3.2 .1-3.1 .1-3.1" stroke="#340000"/><path d="M55.7 538.2l.1-3.1 .1-3.1 .6 4 .1 3.2 .2 3.1 .2 3.1 .2 3.5" stroke="#200000"/><path d="M57.2 548.9l.2 3.5 .2 3.4 .3 3.7 .2 3.6 .3 1.1 .3-.1" stroke="#340000"/><path d="M58.7 564.1l.6-1.3" stroke="#490000"/><path d="M59.3 562.8l.5-2.7" stroke="#340000"/><path d="M59.8 560.1l0-3.1 .1-3.1 0-3.2 0-3.1 .1-3.1 0-3.1 0-3.2 .1-3.1 0-3.1 0-3.1 .1-3.2 0-3.1 0-3.1 0-3.1 .1-3.2 0-3.1 0-3.1 .1-3.1 0-3 0-3.1 .1-3 0-3 0-3 .1-3 0-3 0-3 0-3 .1-3.1 0-3 0-3 .1-3 0-3 0 3 0 3 .1 3 0 3 0 3 0 3 .1 3 0 3 0 3.1 0 3 0 3 .1 3 0 3 0 3 0 3 .1 3 0 3 0 3 0 3 .1 3 0 3 0 3 0 3 0 3.1 .1 3 0 3 0 3 0 3 .1 3 0 3 .1 3.4 .2 3.4 .1 3.5 .1 3.4 .2 3.4 .1 3.4 .3-.7" stroke="#200000"/><path d="M62.6 571.7l.6-1 .5-2" stroke="#340000"/><path d="M63.7 568.7l.6-1.9 .5-.8 .6 .3 .6 .9 .5 1.1" stroke="#200000"/><path d="M66.5 568.3l.6 .8 .5 .4 .6-1.4" stroke="#340000"/><path d="M68.2 568.1l.6-3.2 .5-3.8" stroke="#490000"/><path d="M69.3 561.1l.6-3.2 .5-1.3 .6 0 .5 0 .6 0" stroke="#200000"/><path d="M72.1 556.6l.3 0" stroke="#340000"/><path d="M72.4 556.6l.3-1.1" stroke="#490000"/><path d="M72.7 555.5l.2-2.4" stroke="#5e0000"/><path d="M72.9 553.1l.2-3.5 .1-3.5" stroke="#490000"/><path d="M73.2 546.1l.1-3.1 .1-3" stroke="#340000"/><path d="M73.4 540.0l.2-3.1 .1-3.1 .1-3 .5 4.3 .2 3.3 .2 3.3 .2 3.3 .2 3.6 .2 3.7 .2 3.7 .2 3.8 .3 3.8 .3 1.2 .3-.1" stroke="#200000"/><path d="M76.6 564.7l.5-1.2" stroke="#340000"/><path d="M77.1 563.5l.6-3 .1-.4" stroke="#200000"/><path d="M77.8 560.1l.1-3.1 0-3.1 0-3.1 .1-3.1 0-3.1 0-3.1 .1-3.1 0-3.1 0-3.1 0-3.1 .1-3.1 0-3.1 0-3.1 .1-3.2 0-3.1 0-3.2 .1-3.2 0-3.1 0-3.2 .1-3.1 0-3.2 0-3.2 .1-3.1 0-3.2 0-3.2 .1-3.1 0-3.2 0-3.1 .1-3.2" stroke="#340000"/><path d="M78.8 469.2l0-3.2 0 3.2 .1 3.1 0 3.1 0 3.1 0 3.1 .1 3.2 0 3.1 0 3.1 0 3.1 .1 3.2 0 3.1 0 3.1 0 3.1 .1 3.1 0 3.2 0 3.1 0 3.1 .1 3.1 0 3.2 0 3.1 0 3.1 .1 3.1 0 3.5 0 3.4 0 3.4 .1 3.5 0 3.4 .1 3.7 .2 3.7 .1 3.6 .2 3.7 .1 3.7 .3-.6 .5-.6 .6-1.7" stroke="#200000"/><path d="M81.6 567.4l.6-1.8" stroke="#490000"/><path d="M82.2 565.6l.5-1.4" stroke="#5e0000"/><path d="M82.7 564.2l.6-.6" stroke="#340000"/><path d="M83.3 563.6l.5 .3 .6 .6 .5 .6 .6 .3 .6-2" stroke="#200000"/><path d="M86.1 563.4l.5-4.2 .6-3.8 .3-.9 .2-.4 .6-.6" stroke="#340000"/><path d="M88.3 553.5l.6-.4 .5-.3 .6-.5 .3-.4 .2-.5 .6-1.9 .2-3.4" stroke="#200000"/><path d="M91.3 546.1l.2-3.4" stroke="#340000"/><path d="M91.5 542.7l.2-3.5 .1-3" stroke="#490000"/><path d="M91.8 536.2l.2-3" stroke="#5e0000"/><path d="M92.0 533.2l.2-3 .3 3.6" stroke="#ffae00"/><path d="M92.5 533.8l.3 3.6 .1 3.6 .1 3.7 .2 3.7 .1 3.7 .2 3.1 .1 3 .1 3.1 .2 3 .3 2 .2-.1 .6-1.1" stroke="#200000"/><path d="M95.0 565.1l.6-2.4" stroke="#340000"/><path d="M95.6 562.7l.4-2.6" stroke="#490000"/><path d="M96.0 560.1l0-4" stroke="#5e0000"/><path d="M96.0 556.1l.1-4 0-4 .1-3.1 0-3.2 0-3.2 .1-3.2 0-3.2 0-3.2 .1-3.2 0-3.2" stroke="#490000"/><path d="M96.4 522.6l.1-3.2 0-3.1 0-3.2 .1-3.2 0-3.2 0-3.2 .1-3.2 0-3.3 .1-3.3 0-3.3 0-3.2 .1-3.3 0-3.3 0-3.3 .1-3.3 0 3.1 .1 3.1 0 3.1" stroke="#340000"/><path d="M97.1 483.3l0 3.2 0 3.1 .1 3.1 0 3.1 0 3.1 .1 3.1 0 3.1 0 3 .1 3.1 0 3.1 0 3.1 .1 3 0 3.1 0 3.1 0 3 .1 3.1 0 3.1 0 3.1 .1 3" stroke="#490000"/><path d="M97.7 541.9l0 3.1 0 3.1 .1 3.1 0 3 .1 3.6" stroke="#340000"/><path d="M97.9 557.8l.2 3.5 .1 3.6 .2 3.5 .1 3.5 .1 3.6 .3-.3 .6-1.9 .5-2.9 .6-3.2" stroke="#200000"/><path d="M100.6 567.2l.5-2.5 .6-1.1 .6 1.7" stroke="#340000"/><path d="M102.3 565.3l.5 3.3 .6 2.8 .3 .4 .2-.6 .6-3.6 .6-4.7" stroke="#200000"/><path d="M105.1 562.9l.5-2.8 .6-.7 .5-.4 .6-.4" stroke="#340000"/><path d="M107.3 558.6l.6-.5 .2-.3 .3-.5 .6-1.7" stroke="#200000"/><path d="M109.0 555.6l.2-1.4 .2-3.4 .1-3.4 .1-3.3 .2-3.3" stroke="#340000"/><path d="M109.8 540.8l.1-3.4 .1-3.3" stroke="#200000"/><path d="M110.0 534.1l.1-3.3 .2 3.2" stroke="#ffff43"/><path d="M110.3 534.0l.2 3.1" stroke="#340000"/><path d="M110.5 537.1l.1 3.2" stroke="#490000"/><path d="M110.6 540.3l.2 3.6 .1 3.5" stroke="#5e0000"/><path d="M110.9 547.4l.1 3.6" stroke="#730000"/><path d="M111.0 551.0l.1 3.5" stroke="#5e0000"/><path d="M111.1 554.5l.1 3.6 .2 3.1 .2 3.2 .2 3.2" stroke="#ffd800"/><path d="M111.8 567.6l.5-.5" stroke="#ff0700"/><path d="M112.3 567.1l.6-1.8 .5-3.1 .3-2.1 .1-3.2 0-3.2 0-3.2 .1-3.2 0-3.2 0-3.2 .1-3.2 0-3.2 0-3 .1-3 0-3 0-3 .1-3.1 0-3 0-3 .1-3 0-3 0-3 .1-3 0-3 0-3.1 .1-3 0-3 0-3 .1-3" stroke="#200000"/><path d="M114.6 483.3l0-3.2 0-3.2 .1-3.2 0-3.2 0 3.2 .1 3.2 0 3.3 0 3.2 .1 3.2 0 3.2 0 3.2 .1 3.3 0 3.2 0 3.2 0 3.2 .1 3.2 0 3.3 0 3.2 .1 3.2 0 3.2 0 3.2 .1 3.3 0 3.2 0 3.2 .1 3.2 0 3.3 0 3.2 .1 3.2 0 3.2" stroke="#340000"/><path d="M115.5 551.0l0 3.2 .2 2.7 .2 3.6 .1 3.6 .2 3.5 .3 5.4 .3-.3 .5-1.7 .6-2.4 .3-1 .3-.9 .5-2.2 .6-2.1" stroke="#200000"/><path d="M119.6 562.4l.5-1.6" stroke="#340000"/><path d="M120.1 560.8l.6-.7" stroke="#5e0000"/><path d="M120.7 560.1l.3 3.1" stroke="#490000"/><path d="M121.0 563.2l.3 3.1" stroke="#340000"/><path d="M121.3 566.3l.1 3.2 .2 3.2 .2 3.2 .3 1.8 .1-3.8 .2-3.8 .1-3.1 0-3.1 .1-3.1 .1-3.1 .1-3.1 .1-3.1 0-3.1 .6 .6" stroke="#200000"/><path d="M123.5 549.0l.6 1.1" stroke="#340000"/><path d="M124.1 550.1l.5 .6 .6-2.8" stroke="#490000"/><path d="M125.2 547.9l.2-3" stroke="#340000"/><path d="M125.4 544.9l.1-3.4 0-3.4 .1-3.3 0-3.4 .1-3.3 0-3.4 .1-3.1 0-3.1" stroke="#200000"/><path d="M125.8 518.5l.1-3.1 0-3.1 0-3.1 .1-3.1 0-3.1 .1-3.1 0-3.1 .1-3.1 0-3.1 0-3.1" stroke="#340000"/><path d="M126.2 487.5l.1-3.1 0-4 .1-4 .1 3.3 0 3.3 .1 3.2 .1 3.3 0 3.3 .1 3.3 0 3.3 .1 3.3 .1 3.2 0 3.2 .1 3.2 .1 3.2 0 3.2 .1 3.2 0 3.2 .1 3.2 .1 3.2 0 3.2 .1 3.2 .1 3.2 0 3.2 .1 3.3 0 3.2 .1 3.2 .1 3.2 .5 2.2 .6 1.8 .5 1.5" stroke="#200000"/><path d="M129.6 562.7l.6 1.1 .6 .9" stroke="#340000"/><path d="M130.8 564.7l.5 .7 .6 .4 .5 .1 .3 .1 .3-.2 .5-1.5" stroke="#200000"/><path d="M133.5 564.3l.6-2.4 .6-2.5" stroke="#490000"/><path d="M134.7 559.4l.5-2 .6-.8" stroke="#340000"/><path d="M135.8 556.6l.5 .1 .6 .3 .6 .5" stroke="#200000"/><path d="M137.5 557.5l.5 .4 .6 .3 .5 .1 .6 0 .6-.2" stroke="#340000"/><path d="M140.3 558.1l.5-.1 .6-.2 .5 0 .6 0 .5 0" stroke="#200000"/><path d="M143.0 557.8l.6 0 .6 0" stroke="#340000"/><path d="M144.2 557.8l.2 0 .3-1.1 .3-2.5 .1-3.2 .2-3.2 .1-3.5 .2-3.4 .1-3.5 .1-3.5 .3 3.2 .3 3.2 .1 3.3 .2 3.2 .1 3.3 .2 3.3 .1 3.6" stroke="#200000"/><path d="M147.1 557.0l.2 3.6 .2 3.6" stroke="#340000"/><path d="M147.5 564.2l.3 1.8" stroke="#490000"/><path d="M147.8 566.0l.3-.1 .5-.9" stroke="#340000"/><path d="M148.6 565.0l.6-1.9 .5-3" stroke="#490000"/><path d="M149.7 560.1l.1-3.1" stroke="#340000"/><path d="M149.8 557.0l0-3.1 0-3.1 .1-3 0-3.1 0-3.1 .1-3.1 0-3.1 0-3.1 0-3.1 .1-3.1 0-3 0-3.1 .1-3.1 0-3.1 0-3.1 0-3.1 .1-3.1 0-3 0-3.2 .1-3.2 0-3.1 0-3.2 .1-3.1 0-3.2 0-3.2 0-3.1 .1-3.2 0-3.1 0-3.2 .1-3.1 0-3.2 0 3 .1 3.1 0 3 0 3 0 3 .1 3.1 0 3 0 3 0 3 .1 3.1 0 3 0 3 .1 3.1 0 3 0 3 0 3 .1 3.1 0 3 0 3 .1 3 0 3.1 0 3 0 3 .1 3.1 0 3 0 3 .1 3 0 3.1 0 3 0 3 .1 3 .1 3.1 .1 3.1 .1 3 .1 3.1 .1 4.1 .2 4.1 .2-1" stroke="#200000"/><path d="M152.5 573.7l.6-4.7" stroke="#340000"/><path d="M153.1 569.0l.3-1.4" stroke="#490000"/><path d="M153.4 567.6l.3-.5" stroke="#340000"/><path d="M153.7 567.1l.5-.9 .6-.6 .5-.2 .6 .4 .6 1 .5 1.2" stroke="#200000"/><path d="M157.0 568.0l.6 1.1 .5 .4 .6-1.5 .5-3.3" stroke="#340000"/><path d="M159.2 564.7l.6-3.9 .6-3 .2-.6 .3-.3 .6-.3 .5-.3" stroke="#200000"/><path d="M162.0 556.3l.6-.3" stroke="#490000"/><path d="M162.6 556.0l.3-.2" stroke="#730000"/><path d="M162.9 555.8l.3-.4" stroke="#5e0000"/><path d="M163.2 555.4l.5-1.2" stroke="#340000"/><path d="M163.7 554.2l.3-1.1 .1-3.2 .2-3.2 .1-3.2 .1-3.2 .1-3.1 .1-3.2 .1-3.2 .3 4.1 .3 4.2 .1 3.1 .1 3 .1 3.1 .1 3.1 .1 3.1 .3 4.2" stroke="#200000"/><path d="M166.2 558.7l.3 4.1 .6-.6" stroke="#340000"/><path d="M167.1 562.2l.5-1.9 .3-1.4" stroke="#200000"/><path d="M167.9 558.9l0-3.1 .1-3.1 0-3.1 0-3.2 .1-3.1 0-3.1 0-3.1 .1-3.2 0-3.1 .1-3.1 0-3.1 0-3.2 .1-3.1 0-3.1 0-3.1 .1-3.2 0-3.1 0-3.1 .1-3.1" stroke="#340000"/><path d="M168.6 499.6l0-3.1 0-3.2 .1-3.1 0-3.1 0-3.1 .1-3.8 0-3.7 .1-3.8 0-3.7 0 3.1 .1 3.2 0 3.2 0 3.1 .1 3.2 0 3.2 0 3.1 0 3.2 .1 3.2 0 3.1 0 3.2 .1 3.2 0 3.1 0 3.2 .1 3.1 0 3.2 0 3.1 0 3.2 .1 3.1 0 3.2 0 3.1 .1 3.2 0 3.1 0 3.2 .1 3.1 0 3.2 0 3.1 .2 2.5 .1 3.2 .2 3.2 .2 3.2 .3 4.8 .3-.2 .5-1.6" stroke="#200000"/><path d="M171.5 569.3l.6-2.4 .5-2.7" stroke="#490000"/><path d="M172.6 564.2l.6-2.1" stroke="#340000"/><path d="M173.2 562.1l.6-.8 .5 1 .6 2 .5 1.1" stroke="#200000"/><path d="M175.4 565.4l.6-1" stroke="#340000"/><path d="M176.0 564.4l.6-2.3" stroke="#490000"/><path d="M176.6 562.1l.5-2.9 .6-2.7 .5-1.8" stroke="#340000"/><path d="M178.2 554.7l.3-.2 .3 0 .6 .1 .5 .3 .6 .2 .5 .2" stroke="#200000"/><path d="M181.0 555.3l.6 .1 .5-.9" stroke="#340000"/><path d="M182.1 554.5l.6-2.6 .1-3 .1-3.1 .1-3 .1-3 .1-3.1 .1-3 .2-5.9 .3 2.7 .1 3 .1 3.1 .2 3 .1 3.1 .1 3 .1 3.1 .1 3 .1 3.1 .1 3 .1 3.1 .3 2.6" stroke="#200000"/><path d="M185.2 563.6l.3-.1" stroke="#340000"/><path d="M185.5 563.5l.6-1" stroke="#490000"/><path d="M186.1 562.5l.5-2.1 .3-1.5 0-3.1 .1-3.1 0-3.1 0-3.2 .1-3.1 0-3.1" stroke="#340000"/><path d="M187.1 540.2l0-3.1 .1-3.2 0-3.1 0-3.1 .1-3.1 0-3.2 0-3.1 .1-3.1 0-3.1 .1-3.2 0-3.1 0-3.1 .1-3.1 0-3.1 0-3.2" stroke="#490000"/><path d="M187.6 493.3l.1-3.1 0-3.1 0-3.1 .1-3.8 0-3.7 .1-3.8 0-3.7" stroke="#340000"/><path d="M187.9 469.0l0 3.1 .1 3.2 0 3.2 0 3.1 .1 3.2 0 3.2 0 3.1 0 3.2 .1 3.2 0 3.1 0 3.2 .1 3.2 0 3.1 0 3.2 .1 3.1 0 3.2 0 3.1 0 3.2 .1 3.1 0 3.2 0 3.1 .1 3.2 0 3.1 0 3.2 0 3.1 .1 3.2 0 3.1 .1 2.7 .2 3.4 .2 3.5 .2 3.5" stroke="#200000"/><path d="M189.4 567.3l.3 5.2 .3-.1" stroke="#340000"/><path d="M190.0 572.4l.5-.8" stroke="#200000"/><path d="M190.5 571.6l.6-1.2" stroke="#340000"/><path d="M191.1 570.4l.5-1.3" stroke="#490000"/><path d="M191.6 569.1l.6-1.1" stroke="#340000"/><path d="M192.2 568.0l.6-.4 .5 .3 .6 .5 .5 .4 .3 .1 .3-.3" stroke="#200000"/><path d="M195.0 568.6l.6-1.9 .5-3" stroke="#340000"/><path d="M196.1 563.7l.6-3.1 .5-2.2 .3-.4 .3-.1 .5-.2 .6-.1 .6-.2" stroke="#200000"/><path d="M199.5 557.4l.5-.2" stroke="#340000"/><path d="M200.0 557.2l.6-1.3" stroke="#490000"/><path d="M200.6 555.9l.5-2.8 .2-3.1" stroke="#5e0000"/><path d="M201.3 550.0l.1-3.1" stroke="#490000"/><path d="M201.4 546.9l.2-3.1" stroke="#340000"/><path d="M201.6 543.8l.1-3 .2-3.6 .2-3.5 .2-3.5 .2 4.2 .3 4.2 .1 3.2 .1 3.1 .1 3.2 .2 3.1 .1 3.1 .3 4.3 .2 4.2 .6-.3" stroke="#200000"/><path d="M204.5 562.5l.5-1.1" stroke="#490000"/><path d="M205.0 561.4l.6-2.2" stroke="#340000"/><path d="M205.6 559.2l.1-.3 .1-3.2 0-3.2 0-3.2 .1-3.2 0-3.2 0-3.2 .1-3.2 0-3.2 0-3.2 .1-3.3 0-3.2 0-3.2 .1-3.2 0-3.1 0-3.1 .1-3.1 0-3.1 0-3.1 .1-3.1 0-3.1 0-3.1 0-3.1 .1-3.2 0-3.1 0-3.1 .1-3.1 0-3.1 0-3.1 .1-3.1 0-3.1 0 2.9 .1 3 0 3.1 0 3 0 3.1 .1 3 0 3.1 0 3 .1 3.1 0 3 0 3.1 0 3 .1 3.1 0 3 0 3.1 .1 3.1 0 3 0 3.1 .1 3 0 3.1 0 3.2 0 3.2 .1 3.2 0 3.2 0 3.3 .1 3.2 0 3.2 0 3.2 .1 3.2 .2 3.9 .3 3.9 .3 3.9 .3 3.9 .3-.1 .5-.8" stroke="#200000"/><path d="M209.5 568.9l.6-1.3" stroke="#340000"/><path d="M210.1 567.6l.5-1.3" stroke="#490000"/><path d="M210.6 566.3l.6-.8" stroke="#340000"/><path d="M211.2 565.5l.3-.1 .3 .1 .5 .8 .6 .9 .5 .4" stroke="#200000"/><path d="M213.4 567.6l.6-1" stroke="#340000"/><path d="M214.0 566.6l.5-2.5" stroke="#5e0000"/><path d="M214.5 564.1l.6-2.9" stroke="#490000"/><path d="M215.1 561.2l.6-2.4 .5-1" stroke="#340000"/><path d="M216.2 557.8l.6 0 .5 0 .6 0 .6 0 .5 0" stroke="#200000"/><path d="M219.0 557.8l.6 0 .5-1 .6-2.6" stroke="#340000"/><path d="M220.7 554.2l.1-3.4 .1-3.5 .1-3.4 .1-3.5 .1-3.5 .3-5.5 .3 1.8 .2 3.8 .2 3.8 .2 3.7 .1 3.4 .1 3.4 .2 3.5 .1 3.4 .3 3.3 .3 3.3" stroke="#200000"/><path d="M223.5 564.8l.5-.9" stroke="#340000"/><path d="M224.0 563.9l.6-3.3" stroke="#490000"/><path d="M224.6 560.6l.1-.5" stroke="#340000"/><path d="M224.7 560.1l.1-3.2 0-3.2 0-3.2 .1-3.2 0-3.3 0-3.2 .1-3.2 0-3.2 0-3.2 .1-3.2 0-3.2 0-3.2 .1-3.3 0-3.1 0-3.1 .1-3.1 0-3.1 0-3.1 0-3.1 .1-3.1 0-3.2" stroke="#200000"/><path d="M225.4 493.4l0-3.1 .1-3.1 0-3.1 0-3.1 .1-3.1 0-3.1 0-3.1 .1-3.1 0-3.2 0 2.9 0 3 .1 3 0 3.1 0 3 .1 3" stroke="#340000"/><path d="M225.9 483.4l0 3 0 3 .1 3 0 3 0 3.1 0 3 .1 3 0 3 0 3 .1 3 0 3.1 0 3 0 3 .1 3 0 3.2 0 3.2 .1 3.1 0 3.2 0 3.2 .1 3.2 0 3.2 0 3.2 .1 3.1 .2 4.8 .2 3.2 .2 3.2 .2 3.2" stroke="#200000"/><path d="M227.4 568.6l.3 4.8 .3-.2 .5-1.2 .6-1.8" stroke="#340000"/><path d="M229.1 570.2l.5-2 .6-1.6" stroke="#490000"/><path d="M230.2 566.6l.5-.6 .6 .6 .6 1.1 .5 1 .3 .2 .3-.3" stroke="#200000"/><path d="M233.0 568.6l.5-2 .6-3" stroke="#340000"/><path d="M234.1 563.6l.6-3 .5-2 .3-.3 .3 .1 .5 .1 .6 .1 .5 .2" stroke="#200000"/><path d="M237.4 558.8l.6 .1 .6 0" stroke="#340000"/><path d="M238.6 558.9l.5-1.2 .6-3.5" stroke="#490000"/><path d="M239.7 554.2l.1-3.1 .1-3.1 .1-3.1 .1-3.1 0-3.2 .1-3.1 .3-5.9 .3 1.9 .2 3.9 .2 3.9 .2 3.9 .1 3.6 .1 3.5 .2 3.5 .1 3.6 .3 3.4 .3 3.4" stroke="#200000"/><path d="M242.5 564.2l.5-.6 .6-2.1" stroke="#490000"/><path d="M243.6 561.5l.4-2.6" stroke="#340000"/><path d="M244.0 558.9l0-3.7 .1-3.7 0-3.7 .1-3.7 0-3.2 0-3.1 0-3.1 .1-3.1 0-3.2 0-3.1 .1-3.1 0-3.2 0-3.1 0-3.1 .1-3.2 0-3.1 0-3.1 .1-3.1 0-3.2 0-3.1 .1-3.1 0-3.2 0-3.1 0-3.5 .1-3.4 0-3.5 0-3.5 .1-3.4 0-3.5 0 3.2 .1 3.3 0 3.2 0 3.3 .1 3.2 0 3.2 0 3.3 .1 3.2 0 3.3 0 3.2 .1 3.2 0 3.1 0 3 .1 3.1 0 3 0 3.1 .1 3 0 3 0 3.1 0 3 .1 3.1 0 3 0 3.1 .1 3 0 3.1 0 3 .1 3 0 3.1 0 3 .3 4.1 .3 4 .3 4 .2 4" stroke="#200000"/><path d="M246.9 570.3l.6-1.3" stroke="#340000"/><path d="M247.5 569.0l.6-2.7" stroke="#200000"/><path d="M248.1 566.3l.5-2.3 .3-.4" stroke="#340000"/><path d="M248.9 563.6l.3 .1 .5 .6 .6 .8 .6 1 .5 .7 .6 .3" stroke="#200000"/><path d="M252.0 567.1l.5-1.2" stroke="#490000"/><path d="M252.5 565.9l.6-2.9" stroke="#5e0000"/><path d="M253.1 563.0l.5-3.5" stroke="#340000"/><path d="M253.6 559.5l.6-2.9 .6-1.2 .5 0 .6 0" stroke="#200000"/><path d="M255.9 555.4l.5 0" stroke="#340000"/><path d="M256.4 555.4l.6 0" stroke="#490000"/><path d="M257.0 555.4l.6-.9 .5-2.6 .1-3.5 .1-3.5 .2-3.5 .1-3.6" stroke="#340000"/><path d="M258.6 537.8l.1-3.5 .3-5.6 .2 1.5 .2 3.2 .2 3.1 .2 3.2 .1 3.2 .2 3.2 .1 3.3 .2 3.2 .1 3.1 .2 3.2 .2 3.2 .3 1.5 .3-.2" stroke="#200000"/><path d="M261.5 563.4l.5-1.8" stroke="#340000"/><path d="M262.0 561.6l.4-2.7 .1-3.5" stroke="#490000"/><path d="M262.5 555.4l0-3.5 0-3.6 .1-3.5 0-3.2 0-3.1 .1-3.2 0-3.1 0-3.1" stroke="#340000"/><path d="M262.7 529.1l.1-3.2 0-3.1 0-3.2 .1-3.1 0-3.2 0-3.1 .1-3.2 0-3.1 0-3.1 .1-3.2 0-3.1 0-3.2 0-3.1 .1-3.4 0-3.4 0-3.4 .1-3.4 0-3.4 0 3.1 .1 3.1 0 3.1 .1 3.1 0 3.1 0 3.1 .1 3.2 0 3.1 0 3.1 .1 3.1 0 3.1 0 3 .1 3.1 0 3 0 3.1 .1 3.1 0 3 0 3.1 .1 3 0 3.1 .1 3 0 3.1 0 3 .1 3.1 0 3 0 3.1 .1 3 .2 3.3 .3 3.3 .2 3 .2 3.1 .2 3 .3 .8" stroke="#200000"/><path d="M265.7 570.7l.2 0" stroke="#340000"/><path d="M265.9 570.7l.6-.1 .6 0 .5 0" stroke="#490000"/><path d="M267.6 570.6l.6-.1" stroke="#340000"/><path d="M268.2 570.5l.5-.1 .6-.1 .5-.1 .6-.1 .6-2" stroke="#200000"/><path d="M271.0 568.1l.5-4.1" stroke="#340000"/><path d="M271.5 564.0l.6-4.1" stroke="#490000"/><path d="M272.1 559.9l.5-1.9" stroke="#340000"/><path d="M272.6 558.0l.6-.1 .6 0 .5 0 .6 0 .5-.1" stroke="#200000"/><path d="M275.4 557.8l.3 0 .3-.5 .5-3.1" stroke="#340000"/><path d="M276.5 554.2l.1-3.1 .1-3.1 .1-3.1" stroke="#200000"/><path d="M276.8 544.9l.1-3.1 .1-3.1 .1-3.2 .3-5.9 .3 1.2" stroke="#340000"/><path d="M277.7 530.8l.2 3.9 .3 3.9 .2 3.7 .2 3.7 .2 3.8 .2 3.3 .2 3.4 .1 3.3" stroke="#200000"/><path d="M279.3 559.8l.6 4.4 .6-.6" stroke="#340000"/><path d="M280.5 563.6l.5-2.1" stroke="#490000"/><path d="M281.0 561.5l.4-2.6 .1-3 0-3 0-3 0-3 .1-3 0-3.1 0-3" stroke="#5e0000"/><path d="M281.6 537.8l.1-3 0-3 0-3 0-3 .1-3.1" stroke="#490000"/><path d="M281.8 522.7l0-3 0-3 .1-3 0-3 0-3 0-3.1 .1-3 0-3" stroke="#340000"/><path d="M282.0 498.6l0-3 .1-3 0-3 0-3 0-3.1 .1-3 0-3 0-3 0-3 .1-3 0-3.1 0 3.1 .1 3.1 0 3 0 3.1 0 3.1 .1 3 0 3.1 0 3 .1 3.1 0 3.1 0 3 0 3.1 .1 3 0 3.1 0 3.1 .1 3 0 3.1 0 3.1 0 3 .1 3.1 0 3 0 3.1 0 3.1 .1 3 0 3.1 0 3.1 .1 3 0 3.1 0 3 .2 3 .1 3.9 .2 3.9 .2 3.9 .6-.6 .5-1.5" stroke="#200000"/><path d="M284.9 566.8l.6-1.7 .5-1.5" stroke="#340000"/><path d="M286.0 563.6l.6-.6 .6 .4 .5 .9 .6 .9 .5 .7 .3 .1 .3-.5 .6-2.7" stroke="#200000"/><path d="M290.0 562.8l.5-3.8" stroke="#340000"/><path d="M290.5 559.0l.6-3 .3-.6" stroke="#490000"/><path d="M291.4 555.4l.2-.2" stroke="#340000"/><path d="M291.6 555.2l.6-.2 .5-.2 .6-.1 .6-.3 .2-.2" stroke="#200000"/><path d="M294.1 554.2l.3-.3" stroke="#340000"/><path d="M294.4 553.9l.6-1.1" stroke="#5e0000"/><path d="M295.0 552.8l.5-2.1" stroke="#490000"/><path d="M295.5 550.7l.2-3.8 .2-3.8 .2-3.9 .2-3.4 .2-3.4 .2-3.4" stroke="#340000"/><path d="M296.7 529.0l.2 3.5 .3 3.4 .2 3.5 .1 3.5 .1 3.6 .2 3.5 .2 3.9 .1 3.9 .2 3.9 .3 1.9 .3-.1 .6-1.2 .5-2.9" stroke="#200000"/><path d="M300.0 559.4l.2-.5 0-3 0-3.1 0-3 .1-3" stroke="#340000"/><path d="M300.3 546.8l0-3.1 0-3 .1-3.1 0-3 0-3 0-3.1 .1-3" stroke="#490000"/><path d="M300.5 525.5l0-3.1 0-3 .1-3.1 0-3.1 0-3.2 .1-3.2 0-3.2 0-3.1 .1-3.2 0-3.2 0-3.1" stroke="#340000"/><path d="M300.8 491.0l.1-3.2 0-3.2 0-3.2 0-3.1 .1-3.2 0-3.2 0-3.2 .1-3.1 0-3.2 0 3 .1 3.1 0 3.1 0 3.1 0 3.1 .1 3.2 0 3.1 0 3.1 .1 3.1 0 3.1 0 3.1 .1 3.2 0 3.1 0 3.1 0 3.1 .1 3.1 0 3.2 0 3.1 .1 3.1 0 3.1 0 3.3 0 3.3 .1 3.3 0 3.3 0 3.3 .1 3.3 0 3.3 0 3.2 .1 3.3 .2 4.4 .3 4.3 .3 4.4 .3 4.3 .3-.2 .5-1.2" stroke="#200000"/><path d="M303.9 570.2l.6-1.9 .5-2.2" stroke="#490000"/><path d="M305.0 566.1l.6-1.8 .3-.7 .3-.5" stroke="#340000"/><path d="M306.2 563.1l.5-.8 .6-.8 .5-.6" stroke="#200000"/><path d="M307.8 560.9l.6-.8 .5-.8 .6-.7" stroke="#340000"/><path d="M309.5 558.6l.6-.8" stroke="#490000"/><path d="M310.1 557.8l.5-.7" stroke="#340000"/><path d="M310.6 557.1l.6-.9 .5-.9 .3-.5 .3-.6" stroke="#200000"/></g><path d="M32.55 589.43v-3.00M32.55 436.94v3.00M43.75 589.43v-1.80M43.75 436.94v1.80M54.94 589.43v-1.80M54.94 436.94v1.80M66.14 589.43v-1.80M66.14 436.94v1.80M77.33 589.43v-1.80M77.33 436.94v1.80M88.53 589.43v-3.00M88.53 436.94v3.00M99.73 589.43v-1.80M99.73 436.94v1.80M110.92 589.43v-1.80M110.92 436.94v1.80M122.12 589.43v-1.80M122.12 436.94v1.80M133.31 589.43v-1.80M133.31 436.94v1.80M144.51 589.43v-3.00M144.51 436.94v3.00M155.71 589.43v-1.80M155.71 436.94v1.80M166.90 589.43v-1.80M166.90 436.94v1.80M178.10 589.43v-1.80M178.10 436.94v1.80M189.29 589.43v-1.80M189.29 436.94v1.80M200.49 589.43v-3.00M200.49 436.94v3.00M211.69 589.43v-1.80M211.69 436.94v1.80M222.88 589.43v-1.80M222.88 436.94v1.80M234.08 589.43v-1.80M234.08 436.94v1.80M245.27 589.43v-1.80M245.27 436.94v1.80M256.47 589.43v-3.00M256.47 436.94v3.00M267.67 589.43v-1.80M267.67 436.94v1.80M278.86 589.43v-1.80M278.86 436.94v1.80M290.06 589.43v-1.80M290.06 436.94v1.80M301.25 589.43v-1.80M301.25 436.94v1.80M312.45 589.43v-3.00M312.45 436.94v3.00M32.55 589.43h1.80M312.45 589.43h-1.80M32.55 583.57h1.80M312.45 583.57h-1.80M32.55 577.70h3.00M312.45 577.70h-3.00M32.55 571.84h1.80M312.45 571.84h-1.80M32.55 565.97h1.80M312.45 565.97h-1.80M32.55 560.11h1.80M312.45 560.11h-1.80M32.55 554.24h3.00M312.45 554.24h-3.00M32.55 548.38h1.80M312.45 548.38h-1.80M32.55 542.51h1.80M312.45 542.51h-1.80M32.55 536.65h1.80M312.45 536.65h-1.80M32.55 530.78h3.00M312.45 530.78h-3.00M32.55 524.92h1.80M312.45 524.92h-1.80M32.55 519.05h1.80M312.45 519.05h-1.80M32.55 513.19h1.80M312.45 513.19h-1.80M32.55 507.32h3.00M312.45 507.32h-3.00M32.55 501.46h1.80M312.45 501.46h-1.80M32.55 495.59h1.80M312.45 495.59h-1.80M32.55 489.73h1.80M312.45 489.73h-1.80M32.55 483.86h3.00M312.45 483.86h-3.00M32.55 478.00h1.80M312.45 478.00h-1.80M32.55 472.13h1.80M312.45 472.13h-1.80M32.55 466.27h1.80M312.45 466.27h-1.80M32.55 460.40h3.00M312.45 460.40h-3.00M32.55 454.54h1.80M312.45 454.54h-1.80M32.55 448.67h1.80M312.45 448.67h-1.80M32.55 442.81h1.80M312.45 442.81h-1.80M32.55 436.94h3.00M312.45 436.94h-3.00" stroke="#222" stroke-width="0.9" fill="none"/><rect x="33.00" y="437.20" width="279.50" height="152.50" fill="none" stroke="#4c4c4c" stroke-width="1.0" stroke-linejoin="round"/><text x="29.55" y="581.80" text-anchor="end" class="tk">0.0</text><text x="29.55" y="558.34" text-anchor="end" class="tk">0.2</text><text x="29.55" y="534.88" text-anchor="end" class="tk">0.4</text><text x="29.55" y="511.42" text-anchor="end" class="tk">0.6</text><text x="29.55" y="487.96" text-anchor="end" class="tk">0.8</text><text x="29.55" y="464.50" text-anchor="end" class="tk"><tspan class="hid">1</tspan>.0</text><polygon points="17.89,457.41 18.72,457.41 18.72,464.50 17.82,464.50 17.82,458.26 16.22,459.41 16.22,458.59" class="tk one"/><text x="29.55" y="441.04" text-anchor="end" class="tk"><tspan class="hid">1</tspan>.2</text><polygon points="17.89,433.95 18.72,433.95 18.72,441.04 17.82,441.04 17.82,434.80 16.22,435.95 16.22,435.13" class="tk one"/><text x="32.55" y="600.43" text-anchor="middle" class="tk">0.0</text><text x="88.53" y="600.43" text-anchor="middle" class="tk">2.0</text><text x="144.51" y="600.43" text-anchor="middle" class="tk">4.0</text><text x="200.49" y="600.43" text-anchor="middle" class="tk">6.0</text><text x="256.47" y="600.43" text-anchor="middle" class="tk">8.0</text><text x="312.45" y="600.43" text-anchor="middle" class="tk"><tspan class="hid">1</tspan>0.0</text><polygon points="305.09,593.34 305.92,593.34 305.92,600.43 305.01,600.43 305.01,594.19 303.42,595.34 303.42,594.52" class="tk one"/><text x="172.50" y="614.53" text-anchor="middle" class="ax">Time / s</text><text transform="translate(9.05 512.89) rotate(-90)" text-anchor="middle" class="ax">Amplitude / a.u.</text><text transform="translate(160.70 640.50) scale(1.115 1)" text-anchor="middle" class="cap">(e) Short-term, non-AF classification</text><clipPath id="clip12"><rect x="365.17" y="436.94" width="279.20" height="152.49"/></clipPath><rect x="365.17" y="436.94" width="279.20" height="152.49" fill="#dcdcdc"/><path d="M421.01 436.94V589.43M476.85 436.94V589.43M532.69 436.94V589.43M588.53 436.94V589.43M365.17 577.70H644.37M365.17 554.24H644.37M365.17 530.78H644.37M365.17 507.32H644.37M365.17 483.86H644.37M365.17 460.40H644.37" stroke="#b0b0b0" stroke-width="0.8" fill="none"/><g fill="none" stroke-width="1.80" stroke-linejoin="bevel" stroke-linecap="round" clip-path="url(#clip12)"><path d="M365.6 555.4l.6 .6 .5 .3 .6 .2 .5 .1 .6 0 .6-1 .5-2.5 .2-3.1 .2-3.1 .2-3.1 .3-3.9 .2-3.8 .6 4.5 .2 3.3 .2 3.4 .1 3.3 .2 3.4 .2 3.4 .2 3.4 .3 3.4 .3 2.7 .2 1.4 .3-.5 .6-4.2 .3-3.5 0-3.1 0-3.1 0-3.1 .1-3.1 0-3.1 0-3.1 .1-3 0-3.1 0-3.1 .1-3.1 0-3.1 0-3.1 .1-3.1 0-3.1 0-3.1 .1-3.1 0-3.1 0-3.1 0-3.1 .1-3.1 0-3.1 0-3.1 .1-3 0-3.1 0-3.1 .1-3.1 0-3.1 0-3.7 .1-3.7 0-3.8 0 3.2 .1 3.1 0 3.1 0 3.2 0 3.1 .1 3.1 0 3.1 0 3.2 0 3.1 .1 3.1 0 3.2 0 3.1 0 3.1 .1 3.2 0 3.1 0 3.1 0 3.1 .1 3.1 0 3 0 3 0 3 .1 3.1 0 3 0 3 .1 3 0 3 0 3.1 0 3 .2 3.9 .1 3.9 .1 3.1 .1 3.2 .1 3.1 .2 3.1 .1 3.2 .5-1.1 .6-2.7 .5-3.1 .6-2.6 .5-1.1 .6 .4 .6 1 .5 1.3 .6 1.1 .5 .8 .3 .1 .3-.8 .5-4.3 .6-4.5 .3-1 .3-.2 .5-.2 .6-.2 .5-.2 .6-.3 .5-1.8 .3-1.8 .2-3.3 .1-3.3 .1-3.2 .1-3.1 .1-3.1 .2-3.1 .1-3.1 .5 4 .2 3.2 .2 3.1 .2 3.1 .2 3.5 .2 3.5 .1 3.4 .3 3.7 .3 3.6 .3 1.1 .3-.1 .5-1.3 .6-2.7 0-3.1 0-3.1 .1-3.2 0-3.1 0-3.1 .1-3.1 0-3.2 0-3.1 0-3.1 .1-3.1 0-3.2 0-3.1 .1-3.1 0-3.1 0-3.2 .1-3.1 0-3.1 0-3.1 .1-3 0-3.1 0-3 0-3 .1-3 0-3 0-3 .1-3 0-3 0-3.1 .1-3 0-3 0-3 0-3 .1 3 0 3 0 3 0 3 .1 3 0 3 0 3 0 3 0 3.1 .1 3 0 3 0 3 0 3 .1 3 0 3 0 3 0 3 .1 3 0 3 0 3 0 3 .1 3 0 3 0 3.1 0 3 0 3 .1 3 0 3 0 3 0 3 .2 3.4 .1 3.4 .2 3.5 .1 3.4 .1 3.4 .2 3.4 .3-.7 .5-1 .6-2 .5-1.9 .6-.8 .5 .3 .6 .9 .6 1.1 .5 .8 .6 .4 .5-1.4 .6-3.2 .5-3.8 .6-3.2 .6-1.3 .5 0 .6 0 .5 0 .3 0 .3-1.1 .3-2.4 .1-3.5 .1-3.5 .1-3.1 .2-3 .1-3.1 .1-3.1 .1-3 .6 4.3 .1 3.3 .2 3.3 .2 3.3 .2 3.6 .2 3.7 .2 3.7 .2 3.8 .3 3.8 .3 1.2 .3-.1 .5-1.2 .6-3 .1-.4 .1-3.1 0-3.1 0-3.1 .1-3.1" stroke="#340000"/><path d="M410.5 547.7l0-3.1 0-3.1 .1-3.1 0-3.1 0-3.1" stroke="#490000"/><path d="M410.6 532.2l.1-3.1 0-3.1 0-3.1 .1-3.1 0-3.2 0-3.1" stroke="#5e0000"/><path d="M410.8 513.5l.1-3.2 0-3.2 0-3.1 0-3.2 .1-3.1" stroke="#730000"/><path d="M411.0 497.7l0-3.2 0-3.2 .1-3.1 0-3.2 0-3.2" stroke="#880000"/><path d="M411.1 481.8l.1-3.1 0-3.2 0-3.1 .1-3.2 0-3.2 0 3.2 .1 3.1 0 3.1 0 3.1 0 3.1" stroke="#9d0000"/><path d="M411.4 481.6l.1 3.2 0 3.1 0 3.1 0 3.1 .1 3.2" stroke="#880000"/><path d="M411.6 497.3l0 3.1 0 3.1 0 3.1 .1 3.1 0 3.2 0 3.1" stroke="#730000"/><path d="M411.7 516.0l0 3.1 .1 3.1 0 3.2 0 3.1 0 3.1" stroke="#5e0000"/><path d="M411.8 531.6l.1 3.1 0 3.5 0 3.4 .1 3.4 0 3.5" stroke="#490000"/><path d="M412.0 548.5l0 3.4 .1 3.7 .2 3.7 .1 3.6 .2 3.7 .1 3.7 .3-.6 .5-.6 .6-1.7 .6-1.8 .5-1.4 .6-.6 .5 .3 .6 .6 .5 .6 .6 .3 .6-2 .5-4.2 .6-3.8 .2-.9 .3-.4 .6-.6 .5-.4 .6-.3 .6-.5 .2-.4 .3-.5 .6-1.9 .2-3.4 .1-3.4 .2-3.5 .2-3 .2-3 .2-3 .3 3.6 .2 3.6 .2 3.6 .1 3.7 .2 3.7 .1 3.7 .1 3.1 .2 3 .1 3.1 .2 3 .2 2 .3-.1 .6-1.1 .5-2.4 .4-2.6 .1-4 0-4 .1-4 0-3.1 .1-3.2 0-3.2 0-3.2 .1-3.2 0-3.2 0-3.2 .1-3.2 0-3.2 .1-3.1 0-3.2 0-3.2 .1-3.2 0-3.2 0-3.2 .1-3.3 0-3.3 .1-3.3 0-3.2 0-3.3 .1-3.3 0-3.3 0-3.3 .1 3.1 0 3.1 0 3.1 .1 3.2 0 3.1 0 3.1 .1 3.1 0 3.1 0 3.1 .1 3.1 0 3 0 3.1 .1 3.1 0 3.1 0 3 0 3.1 .1 3.1 0 3 0 3.1 .1 3.1 0 3.1 0 3 .1 3.1 0 3.1 0 3.1 .1 3 .1 3.6 .1 3.5 .2 3.6 .1 3.5 .2 3.5 .1 3.6 .3-.3 .5-1.9 .6-2.9 .5-3.2 .6-2.5 .6-1.1 .5 1.7 .6 3.3 .5 2.8 .3 .4 .3-.6 .5-3.6 .6-4.7 .6-2.8 .5-.7 .6-.4 .5-.4 .6-.5 .3-.3 .2-.5 .6-1.7" stroke="#340000"/><path d="M441.4 555.6l.3-1.4" stroke="#9d0000"/><path d="M441.7 554.2l.1-3.4 .2-3.4 .1-3.3 .1-3.3 .1-3.4 .1-3.3 .1-3.3 .2 3.2 .2 3.1 .2 3.2 .1 3.6 .1 3.5 .1 3.6 .1 3.5 .1 3.6 .2 3.1 .2 3.2 .2 3.2" stroke="#f10000"/><path d="M444.2 567.6l.5-.5" stroke="#9d0000"/><path d="M444.7 567.1l.6-1.8 .6-3.1 .2-2.1 .1-3.2 0-3.2 0-3.2 .1-3.2" stroke="#340000"/><path d="M446.3 547.3l0-3.2 0-3.2 .1-3.2 0-3.2 0-3" stroke="#5e0000"/><path d="M446.4 531.5l.1-3 0-3 0-3 .1-3.1 0-3" stroke="#880000"/><path d="M446.6 516.4l0-3 .1-3 0-3 0-3 .1-3" stroke="#b20000"/><path d="M446.8 501.4l0-3 0-3.1 .1-3 0-3 0-3" stroke="#dc0000"/><path d="M446.9 486.3l.1-3 0-3.2 0-3.2 .1-3.2 0-3.2 0 3.2 .1 3.2 0 3.3 0 3.2 .1 3.2" stroke="#ff0700"/><path d="M447.3 486.6l0 3.2 0 3.2 .1 3.3 0 3.2 0 3.2" stroke="#dc0000"/><path d="M447.4 502.7l.1 3.2 0 3.2 0 3.3 .1 3.2" stroke="#b20000"/><path d="M447.6 515.6l0 3.2 0 3.2 .1 3.2 0 3.3 0 3.2" stroke="#880000"/><path d="M447.7 531.7l.1 3.2 0 3.2 0 3.3 0 3.2 .1 3.2" stroke="#5e0000"/><path d="M447.9 547.8l0 3.2 0 3.2 .2 2.7 .2 3.6 .2 3.6 .1 3.5 .3 5.4 .3-.3 .6-1.7 .5-2.4 .3-1 .3-.9 .5-2.2 .6-2.1 .5-1.6 .6-.7 .3 3.1 .3 3.1 .1 3.2 .2 3.2 .2 3.2 .3 1.8 .1-3.8 .2-3.8 .1-3.1 0-3.1 .1-3.1 .1-3.1 .1-3.1 0-3.1 .1-3.1 .6 .6 .5 1.1 .6 .6 .6-2.8" stroke="#340000"/><path d="M457.6 547.9l.2-3" stroke="#5e0000"/><path d="M457.8 544.9l.1-3.4 0-3.4 .1-3.3" stroke="#730000"/><path d="M458.0 534.8l0-3.4 .1-3.3 0-3.4 .1-3.1 0-3.1" stroke="#c70000"/><path d="M458.2 518.5l0-3.1 .1-3.1 0-3.1 .1-3.1" stroke="#ff1c00"/><path d="M458.4 506.1l0-3.1 .1-3.1 0-3.1 0-3.1 .1-3.1" stroke="#ff6f00"/><path d="M458.6 490.6l0-3.1 .1-3.1 0-4 .1-4 0 3.3 .1 3.3 .1 3.2 0 3.3" stroke="#ffc300"/><path d="M459.0 489.5l.1 3.3 .1 3.3 0 3.3 .1 3.3 .1 3.2" stroke="#ff6f00"/><path d="M459.4 505.9l0 3.2 .1 3.2 0 3.2 .1 3.2" stroke="#ff1c00"/><path d="M459.6 518.7l.1 3.2 0 3.2 .1 3.2 0 3.2 .1 3.2" stroke="#c70000"/><path d="M459.9 534.7l.1 3.2 0 3.2 .1 3.2 .1 3.3" stroke="#730000"/><path d="M460.2 547.6l0 3.2 .1 3.2 0 3.2 .6 2.2 .6 1.8 .5 1.5 .6 1.1 .5 .9 .6 .7 .5 .4 .6 .1 .3 .1 .3-.2 .5-1.5 .6-2.4 .5-2.5 .6-2 .5-.8 .6 .1" stroke="#340000"/><path d="M468.7 556.7l.6 .3" stroke="#dc0000"/><path d="M469.3 557.0l.5 .5 .6 .4 .5 .3 .6 .1 .5 0 .6-.2 .6-.1 .5-.2 .6 0 .5 0 .6 0" stroke="#ff8400"/><path d="M475.4 557.8l.5 0" stroke="#dc0000"/><path d="M475.9 557.8l.6 0 .3 0 .3-1.1 .2-2.5 .2-3.2 .1-3.2 .2-3.5 .1-3.4 .1-3.5 .2-3.5 .3 3.2 .2 3.2 .2 3.3 .1 3.2 .1 3.3 .2 3.3 .2 3.6 .2 3.6 .1 3.6 .3 1.8 .3-.1 .6-.9 .5-1.9 .6-3 0-3.1 0-3.1 .1-3.1 0-3 0-3.1 .1-3.1 0-3.1 0-3.1 0-3.1 .1-3.1 0-3.1 0-3 .1-3.1 0-3.1 0-3.1 0-3.1 .1-3.1 0-3.1 0-3 .1-3.2 0-3.2 0-3.1 .1-3.2 0-3.1 0-3.2 0-3.2 .1-3.1 0-3.2 0-3.1 .1-3.2 0-3.1 0-3.2 0 3 .1 3.1 0 3 0 3 .1 3 0 3.1 0 3 0 3 .1 3 0 3.1 0 3 .1 3 0 3.1 0 3 0 3 .1 3 0 3.1 0 3 .1 3 0 3 0 3.1 0 3 .1 3 0 3.1 0 3 0 3 .1 3 0 3.1 0 3 .1 3 0 3 .1 3.1 .1 3.1 .1 3 .1 3.1 .1 4.1 .2 4.1 .3-1 .5-4.7 .3-1.4 .3-.5 .5-.9 .6-.6 .5-.2 .6 .4 .6 1 .5 1.2 .6 1.1 .5 .4 .6-1.5 .5-3.3 .6-3.9 .6-3 .2-.6 .3-.3 .6-.3 .5-.3 .6-.3 .3-.2 .2-.4 .6-1.2 .3-1.1 .1-3.2 .2-3.2 .1-3.2 .1-3.2 .1-3.1 .1-3.2 .1-3.2 .3 4.1 .3 4.2 .1 3.1 .1 3 .1 3.1 .1 3.1 .1 3.1 .3 4.2 .3 4.1 .5-.6 .6-1.9 .3-1.4 0-3.1 .1-3.1 0-3.1 0-3.2 .1-3.1 0-3.1 0-3.1 .1-3.2 0-3.1 0-3.1 .1-3.1 0-3.2 0-3.1 .1-3.1 0-3.1 0-3.2 .1-3.1 0-3.1 0-3.1 .1-3.1 0-3.2 0-3.1 .1-3.1 0-3.1 .1-3.8 0-3.7 0-3.8 .1-3.7 0 3.1 0 3.2 .1 3.2 0 3.1 0 3.2 .1 3.2 0 3.1 0 3.2 .1 3.2 0 3.1 0 3.2 0 3.2 .1 3.1 0 3.2 0 3.1 .1 3.2 0 3.1 0 3.2 .1 3.1 0 3.2 0 3.1 0 3.2 .1 3.1 0 3.2 0 3.1 .1 3.2 0 3.1 .1 2.5 .2 3.2 .2 3.2 .2 3.2 .3 4.8 .2-.2 .6-1.6 .6-2.4 .5-2.7 .6-2.1 .5-.8 .6 1 .5 2 .6 1.1 .6-1 .5-2.3 .6-2.9 .5-2.7 .6-1.8 .3-.2 .2 0 .6 .1 .6 .3 .5 .2 .6 .2 .5 .1 .6-.9 .5-2.6 .1-3 .1-3.1 .1-3 .1-3 .1-3.1 .1-3 .3-5.9 .3 2.7 .1 3 .1 3.1 .1 3 .1 3.1 .1 3 .1 3.1 .1 3 .2 3.1 .1 3 .1 3.1 .3 2.6 .2-.1 .6-1 .5-2.1 .3-1.5 .1-3.1 0-3.1 0-3.1 .1-3.2 0-3.1 0-3.1 .1-3.1 0-3.2 0-3.1 .1-3.1 0-3.1 0-3.2 .1-3.1 0-3.1 .1-3.1 0-3.2 0-3.1 .1-3.1 0-3.1 0-3.1 .1-3.2 0-3.1 0-3.1 .1-3.1 0-3.8 0-3.7 .1-3.8 0-3.7 .1 3.1 0 3.2 0 3.2 .1 3.1 0 3.2 0 3.2 0 3.1 .1 3.2 0 3.2 0 3.1 .1 3.2 0 3.2 0 3.1 .1 3.2 0 3.1 0 3.2 0 3.1 .1 3.2 0 3.1 0 3.2 .1 3.1 0 3.2 0 3.1 0 3.2 .1 3.1 0 3.2 0 3.1 .2 2.7 .2 3.4 .1 3.5 .2 3.5 .3 5.2 .3-.1 .6-.8 .5-1.2 .6-1.3 .5-1.1 .6-.4 .5 .3 .6 .5 .6 .4 .2 .1 .3-.3 .6-1.9 .5-3 .6-3.1 .5-2.2 .3-.4 .3-.1 .6-.2 .5-.1 .6-.2 .5-.2 .6-1.3 .5-2.8 .2-3.1 .1-3.1 .2-3.1 .1-3 .2-3.6 .2-3.5 .2-3.5 .2 4.2 .3 4.2 .1 3.2 .1 3.1 .1 3.2 .2 3.1 .1 3.1 .2 4.3 .3 4.2 .6-.3 .5-1.1 .6-2.2 .1-.3 .1-3.2 0-3.2 0-3.2 .1-3.2 0-3.2 0-3.2 .1-3.2 0-3.2 0-3.2 .1-3.3 0-3.2 0-3.2 .1-3.2 0-3.1 0-3.1 0-3.1 .1-3.1 0-3.1 0-3.1 .1-3.1 0-3.1 0-3.1 .1-3.2 0-3.1 0-3.1 .1-3.1 0-3.1 0-3.1 .1-3.1 0-3.1 0 2.9 0 3 .1 3.1 0 3 0 3.1 .1 3 0 3.1 0 3 0 3.1 .1 3 0 3.1 0 3 .1 3.1 0 3 0 3.1 0 3.1 .1 3 0 3.1 0 3 .1 3.1 0 3.2 0 3.2 .1 3.2 0 3.2 0 3.3 .1 3.2 0 3.2 0 3.2 0 3.2 .3 3.9 .3 3.9 .3 3.9 .3 3.9 .2-.1 .6-.8 .6-1.3 .5-1.3 .6-.8 .2-.1 .3 .1 .6 .8 .5 .9 .6 .4 .6-1 .5-2.5 .6-2.9 .5-2.4 .6-1 .5 0 .6 0 .6 0 .5 0 .6 0 .5 0 .6-1 .5-2.6 .2-3.4 .1-3.5 .1-3.4 .1-3.5 .1-3.5 .3-5.5 .3 1.8 .1 3.8 .2 3.8 .2 3.7 .1 3.4 .2 3.4 .1 3.5 .2 3.4 .2 3.3 .3 3.3 .6-.9 .5-3.3 .2-.5 0-3.2 0-3.2 .1-3.2 0-3.2 0-3.3 .1-3.2 0-3.2 0-3.2 .1-3.2 0-3.2 0-3.2 .1-3.2 0-3.3 0-3.1 .1-3.1 0-3.1 0-3.1 .1-3.1 0-3.1 0-3.1 0-3.2 .1-3.1 0-3.1 0-3.1 .1-3.1 0-3.1 0-3.1 .1-3.1 0-3.1 0-3.2 .1 2.9 0 3 0 3 0 3.1 .1 3 0 3 0 3 .1 3 0 3 0 3 0 3.1 .1 3 0 3 0 3 .1 3 0 3 0 3.1 .1 3 0 3 0 3 0 3.2 .1 3.2 0 3.1 0 3.2 .1 3.2 0 3.2 0 3.2 .1 3.2 0 3.1 .3 4.8 .2 3.2 .1 3.2 .2 3.2 .3 4.8 .3-.2 .5-1.2 .6-1.8 .6-2 .5-1.6 .6-.6 .5 .6 .6 1.1 .5 1 .3 .2 .3-.3 .6-2 .5-3 .6-3 .5-2 .3-.3 .3 .1 .5 .1 .6 .1 .6 .2 .5 .1 .6 0 .5-1.2 .6-3.5 .1-3.1 .1-3.1 .1-3.1 .1-3.1 0-3.2 .1-3.1 .3-5.9 .3 1.9 .2 3.9 .2 3.9 .2 3.9 .1 3.6 .1 3.5 .2 3.5 .1 3.6 .3 3.4 .3 3.4 .5-.6 .6-2.1 .4-2.6 0-3.7 .1-3.7 0-3.7 0-3.7 .1-3.2 0-3.1 0-3.1 .1-3.1 0-3.2 0-3.1 0-3.1 .1-3.2 0-3.1 0-3.1 .1-3.2 0-3.1 0-3.1 .1-3.1 0-3.2 0-3.1 0-3.1 .1-3.2 0-3.1 0-3.5 .1-3.4 0-3.5 0-3.5 .1-3.4 0-3.5 0 3.2 .1 3.3 0 3.2 0 3.3 .1 3.2 0 3.2 0 3.3 .1 3.2 0 3.3 0 3.2 .1 3.2 0 3.1 0 3 0 3.1 .1 3 0 3.1 0 3 .1 3 0 3.1 0 3 .1 3.1 0 3 0 3.1 .1 3 0 3.1 0 3 .1 3 0 3.1 0 3 .3 4.1 .3 4 .2 4 .3 4 .6-1.3 .5-2.7 .6-2.3 .3-.4 .3 .1 .5 .6 .6 .8 .5 1 .6 .7 .5 .3 .6-1.2 .6-2.9 .5-3.5 .6-2.9 .5-1.2 .6 0 .5 0 .6 0 .6 0 .5-.9 .6-2.6 .1-3.5 .1-3.5 .1-3.5 .1-3.6 .1-3.5 .3-5.6 .3 1.5 .2 3.2 .2 3.1 .1 3.2 .2 3.2 .1 3.2 .2 3.3 .1 3.2 .2 3.1 .2 3.2 .2 3.2 .2 1.5 .3-.2 .6-1.8 .4-2.7 0-3.5 .1-3.5 0-3.6 0-3.5 .1-3.2 0-3.1 0-3.2 .1-3.1 0-3.1 0-3.2 0-3.1 .1-3.2 0-3.1 0-3.2 .1-3.1 0-3.2 0-3.1 .1-3.1 0-3.2 0-3.1 .1-3.2 0-3.1 0-3.4 .1-3.4 0-3.4 0-3.4 .1-3.4 0 3.1 0 3.1 .1 3.1 0 3.1 0 3.1 .1 3.1 0 3.2 0 3.1 .1 3.1 0 3.1 0 3.1 .1 3 0 3.1 0 3 .1 3.1 0 3.1 .1 3 0 3.1 0 3 .1 3.1 0 3 0 3.1 .1 3 0 3.1 0 3 .1 3.1 0 3 .3 3.3 .3 3.3 .1 3 .2 3.1 .2 3 .3 .8 .3 0 .5-.1 .6 0 .5 0 .6-.1 .6-.1 .5-.1 .6-.1 .5-.1 .6-2 .5-4.1 .6-4.1 .6-1.9 .5-.1 .6 0 .5 0 .6 0 .5-.1 .3 0 .3-.5 .6-3.1 .1-3.1 0-3.1 .1-3.1 .1-3.1 .1-3.1 .1-3.2 .3-5.9 .3 1.2 .3 3.9 .2 3.9 .2 3.7 .2 3.7 .2 3.8 .2 3.3 .2 3.4 .1 3.3 .6 4.4 .6-.6 .5-2.1 .4-2.6 .1-3 0-3 0-3 0-3 .1-3 0-3.1 0-3 .1-3 0-3 0-3 0-3 .1-3.1 0-3 0-3 .1-3 0-3 0-3 0-3.1 .1-3 0-3 0-3 0-3 .1-3 0-3 0-3.1 .1-3 0-3 0-3 0-3 .1-3 0-3.1 0 3.1 .1 3.1 0 3 0 3.1 0 3.1 .1 3 0 3.1 0 3 0 3.1 .1 3.1 0 3 0 3.1 .1 3 0 3.1 0 3.1 0 3 .1 3.1 0 3.1 0 3 .1 3.1 0 3 0 3.1 0 3.1 .1 3 0 3.1 0 3.1 .1 3 0 3.1 0 3 .1 3 .2 3.9 .2 3.9 .2 3.9 .6-.6 .5-1.5 .6-1.7 .5-1.5 .6-.6 .5 .4 .6 .9 .6 .9 .5 .7 .3 .1 .3-.5 .5-2.7 .6-3.8 .5-3 .3-.6 .3-.2 .6-.2 .5-.2 .6-.1 .5-.3 .3-.2 .3-.3 .5-1.1 .6-2.1 .2-3.8 .2-3.8 .2-3.9 .1-3.4 .2-3.4 .2-3.4 .3 3.5 .3 3.4 .1 3.5 .2 3.5 .1 3.6 .1 3.5 .2 3.9 .2 3.9 .2 3.9 .3 1.9 .2-.1 .6-1.2 .6-2.9 .1-.5 0-3 .1-3.1 0-3 0-3 .1-3.1 0-3 0-3.1 0-3 .1-3 0-3.1 0-3 .1-3.1 0-3 0-3.1 .1-3.1 0-3.2 0-3.2 0-3.2 .1-3.1 0-3.2 0-3.2 .1-3.1 0-3.2 0-3.2 .1-3.2 0-3.1 0-3.2 .1-3.2 0-3.2 0-3.1 0-3.2" stroke="#340000"/><path d="M633.0 462.4l.1 3" stroke="#490000"/><path d="M633.1 465.4l0 3.1 0 3.1 .1 3.1 0 3.1 0 3.2 .1 3.1 0 3.1 0 3.1 0 3.1 .1 3.1 0 3.2 0 3.1 .1 3.1 0 3.1 0 3.1 0 3.2 .1 3.1 0 3.1 0 3.1 .1 3.3 0 3.3 0 3.3 .1 3.3 0 3.3 0 3.3 .1 3.3 0 3.2 0 3.3 .3 4.4 .3 4.3 .2 4.4 .3 4.3 .3-.2 .6-1.2 .5-1.9 .6-2.2 .5-1.8 .3-.7 .3-.5 .5-.8 .6-.8 .6-.6 .5-.8 .6-.8 .5-.7 .6-.8 .5-.7 .6-.9 .6-.9 .2-.5 .3-.6" stroke="#340000"/></g><path d="M365.17 589.43v-3.00M365.17 436.94v3.00M376.34 589.43v-1.80M376.34 436.94v1.80M387.51 589.43v-1.80M387.51 436.94v1.80M398.67 589.43v-1.80M398.67 436.94v1.80M409.84 589.43v-1.80M409.84 436.94v1.80M421.01 589.43v-3.00M421.01 436.94v3.00M432.18 589.43v-1.80M432.18 436.94v1.80M443.35 589.43v-1.80M443.35 436.94v1.80M454.51 589.43v-1.80M454.51 436.94v1.80M465.68 589.43v-1.80M465.68 436.94v1.80M476.85 589.43v-3.00M476.85 436.94v3.00M488.02 589.43v-1.80M488.02 436.94v1.80M499.19 589.43v-1.80M499.19 436.94v1.80M510.35 589.43v-1.80M510.35 436.94v1.80M521.52 589.43v-1.80M521.52 436.94v1.80M532.69 589.43v-3.00M532.69 436.94v3.00M543.86 589.43v-1.80M543.86 436.94v1.80M555.03 589.43v-1.80M555.03 436.94v1.80M566.19 589.43v-1.80M566.19 436.94v1.80M577.36 589.43v-1.80M577.36 436.94v1.80M588.53 589.43v-3.00M588.53 436.94v3.00M599.70 589.43v-1.80M599.70 436.94v1.80M610.87 589.43v-1.80M610.87 436.94v1.80M622.03 589.43v-1.80M622.03 436.94v1.80M633.20 589.43v-1.80M633.20 436.94v1.80M644.37 589.43v-3.00M644.37 436.94v3.00M365.17 589.43h1.80M644.37 589.43h-1.80M365.17 583.57h1.80M644.37 583.57h-1.80M365.17 577.70h3.00M644.37 577.70h-3.00M365.17 571.84h1.80M644.37 571.84h-1.80M365.17 565.97h1.80M644.37 565.97h-1.80M365.17 560.11h1.80M644.37 560.11h-1.80M365.17 554.24h3.00M644.37 554.24h-3.00M365.17 548.38h1.80M644.37 548.38h-1.80M365.17 542.51h1.80M644.37 542.51h-1.80M365.17 536.65h1.80M644.37 536.65h-1.80M365.17 530.78h3.00M644.37 530.78h-3.00M365.17 524.92h1.80M644.37 524.92h-1.80M365.17 519.05h1.80M644.37 519.05h-1.80M365.17 513.19h1.80M644.37 513.19h-1.80M365.17 507.32h3.00M644.37 507.32h-3.00M365.17 501.46h1.80M644.37 501.46h-1.80M365.17 495.59h1.80M644.37 495.59h-1.80M365.17 489.73h1.80M644.37 489.73h-1.80M365.17 483.86h3.00M644.37 483.86h-3.00M365.17 478.00h1.80M644.37 478.00h-1.80M365.17 472.13h1.80M644.37 472.13h-1.80M365.17 466.27h1.80M644.37 466.27h-1.80M365.17 460.40h3.00M644.37 460.40h-3.00M365.17 454.54h1.80M644.37 454.54h-1.80M365.17 448.67h1.80M644.37 448.67h-1.80M365.17 442.81h1.80M644.37 442.81h-1.80M365.17 436.94h3.00M644.37 436.94h-3.00" stroke="#222" stroke-width="0.9" fill="none"/><rect x="365.62" y="437.20" width="278.80" height="152.50" fill="none" stroke="#4c4c4c" stroke-width="1.0" stroke-linejoin="round"/><text x="362.17" y="581.80" text-anchor="end" class="tk">0.0</text><text x="362.17" y="558.34" text-anchor="end" class="tk">0.2</text><text x="362.17" y="534.88" text-anchor="end" class="tk">0.4</text><text x="362.17" y="511.42" text-anchor="end" class="tk">0.6</text><text x="362.17" y="487.96" text-anchor="end" class="tk">0.8</text><text x="362.17" y="464.50" text-anchor="end" class="tk"><tspan class="hid">1</tspan>.0</text><polygon points="350.51,457.41 351.34,457.41 351.34,464.50 350.44,464.50 350.44,458.26 348.84,459.41 348.84,458.59" class="tk one"/><text x="362.17" y="441.04" text-anchor="end" class="tk"><tspan class="hid">1</tspan>.2</text><polygon points="350.51,433.95 351.34,433.95 351.34,441.04 350.44,441.04 350.44,434.80 348.84,435.95 348.84,435.13" class="tk one"/><text x="365.17" y="600.43" text-anchor="middle" class="tk">0.0</text><text x="421.01" y="600.43" text-anchor="middle" class="tk">2.0</text><text x="476.85" y="600.43" text-anchor="middle" class="tk">4.0</text><text x="532.69" y="600.43" text-anchor="middle" class="tk">6.0</text><text x="588.53" y="600.43" text-anchor="middle" class="tk">8.0</text><text x="644.37" y="600.43" text-anchor="middle" class="tk"><tspan class="hid">1</tspan>0.0</text><polygon points="637.01,593.34 637.84,593.34 637.84,600.43 636.93,600.43 636.93,594.19 635.34,595.34 635.34,594.52" class="tk one"/><text x="504.77" y="614.53" text-anchor="middle" class="ax">Time / s</text><text transform="translate(341.67 512.89) rotate(-90)" text-anchor="middle" class="ax">Amplitude / a.u.</text><text transform="translate(493.00 640.50) scale(1.115 1)" text-anchor="middle" class="cap">(f) Long-term, non-AF classification</text><rect x="663.50" y="436.50" width="7.80" height="154.30" fill="url(#hotg)" stroke="#333" stroke-width="0.9"/><text x="673.20" y="439.20" text-anchor="start" class="cb"><tspan class="hid">1</tspan>.0</text><polygon points="675.39,433.35 676.08,433.35 676.08,439.20 675.33,439.20 675.33,434.05 674.02,435.00 674.02,434.32" class="cb one"/><text x="672.80" y="593.40" class="cb">0</text><text transform="translate(684.30 514.50) rotate(-90)" text-anchor="middle" class="cb2">Relevance / a.u.</text><clipPath id="clip03"><rect x="32.55" y="653.74" width="279.90" height="152.49"/></clipPath><rect x="32.55" y="653.74" width="279.90" height="152.49" fill="#dcdcdc"/><path d="M88.53 653.74V806.23M144.51 653.74V806.23M200.49 653.74V806.23M256.47 653.74V806.23M32.55 794.50H312.45M32.55 771.04H312.45M32.55 747.58H312.45M32.55 724.12H312.45M32.55 700.66H312.45M32.55 677.20H312.45" stroke="#b0b0b0" stroke-width="0.8" fill="none"/><g fill="none" stroke-width="1.80" stroke-linejoin="bevel" stroke-linecap="round" clip-path="url(#clip03)"><path d="M33.0 779.8l.6-.4 .5-1.4 .3-1.1 .3-5.6 .1-3.5 .2-3.6 .1-3.5 .1-3.5 .2 4 .2 4 .2 3.9 .1 3.7 .2 3.8 .1 3" stroke="#200000"/><path d="M36.2 779.6l.2 3.1" stroke="#340000"/><path d="M36.4 782.7l.2 3.4 .3-.1" stroke="#490000"/><path d="M36.9 786.0l.6-.4 .5-.6 .6-.4" stroke="#340000"/><path d="M38.6 784.6l.3-.1 .2 1 .6 2.8 .6-1.6 .5-3.4 .6-3.4" stroke="#200000"/><path d="M41.4 779.9l.5-1.6" stroke="#490000"/><path d="M41.9 778.3l.6 1.6" stroke="#5e0000"/><path d="M42.5 779.9l.6 3.6 .5 4 .6 2.8 .3 .4 .2-.4 .6-2.6 .5-3.4 .6-2.6 .3-.5 .3 .4 .5 2.3 .6 3.1 .5 2.3 .3 .4 .3-.2 .6-1.9 .3-2.5 .1-3.3 0-3.3" stroke="#200000"/><path d="M50.2 778.5l0-3.3 .1-3.3 0-3.3 0-3.4 0-3 .1-3 0-3 0-3 0-3 .1-3 0-3 0-3 0-3.1 .1-3 0-3 0-3 0-3 .1-3 0-3 0-3 0-3 .1-3 0-3.1 0-3 0-3 .1-3 0-3.3 0-3.3 .1-3.3 0-3.3 0 3.1 0 3.1 .1 3.2 0 3.1 0 3.1 .1 3.1 0 3.2 0 3.1 0 3.1 .1 3.2 0 3.1 0 3.1 .1 3.1 0 3.2 0 3.1 0 3.1 .1 3.2 0 3.1 0 3.1 0 3.2 .1 3.1 0 3.1 0 3.1 .1 3.2 0 3.1 .1 3.7 0 3.7 .1 3.7 .1 3.7" stroke="#0b0000"/><path d="M52.0 778.8l.1 3.1" stroke="#730000"/><path d="M52.1 781.9l0 3" stroke="#490000"/><path d="M52.1 784.9l.1 3 0 3.1" stroke="#340000"/><path d="M52.2 791.0l.4 .3 .5 .6 .6-.5 .2-.4 .3-.8 .6-3.4 .5-4.4" stroke="#200000"/><path d="M55.3 782.4l.6-4.2 .6-2.8" stroke="#340000"/><path d="M56.5 775.4l.2-.4 .3 .5 .6 2.9 .5 4.2 .6 3.7 .6 1.6 .5-1.5 .6-3.3" stroke="#200000"/><path d="M60.4 783.1l.5-3.3" stroke="#dc0000"/><path d="M60.9 779.8l.6-1.5 .5 2.3" stroke="#ff9900"/><path d="M62.0 780.6l.6 2.5" stroke="#dc0000"/><path d="M62.6 783.1l.6 .5 .5 .2 .6 .2" stroke="#200000"/><path d="M64.3 784.0l.5 .3" stroke="#340000"/><path d="M64.8 784.3l.3 .2" stroke="#9d0000"/><path d="M65.1 784.5l.3 1" stroke="#c70000"/><path d="M65.4 785.5l.6 3.4" stroke="#730000"/><path d="M66.0 788.9l.2 .8 .3-4.6 0-3.3 0-3.3" stroke="#200000"/><path d="M66.5 778.5l0-3.1 .1-3 0-3 0-3 0-3 .1-3.1 0-3 0-3 0-3 .1-3 0-3.1 0-3 0-3 .1-3 0-3.1 0-3 0-3 .1-3 0-3 0-3.1 0-3 .1-3 0-3.3 0-3.3 .1-3.4 0-3.3 0-3.3 0-3.3 .1-3.4 0-3.3 0 3.2 .1 3.1 0 3.1 0 3.2 0 3.1 .1 3.2 0 3.1 0 3.2 0 3.1 .1 3.1 0 3.2 0 3.1 .1 3.2 0 3.1 0 3.2 0 3.1 .1 3.2 0 3.1 0 3.1 .1 3.2 0 3.1 0 3.2 0 3.1 .1 3.2 0 3.1 .1 3.1 0 3.2 .1 3.1 .1 3.6" stroke="#0b0000"/><path d="M68.3 777.0l0 3.5 .1 3.5 .1 3.5 .1 3.5 .2-.3 .2-.3 .3-1.9 .6-4.6 .5 2.1" stroke="#200000"/><path d="M70.4 786.0l.6 3.2" stroke="#340000"/><path d="M71.0 789.2l.3 .6 .2-.9 .6-5.6 .3-3.8 .3-3.7 .5-5.6 .3-.9 .3 .6 .5 3.9" stroke="#200000"/><path d="M74.3 773.8l.6 6 .6 6" stroke="#490000"/><path d="M75.5 785.8l.5 4 .3 .6 .3-.6 .5-3.3 .6-4.1 .5-2 .6 3.6" stroke="#200000"/><path d="M78.8 784.0l.2 1.1 0-3.2 0-3.1" stroke="#340000"/><path d="M79.0 778.8l.1-3.2 0-3.2 0-3.2 0-3.1 .1-3.2 0-3.2 0-3.2 0-3.1 .1-3.2 0-3.2 0-3.2 0-3.1 .1-3.2 0-3 0-3.1 0-3 .1-3 0-3 0-3.1 0-3 .1-3 0-3 0-3 0-3.1 .1-3 0-3 0-3 0-3.1 .1-3 0-3 0-3 0 3.2 .1 3.2 0 3.3 0 3.2 0 3.1 .1 3.1 0 3.1 0 3 .1 3.1 0 3.1 0 3.1 0 3.1 .1 3.1 0 3 0 3.1 0 3.1 .1 3.1 0 3.1 0 3.1 0 3 .1 3.1 0 3.1 0 3.1 .1 3.1 0 3.1 0 3.2 .1 3.2 0 3.2 .1 3.2 .1 3.2" stroke="#0b0000"/><path d="M80.8 776.8l0 3.2 .1 3.2 .1 3.2 0 3.2 .1 1.4 .5 .8 .6 1.1 .2 .1 .3-.4 .6-2.5 .5-4.1" stroke="#200000"/><path d="M83.8 786.0l.6-4.5 .5-4.1" stroke="#340000"/><path d="M84.9 777.4l.6-2.5 .3-.3 .3 .2 .5 1.7 .6 2.5 .5 2.4 .6 1.4 .6 .4 .5 .3" stroke="#200000"/><path d="M89.4 783.5l.6 .4" stroke="#5e0000"/><path d="M90.0 783.9l.5 1.5" stroke="#490000"/><path d="M90.5 785.4l.6 2.3 .6 1.7 .2 .3 .3-.6 .6-3.1 .5-2.1" stroke="#200000"/><path d="M93.3 783.9l.4 1.2" stroke="#730000"/><path d="M93.7 785.1l0-3.4" stroke="#b20000"/><path d="M93.7 781.7l0-3.3" stroke="#c70000"/><path d="M93.7 778.4l0-3.4 .1-3.4 0-3.3 0-3.4 .1-3.4 0-3.3 0-3.1 0-3.1 .1-3 0-3.1 0-3.1 0-3 .1-3.1 0-3.1 0-3 0-3.1 .1-3.1 0-3 0-3.1 0-3 .1-3.1 0-3.1 0-3 0-3.1 .1-3.1 0-3 0-3.1 0-3.1 .1-3.3 0-3.4 0 3 .1 3.1 0 3 0 3 0 3.1 .1 3 0 3 0 3.1 0 3 .1 3 0 3.1 0 3 0 3 .1 3 0 3.1 0 3 .1 3 0 3.1 0 3 0 3.2 .1 3.2 0 3.2 0 3.2 0 3.2 .1 3.2 0 3.2 .1 3.5 0 3.5 .1 3.5 .1 3.5" stroke="#0b0000"/><path d="M95.5 778.0l.1 3.5 0 3.2 .1 3.1 .1 3.2 .3 1.4 .6-.5 .5-1 .6-1.2 .6-1.5 .5-2 .6-2.1 .5-1.8 .6-1.1 .3-.2 .2 .1 .6 .8 .6 1.2 .5 1" stroke="#200000"/><path d="M102.8 784.1l.6 .4 .5-.5" stroke="#9d0000"/><path d="M103.9 784.0l.6-1.4 .6-1.7 .5-1.6 .6-1.1 .3-.1 .2 .8" stroke="#200000"/><path d="M106.7 778.9l.6 4.3 .6 2.9" stroke="#340000"/><path d="M107.9 786.1l.5-1.4 .6-2.8 .5-2.3 .3-.3 .3 .5 .5 3.1 .6 2 .1 .2 0-3 0-3" stroke="#200000"/><path d="M111.3 779.1l0-3.1 .1-3 0-3 0-3.1 .1-3 0-3 0-3.1 0-3 .1-3 0-3 0-3.1 .1-3 0-3 0-3.1 0-3 .1-3 0-3.1 0-3 0-3 .1-3 0-3.1 0-3 .1-3 0-3.1 0-3 0-3 .1-3.1 0-3 0 3.2 .1 3.2 0 3.2 0 3.2 .1 3.2 0 3.2 0 3.1 .1 3.2 0 3.2 0 3.1 0 3.2 .1 3.2 0 3.1 0 3.2 .1 3.2 0 3.1 0 3.2 .1 3.1 0 3.2 0 3.2 .1 3.1 0 3.2 .1 4 0 3.3 .1 3.3 .1 3.3" stroke="#0b0000"/><path d="M113.1 777.9l.1 3.3 0 3.2" stroke="#490000"/><path d="M113.2 784.4l.1 3.3 .1 3.3" stroke="#340000"/><path d="M113.4 791.0l0-1.6 .3-5.5 .3 .2 .6 1.1 .5 1.5 .6 1.1 .3 .1 .2-.3" stroke="#200000"/><path d="M116.2 787.6l.6-2.3" stroke="#340000"/><path d="M116.8 785.3l.5-3.6" stroke="#490000"/><path d="M117.3 781.7l.6-3.8" stroke="#340000"/><path d="M117.9 777.9l.6-3" stroke="#880000"/><path d="M118.5 774.9l.5-1.3" stroke="#dc0000"/><path d="M119.0 773.6l.6 4.4" stroke="#730000"/><path d="M119.6 778.0l.3 3.4 .2 3.4 .3 1.3 .3-.2 .6-1.3 .5-1.8" stroke="#200000"/><path d="M121.8 782.8l.6-1.7" stroke="#340000"/><path d="M122.4 781.1l.5-.7" stroke="#490000"/><path d="M122.9 780.4l.6 1 .6 1.4 .5 .6 .6 .6 .5 .5 .6 .4 .5 .2 .4 0 0-3.1 0-3.2" stroke="#200000"/><path d="M127.2 778.8l0-3.1 .1-3.1 0-3.2 0-3.1 0-3.1 .1-3.2 0-3.1 0-3.1 .1-3.2 0-3.1 0-3.1 0-3.2 .1-3.1 0-3.2 0-3.1 .1-3.1 0-3.2 0-3.1 0-3.1 .1-3.2 0-3.1 0-3.1 .1-3.2 0-3.1 0-3.2 0-3.1 .1-3.1 0-3.2 0 3.1 0 3.1 .1 3.1 0 3.1 0 3 .1 3.1 0 3.1 0 3.1 .1 3.1 0 3 0 3.1 0 3.1 .1 3.1 0 3.1 0 3 .1 3.1 0 3.1 0 3.1 .1 3.5 0 3.5 0 3.5 .1 3.5 0 3.5 .1 3.1 0 3.2 .1 3.1 0 3.2" stroke="#0b0000"/><path d="M128.9 776.6l.1 3.1 .1 3.2 .1 4 0 4.1 .4-4.1 .3-3 .3 .5 .6 2.7 .5 3.2" stroke="#200000"/><path d="M131.3 790.3l.6 1.6" stroke="#880000"/><path d="M131.9 791.9l.5-2.6" stroke="#9d0000"/><path d="M132.4 789.3l.6-5.8" stroke="#340000"/><path d="M133.0 783.5l.5-5.8 .6-2.7 .6 1.5 .5 3.4 .6 4.2 .5 3.4 .6 1.5 .6-.8 .5-1.8 .6-2 .5-1.4 .3-.2 .3 .9 .6 5.2 .5 3.3 .1-3.6 .2-3.5 0-3 0-3" stroke="#200000"/><path d="M141.1 779.1l0-3 .1-3.1 0-3 0-3 .1-3 0-3 0-3.1 0-3 .1-3 0-3 0-3 .1-3 0-3.1 0-3 0-3 .1-3 0-3 0-3.1 0-3 .1-3 0-3 0-3 .1-3 0-3.1 0-3 0-3 .1-3 0-3 0 2.7 .1 3.1 0 3.1 0 3.1 .1 3.1 0 3.1 0 3.1 0 3 .1 3.1 0 3.1 0 3.1 .1 3.1 0 3.1 0 3.1 .1 3 0 3.1 0 3.1 .1 3.1 0 3.1 0 3.7 .1 3.7 0 3.7 .1 3.1 0 3.1 .1 3.1 .1 3 0 3.1" stroke="#0b0000"/><path d="M142.9 779.4l.1 3.1 0 3.1 .2 5.4 .4-.6 .6 .4 .5 .8" stroke="#200000"/><path d="M144.7 791.6l.6 .8" stroke="#340000"/><path d="M145.3 792.4l.5 .3" stroke="#730000"/><path d="M145.8 792.7l.6-3.6" stroke="#5e0000"/><path d="M146.4 789.1l.3-3.7 .3-3.7 .2-3.1 .3-3 .3-1 .3 1.3 .3 3.8 .2 3.9 .3 3.8 .3 3.9 .3 1.3 .2-.5 .6-3.4 .6-4.4 .5-2.7 .6-.9 .5-.8 .6-.5 .6-.1 .5 2.1 .6 3.9" stroke="#200000"/><path d="M154.8 785.3l.5 2.2" stroke="#5e0000"/><path d="M155.3 787.5l.6-.6" stroke="#490000"/><path d="M155.9 786.9l.6-1.8 0-3.1 0-3.1" stroke="#200000"/><path d="M156.5 778.9l0-3.2 .1-3.1 0-3.1 0-3.1 .1-3.2 0-3.1 0-3.1 0-3.1 .1-3.1 0-3.2 0-3.1 .1-3.1 0-3.1 0-3.2 .1-3.1 0-3.1 0-3.1 0-3.3 .1-3.3 0-3.3 0-3.3 .1-3.3 0-3.3 0-3.3 .1-3.3 0-3.3 0 3 .1 3 0 3 0 3.1 0 3 .1 3 0 3 0 3 .1 3.1 0 3.1 0 3.1 .1 3.2 0 3.1 0 3.1 .1 3.2 0 3.1 0 3.1 .1 3.2 0 3.1 0 3.1 .1 3.2 0 3.1 .1 3.4 0 3.3 .1 3.4 .1 3.4" stroke="#0b0000"/><path d="M158.3 777.5l0 3.4 .1 3.3 .1 3.4 0 3.4 .2 .1 .5 .7 .6 .1" stroke="#200000"/><path d="M159.8 791.9l.6-.9" stroke="#340000"/><path d="M160.4 791.0l.5-2.4" stroke="#490000"/><path d="M160.9 788.6l.6-3.2" stroke="#340000"/><path d="M161.5 785.4l.5-3.4 .6-2.9 .6-1.7 .2-.3 .3 .5 .6 3" stroke="#200000"/><path d="M164.3 780.6l.5 4.3 .6 3.8" stroke="#340000"/><path d="M165.4 788.7l.5 1.7 .6-1.2 .6-2.6 .5-2.6 .6-1.2 .5 .5 .6 1.1" stroke="#200000"/><path d="M169.3 784.4l.6 1.4" stroke="#340000"/><path d="M169.9 785.8l.5 1.2" stroke="#730000"/><path d="M170.4 787.0l.6 .5" stroke="#490000"/><path d="M171.0 787.5l.5-.8 .5-1.6 0-3.6 0-3.6" stroke="#200000"/><path d="M172.0 777.9l0-3.6 .1-3.6 0-3.6 0-3.1 0-3.1 .1-3.2 0-3.1 0-3.1 0-3.1 .1-3.2 0-3.1 0-3.1 0-3.2 .1-3.1 0-3.1 0-3.1 0-3.2 .1-3.1 0-3.1 0-3.1 0-3.2 .1-3.1 0-3.1 0-3.2 0-3.1 0-3.1 .1-3.6 0-3.6 0-3.6 .1-3.6 0-3.6 0 3.1 0 3 .1 3.1 0 3.1 0 3 0 3.1 .1 3 0 3.1 0 3.1 0 3 .1 3.1 0 3.1 0 3 0 3.1 .1 3.1 0 3 0 3.1 0 3.1 .1 3.2 0 3.2 0 3.1 0 3.2 .1 3.1 0 3.2 0 3.1 0 3.2 .1 3.1 0 3.2 .1 3.4 0 3.3 .1 3.4 .1 3.4" stroke="#0b0000"/><path d="M173.8 777.5l0 3.4" stroke="#340000"/><path d="M173.8 780.9l.1 3.3 .1 3.4" stroke="#490000"/><path d="M174.0 787.6l0 3.4" stroke="#5e0000"/><path d="M174.0 791.0l.3 0" stroke="#730000"/><path d="M174.3 791.0l.3 0" stroke="#5e0000"/><path d="M174.6 791.0l.3-.2" stroke="#340000"/><path d="M174.9 790.8l.5-1.6 .6-2.6 .6-3.2 .5-3.4 .6-2.9 .5-2.2 .6-.8 .6 2.3 .5 5 .6 5 .5 2.2 .6-2.1 .5-3.9 .6-2.2 .6 .9" stroke="#200000"/><path d="M183.3 781.3l.5 2.1 .6 2" stroke="#b20000"/><path d="M184.4 785.4l.5 .9 .6-2.5 .6-3.8 .2-.7 .3 2.4 .3 3.5 .3 3.4 .4-3.5 0-3.4 0-3.3" stroke="#200000"/><path d="M187.6 778.4l0-3.4 .1-3.4 0-3.4 0-3.4 .1-3 0-3.1 0-3.1 0-3 .1-3.1 0-3.1 0-3.1 0-3 .1-3.1 0-3.1 0-3 0-3.1 .1-3.1 0-3 0-3.1 0-3.1 .1-3.1 0-3 0-3.1 0-3.1 .1-3 0-3.1 0-3.4 0-3.4 .1-3.4 0-3.3 0 3 .1 3 0 3 0 3.1 0 3 .1 3 0 3 0 3 0 3.1 .1 3 0 3 0 3 0 3 .1 3.1 0 3 0 3 0 3 .1 3.2 0 3.2 0 3.2 .1 3.3 0 3.2 0 3.2 0 3.2 .1 3.2 0 3.2 .1 3.7 .1 3.7 0 3.7 .1 3.7" stroke="#0b0000"/><path d="M189.4 778.8l.1 3.1 0 3 .1 3 .1 3.1 .3-.1 .5 0 .6-.2 .5-.2 .3-.1 .3-.7 .6-3.7" stroke="#200000"/><path d="M192.8 786.0l.5-5.2 .6-4.7" stroke="#490000"/><path d="M193.9 776.1l.5-2 .6 3.1 .6 5.2 .2 1.5 .3 .8 .6 1.2" stroke="#200000"/><path d="M196.7 785.9l.5 1" stroke="#490000"/><path d="M197.2 786.9l.6 .5" stroke="#5e0000"/><path d="M197.8 787.4l.3 .1 .2-.2 .6-1.3 .6-2.1" stroke="#340000"/><path d="M199.5 783.9l.5-2.2 .6-1.7 .5-.7 .6 2.5 .6 5.3" stroke="#200000"/><path d="M202.3 787.1l.5 4.3" stroke="#340000"/><path d="M202.8 791.4l.3 .8" stroke="#490000"/><path d="M203.1 792.2l.3-.7" stroke="#340000"/><path d="M203.4 791.5l.5-5.4 .2-1 0-3 0-3.1" stroke="#200000"/><path d="M204.1 779.0l0-3 .1-3 0-3.1 0-3 .1-3 0-3.1 0-3 0-3 .1-3.1 0-3 0-3 0-3.1 .1-3 0-3 0-3.1 0-3 .1-3.1 0-3 0-3 0-3.1 .1-3 0-3 0-3.1 .1-3 0-3 0-3.1 0-3 .1-3 0-3.1 0-3 0 3 .1 3.1 0 3 0 3.1 0 3 .1 3 0 3.1 0 3 .1 3.1 0 3 0 3 0 3.1 .1 3 0 3.1 0 3 .1 3 0 3.1 0 3 0 3.1 .1 3 0 3 0 3.1 .1 3 0 3.1 0 3 0 0 .1 3.4 0 3.3 .1 3.4 .1 3.4" stroke="#0b0000"/><path d="M205.9 777.5l.1 3.4 0 3.3 .1 3.4 .1 3.4 .5-.3" stroke="#200000"/><path d="M206.7 790.7l.6-.1" stroke="#340000"/><path d="M207.3 790.6l.3-.2 .2-.5" stroke="#200000"/><path d="M207.8 789.9l.6-2.3" stroke="#340000"/><path d="M208.4 787.6l.6-3.5 .5-3.8 .6-3.4 .5-2 .3-.3 .3 .2 .6 1.9" stroke="#200000"/><path d="M211.8 776.7l.5 2.8" stroke="#730000"/><path d="M212.3 779.5l.6 2.9" stroke="#880000"/><path d="M212.9 782.4l.5 1.9 .3 .2 .3-.1 .5-1.2 .6-1.5 .6-1.1 .2-.2 .3 0 .6 .2 .5 .3 .6 .5 .3 .2 .3 .5 .5 1.8 .6 2.3 .5 2.1 .3 .7 .3 .5 .5 1" stroke="#200000"/><path d="M221.2 790.5l.6 .8" stroke="#5e0000"/><path d="M221.8 791.3l.6 .6" stroke="#880000"/><path d="M222.4 791.9l.5 .3" stroke="#340000"/><path d="M222.9 792.2l.1-3.6 .1-3.5 0-3.1 0-3.1" stroke="#200000"/><path d="M223.1 778.9l0-3.1 .1-3.1 0-3.1 0-3 0-3.1 .1-3.1 0-3.1 0-3.1 .1-3.1 0-3.1 0-3.1 0-3.1 .1-3.1 0-3.1 0-3.1 0-3.1 .1-3.1 0-3.1 0-3.1 0-3 .1-3.1 0-3.1 0-3.1 0-3.1 .1-3.1 0-3.1 0-3.1 0-3.1 .1-3.1 0-3.1 0 3.1 .1 3.1 0 3.2 0 3.1 0 3.1 .1 3.1 0 3.1 0 3.1 .1 3.2 0 3.1 0 3.1 0 3.1 .1 3.1 0 3.1 0 3.1 0 3.2 .1 3.1 0 3.1 0 3.1 .1 3.1 0 3.1 0 3.2 0 3.1 .1 3.1 0 3.1 .1 3.4 0 3.3 .1 3.4 .1 3.4" stroke="#0b0000"/><path d="M224.9 777.5l0 3.4 .1 3.3 .1 3.4 .1 3.4" stroke="#200000"/><path d="M225.2 791.0l.5-.7" stroke="#340000"/><path d="M225.7 790.3l.6-.3" stroke="#5e0000"/><path d="M226.3 790.0l.5-.9" stroke="#340000"/><path d="M226.8 789.1l.3-.5 .3-.6 .6-2.1 .5-2.5 .6-2.6 .5-1.9 .6-.8 .5 .6 .6 1.5" stroke="#200000"/><path d="M231.3 780.2l.6 2" stroke="#340000"/><path d="M231.9 782.2l.5 2 .6 1.5 .5 .6 .6-1.2 .6-2.3" stroke="#200000"/><path d="M234.7 782.8l.5-1.2" stroke="#340000"/><path d="M235.2 781.6l.6 .6" stroke="#730000"/><path d="M235.8 782.2l.5 1.4" stroke="#5e0000"/><path d="M236.3 783.6l.6 1.2 .4 .3 0-3.1 0-3" stroke="#200000"/><path d="M237.3 779.0l0-3.1 .1-3.1 0-3.1 0-3 0-3.1 .1-3.1 0-3.1 0-3.1 .1-3 0-3.1 0-3.1 0-3.1 .1-3 0-3.1 0-3.1 .1-3.1 0-3.1 0-3 0-3.1 .1-3.1 0-3.1 0-3 .1-3.1 0-3.1 0-3.1 0-3 .1-3.1 0-3.1 0 3 0 3.1 .1 3 0 3 0 3 .1 3.1 0 3 0 3 .1 3 0 3.1 0 3 0 3 .1 3 0 3.1 0 3 .1 3 0 3.3 0 3.2 .1 3.3 0 3.2 0 3.3 .1 3.2 0 3.3 .1 3.2 0 3.3 .1 3.2 .1 3.3" stroke="#0b0000"/><path d="M239.1 777.0l0 3.2 .1 3.6 .1 3.6 0 3.6 .4-.2 .5-.2" stroke="#200000"/><path d="M240.2 790.6l.6-.5" stroke="#340000"/><path d="M240.8 790.1l.3-.3" stroke="#490000"/><path d="M241.1 789.8l.3-.6" stroke="#340000"/><path d="M241.4 789.2l.5-2.9 .6-4.1 .5-4.2 .6-3.3 .6-1.3 .5 5.2" stroke="#200000"/><path d="M244.7 778.6l.2 3.2" stroke="#340000"/><path d="M244.9 781.8l.2 3.2 .2 3.2" stroke="#490000"/><path d="M245.3 788.2l.5 5.1" stroke="#340000"/><path d="M245.8 793.3l.6-.7 .5-1.7 .6-2.2 .6-2.1 .5-1.3 .3-.2" stroke="#200000"/><path d="M248.9 785.1l.3 .2 .5 1.3" stroke="#340000"/><path d="M249.7 786.6l.6 1.7" stroke="#490000"/><path d="M250.3 788.3l.6 1.3" stroke="#730000"/><path d="M250.9 789.6l.2 .2" stroke="#490000"/><path d="M251.1 789.8l.3-2.5 .3-2.2 0-3.2 0-3.2" stroke="#200000"/><path d="M251.7 778.7l0-3.2 .1-3.2 0-3.2 0-3.2 .1-3.2 0-3.2 0-3.2 0-3.2 .1-3.3 0-3 0-3 .1-3.1 0-3 0-3.1 0-3 .1-3.1 0-3 0-3.1 0-3 .1-3.1 0-3 0-3 0-3.1 .1-3 0-3.1 0-3 0-3.1 .1-3 0-3.1 0 3 .1 3 0 3 0 3 0 3 .1 3 0 3.1 0 3 .1 3 0 3 0 3 0 3 .1 3 0 3 0 3 0 3 .1 3 0 3 0 3 .1 3 0 3 0 3 0 3 .1 3 0 3 .1 3.1 0 3.1 .1 3.1 .1 3 0 3.1" stroke="#0b0000"/><path d="M253.5 779.4l.1 3.1 0 3.1 .2 5.4 .1 2.3 .3-1" stroke="#200000"/><path d="M254.2 792.3l.6-.7 .5-2.5" stroke="#340000"/><path d="M255.3 789.1l.6-3 .5-2.8 .6-2.1 .6-.8 .5 .2 .6 .6 .5 .8 .6 .8" stroke="#200000"/><path d="M259.8 782.8l.6 .7 .5 .4" stroke="#340000"/><path d="M260.9 783.9l.3 0 .3 0 .5-.2 .6-.3 .5-.3" stroke="#200000"/><path d="M263.1 783.1l.6-.2" stroke="#340000"/><path d="M263.7 782.9l.6-.1" stroke="#b20000"/><path d="M264.3 782.8l.5 1.5" stroke="#9d0000"/><path d="M264.8 784.3l.6 2.8 .5 1.5 .6-1.3 .4-2.2 0-3.1 0-3.1" stroke="#200000"/><path d="M266.9 778.9l0-3.2 .1-3.1 0-3.1 0-3.1 0-3.2 .1-3.1 0-3.1 0-3.1 0-3.1 .1-3.1 0-3.1 0-3.1 0-3.2 0-3.1 .1-3.1 0-3.1 0-3.1 0-3.1 .1-3.1 0-3.1 0-3.1 0-3.1 .1-3.1 0-3.1 0-3.1 0-3.2 .1-3.1 0-3.1 0-3.1 0-3.5 .1-3.6 0-3.6 0 3.1 0 3.1 .1 3 0 3.1 0 3.1 0 3.1 .1 3.1 0 3.1 0 3 0 3.1 .1 3.1 0 3.1 0 3.1 0 3 .1 3.1 0 3.1 0 3.1 0 3.1 .1 3.1 0 3 0 3.1 0 3 .1 3.1 0 3.1 0 3 0 3.1 .1 3 0 3.1 .1 3.2 0 3.3 .1 3.2 .1 3.3" stroke="#0b0000"/><path d="M268.7 777.0l0 3.2 .1 3.6 .1 3.6 .1 3.6 .3-1.3 .3-1.1 .2 0 .6 0 .6 0 .5 0 .6 0 .5 0 .6-2.3" stroke="#200000"/><path d="M273.2 786.3l.6-4.8 .5-3.9" stroke="#730000"/><path d="M274.3 777.6l.3-.7 .3 .9 .5 5 .6 5 .3 .8 .2-.5 .6-3.4" stroke="#200000"/><path d="M277.1 784.7l.6-4.1" stroke="#340000"/><path d="M277.7 780.6l.5-1.9" stroke="#490000"/><path d="M278.2 778.7l.6 1.2" stroke="#200000"/><path d="M278.8 779.9l.5 2.5" stroke="#340000"/><path d="M279.3 782.4l.6 2.2 .4 .5 0-3.2 0-3.1" stroke="#200000"/><path d="M280.3 778.8l0-3.2 .1-3.2 0-3.1 0-3.2 .1-3.2 0-3 0-3 0-3 .1-3.1 0-3 0-3 0-3 .1-3 0-3.1 0-3 .1-3 0-3 0-3 0-3.1 .1-3 0-3 0-3 0-3 .1-3.1 0-3 0-3 0-3.2 .1-3.1 0-3.2 0 3.1 .1 3.2 0 3.1 0 3.2 .1 3.1 0 3.2 0 3.1 0 3.2 .1 3.1 0 3.1 0 3.2 .1 3.1 0 3.2 0 3.1 0 3.2 .1 3.1 0 3.4 0 3.4 .1 3.4 0 3.4 0 3.3 .1 3.4 0 3.4 .1 3.2 0 3.3 .1 3.2 .1 3.3" stroke="#0b0000"/><path d="M282.1 777.0l0 3.2 .1 3.6 .1 3.6 .1 3.6 .3-.7" stroke="#200000"/><path d="M282.7 790.3l.6-.5 .5-1.5" stroke="#340000"/><path d="M283.8 788.3l.3-.8 .3-1.1 .5-3.2 .6-4 .5-4 .6-3" stroke="#200000"/><path d="M286.6 772.2l.6-1.2" stroke="#340000"/><path d="M287.2 771.0l.5 2.4" stroke="#490000"/><path d="M287.7 773.4l.6 5.3 .5 5.2 .6 2.4" stroke="#340000"/><path d="M289.4 786.3l.6-1.2 .5-2.3 .6-1.2 .5 1.2 .6 2.3" stroke="#200000"/><path d="M292.2 785.1l.5 1.2 .6-.7" stroke="#5e0000"/><path d="M293.3 785.6l.6-1.4 .5-1.2 .3-.2 .3 .7 .5 3.8 .6 2.5 .4-4.7 0-3 0-3" stroke="#200000"/><path d="M296.5 779.1l0-3.1 .1-3 0-3 0-3.1 .1-3 0-3 0-3.1 0-3 .1-3 0-3 0-3.1 .1-3 0-3 0-3.1 0-3 .1-3 0-3.1 0-3 .1-3 0-3 0-3.1 0-3 .1-3 0-3.1 0-3 0-3 .1-3.1 0-3 0 3.2 .1 3.1 0 3.2 0 3.2 .1 3.1 0 3.2 0 3.2 .1 3.1 0 3.2 0 3.1 0 3.2 .1 3.2 0 3.1 0 3.2 .1 3.2 0 3.2 0 3.1 .1 3.2 0 3.2 0 3.2 .1 3.2 0 3.2 0 3.3 .1 3.2 0 3.3 0 3.2" stroke="#0b0000"/><path d="M298.1 777.0l.1 3.3 0 3.3 .1 3.2 0 3.3 0 3.2 .3-2.3 .3-.6 .6-1 .5-.8 .6-1.5 .5-2.2 .6-2.3" stroke="#200000"/><path d="M301.7 782.6l.5-2 .6-1.2" stroke="#9d0000"/><path d="M302.8 779.4l.3-.1" stroke="#340000"/><path d="M303.1 779.3l.3 .1 .5 .6 .6 .9 .5 .6 .3 .1 .3-.1" stroke="#200000"/><path d="M305.6 781.5l.6-.3 .5-.4" stroke="#340000"/><path d="M306.7 780.8l.6-.3 .3-.1 .2 0 .6 0 .5 0 .6 0 .6 0 .5 0 .6 0" stroke="#200000"/><path d="M311.2 780.4l.5 0 .6 0" stroke="#340000"/></g><path d="M32.55 806.23v-3.00M32.55 653.74v3.00M43.75 806.23v-1.80M43.75 653.74v1.80M54.94 806.23v-1.80M54.94 653.74v1.80M66.14 806.23v-1.80M66.14 653.74v1.80M77.33 806.23v-1.80M77.33 653.74v1.80M88.53 806.23v-3.00M88.53 653.74v3.00M99.73 806.23v-1.80M99.73 653.74v1.80M110.92 806.23v-1.80M110.92 653.74v1.80M122.12 806.23v-1.80M122.12 653.74v1.80M133.31 806.23v-1.80M133.31 653.74v1.80M144.51 806.23v-3.00M144.51 653.74v3.00M155.71 806.23v-1.80M155.71 653.74v1.80M166.90 806.23v-1.80M166.90 653.74v1.80M178.10 806.23v-1.80M178.10 653.74v1.80M189.29 806.23v-1.80M189.29 653.74v1.80M200.49 806.23v-3.00M200.49 653.74v3.00M211.69 806.23v-1.80M211.69 653.74v1.80M222.88 806.23v-1.80M222.88 653.74v1.80M234.08 806.23v-1.80M234.08 653.74v1.80M245.27 806.23v-1.80M245.27 653.74v1.80M256.47 806.23v-3.00M256.47 653.74v3.00M267.67 806.23v-1.80M267.67 653.74v1.80M278.86 806.23v-1.80M278.86 653.74v1.80M290.06 806.23v-1.80M290.06 653.74v1.80M301.25 806.23v-1.80M301.25 653.74v1.80M312.45 806.23v-3.00M312.45 653.74v3.00M32.55 806.23h1.80M312.45 806.23h-1.80M32.55 800.37h1.80M312.45 800.37h-1.80M32.55 794.50h3.00M312.45 794.50h-3.00M32.55 788.63h1.80M312.45 788.63h-1.80M32.55 782.77h1.80M312.45 782.77h-1.80M32.55 776.90h1.80M312.45 776.90h-1.80M32.55 771.04h3.00M312.45 771.04h-3.00M32.55 765.17h1.80M312.45 765.17h-1.80M32.55 759.31h1.80M312.45 759.31h-1.80M32.55 753.45h1.80M312.45 753.45h-1.80M32.55 747.58h3.00M312.45 747.58h-3.00M32.55 741.72h1.80M312.45 741.72h-1.80M32.55 735.85h1.80M312.45 735.85h-1.80M32.55 729.99h1.80M312.45 729.99h-1.80M32.55 724.12h3.00M312.45 724.12h-3.00M32.55 718.25h1.80M312.45 718.25h-1.80M32.55 712.39h1.80M312.45 712.39h-1.80M32.55 706.52h1.80M312.45 706.52h-1.80M32.55 700.66h3.00M312.45 700.66h-3.00M32.55 694.79h1.80M312.45 694.79h-1.80M32.55 688.93h1.80M312.45 688.93h-1.80M32.55 683.06h1.80M312.45 683.06h-1.80M32.55 677.20h3.00M312.45 677.20h-3.00M32.55 671.34h1.80M312.45 671.34h-1.80M32.55 665.47h1.80M312.45 665.47h-1.80M32.55 659.61h1.80M312.45 659.61h-1.80M32.55 653.74h3.00M312.45 653.74h-3.00" stroke="#222" stroke-width="0.9" fill="none"/><rect x="33.00" y="654.00" width="279.50" height="152.50" fill="none" stroke="#4c4c4c" stroke-width="1.0" stroke-linejoin="round"/><text x="29.55" y="798.60" text-anchor="end" class="tk">0.0</text><text x="29.55" y="775.14" text-anchor="end" class="tk">0.2</text><text x="29.55" y="751.68" text-anchor="end" class="tk">0.4</text><text x="29.55" y="728.22" text-anchor="end" class="tk">0.6</text><text x="29.55" y="704.76" text-anchor="end" class="tk">0.8</text><text x="29.55" y="681.30" text-anchor="end" class="tk"><tspan class="hid">1</tspan>.0</text><polygon points="17.89,674.21 18.72,674.21 18.72,681.30 17.82,681.30 17.82,675.06 16.22,676.21 16.22,675.39" class="tk one"/><text x="29.55" y="657.84" text-anchor="end" class="tk"><tspan class="hid">1</tspan>.2</text><polygon points="17.89,650.75 18.72,650.75 18.72,657.84 17.82,657.84 17.82,651.60 16.22,652.75 16.22,651.93" class="tk one"/><text x="32.55" y="817.23" text-anchor="middle" class="tk">0.0</text><text x="88.53" y="817.23" text-anchor="middle" class="tk">2.0</text><text x="144.51" y="817.23" text-anchor="middle" class="tk">4.0</text><text x="200.49" y="817.23" text-anchor="middle" class="tk">6.0</text><text x="256.47" y="817.23" text-anchor="middle" class="tk">8.0</text><text x="312.45" y="817.23" text-anchor="middle" class="tk"><tspan class="hid">1</tspan>0.0</text><polygon points="305.09,810.14 305.92,810.14 305.92,817.23 305.01,817.23 305.01,810.99 303.42,812.14 303.42,811.32" class="tk one"/><text x="172.50" y="831.33" text-anchor="middle" class="ax">Time / s</text><text transform="translate(9.05 729.69) rotate(-90)" text-anchor="middle" class="ax">Amplitude / a.u.</text><text transform="translate(160.70 857.30) scale(1.115 1)" text-anchor="middle" class="cap">(g) Short-term, AF classification</text><clipPath id="clip13"><rect x="365.17" y="653.74" width="279.20" height="152.49"/></clipPath><rect x="365.17" y="653.74" width="279.20" height="152.49" fill="#dcdcdc"/><path d="M421.01 653.74V806.23M476.85 653.74V806.23M532.69 653.74V806.23M588.53 653.74V806.23M365.17 794.50H644.37M365.17 771.04H644.37M365.17 747.58H644.37M365.17 724.12H644.37M365.17 700.66H644.37M365.17 677.20H644.37" stroke="#b0b0b0" stroke-width="0.8" fill="none"/><g fill="none" stroke-width="1.80" stroke-linejoin="bevel" stroke-linecap="round" clip-path="url(#clip13)"><path d="M365.6 779.8l.6-.4 .5-1.4" stroke="#5e0000"/><path d="M366.7 778.0l.3-1.1 .3-5.6 .1-3.5 .2-3.6 .1-3.5 .1-3.5 .2 4 .2 4 .2 3.9 .1 3.7 .2 3.8 .1 3 .2 3.1 .2 3.4 .3-.1" stroke="#340000"/><path d="M369.5 786.0l.6-.4 .5-.6 .6-.4" stroke="#490000"/><path d="M371.2 784.6l.3-.1" stroke="#5e0000"/><path d="M371.5 784.5l.2 1" stroke="#730000"/><path d="M371.7 785.5l.6 2.8" stroke="#5e0000"/><path d="M372.3 788.3l.6-1.6 .5-3.4 .6-3.4 .5-1.6" stroke="#340000"/><path d="M374.5 778.3l.6 1.6" stroke="#490000"/><path d="M375.1 779.9l.5 3.6" stroke="#730000"/><path d="M375.6 783.5l.6 4" stroke="#880000"/><path d="M376.2 787.5l.6 2.8" stroke="#490000"/><path d="M376.8 790.3l.2 .4 .3-.4 .6-2.6 .5-3.4 .6-2.6 .3-.5" stroke="#340000"/><path d="M379.3 781.2l.2 .4 .6 2.3 .6 3.1 .5 2.3 .3 .4 .3-.2" stroke="#490000"/><path d="M381.8 789.5l.5-1.9 .4-2.5 .1-3.3 0-3.3 0-3.3 0-3.3 .1-3.3 0-3.4" stroke="#340000"/><path d="M382.9 765.2l0-3 0-3 .1-3 0-3 0-3" stroke="#490000"/><path d="M383.0 750.2l0-3 .1-3 0-3 0-3.1 0-3 .1-3" stroke="#730000"/><path d="M383.2 732.1l0-3 0-3 0-3 .1-3 0-3" stroke="#9d0000"/><path d="M383.3 717.1l0-3 0-3 .1-3.1 0-3 0-3" stroke="#c70000"/><path d="M383.4 702.0l0-3 .1-3.3 0-3.3 0-3.3 .1-3.3 0 3.1 0 3.1 0 3.2 .1 3.1 0 3.1" stroke="#f10000"/><path d="M383.7 701.4l0 3.1 .1 3.2 0 3.1 0 3.1 0 3.2" stroke="#c70000"/><path d="M383.8 717.1l.1 3.1 0 3.1 0 3.1 .1 3.2 0 3.1" stroke="#9d0000"/><path d="M384.0 732.7l0 3.1 0 3.2 .1 3.1 0 3.1 0 3.2" stroke="#730000"/><path d="M384.1 748.4l0 3.1 .1 3.1 0 3.1 0 3.2 .1 3.1" stroke="#490000"/><path d="M384.3 764.0l0 3.7 .1 3.7 .1 3.7 .1 3.7" stroke="#340000"/><path d="M384.6 778.8l0 3.1" stroke="#490000"/><path d="M384.6 781.9l.1 3 .1 3 0 3.1" stroke="#5e0000"/><path d="M384.8 791.0l.3 .3 .6 .6" stroke="#880000"/><path d="M385.7 791.9l.5-.5" stroke="#5e0000"/><path d="M386.2 791.4l.3-.4" stroke="#340000"/><path d="M386.5 791.0l.3-.8 .5-3.4" stroke="#490000"/><path d="M387.3 786.8l.6-4.4 .6-4.2" stroke="#340000"/><path d="M388.5 778.2l.5-2.8" stroke="#490000"/><path d="M389.0 775.4l.3-.4" stroke="#730000"/><path d="M389.3 775.0l.3 .5" stroke="#5e0000"/><path d="M389.6 775.5l.5 2.9" stroke="#490000"/><path d="M390.1 778.4l.6 4.2" stroke="#5e0000"/><path d="M390.7 782.6l.6 3.7" stroke="#490000"/><path d="M391.3 786.3l.5 1.6 .6-1.5 .5-3.3 .6-3.3 .5-1.5" stroke="#340000"/><path d="M394.0 778.3l.6 2.3" stroke="#490000"/><path d="M394.6 780.6l.6 2.5" stroke="#5e0000"/><path d="M395.2 783.1l.5 .5" stroke="#490000"/><path d="M395.7 783.6l.6 .2 .5 .2 .6 .3 .3 .2 .2 1" stroke="#340000"/><path d="M397.9 785.5l.6 3.4" stroke="#490000"/><path d="M398.5 788.9l.3 .8" stroke="#730000"/><path d="M398.8 789.7l.2-4.6" stroke="#880000"/><path d="M399.0 785.1l0-3.3 .1-3.3" stroke="#730000"/><path d="M399.1 778.5l0-3.1 0-3 0-3 .1-3 0-3" stroke="#340000"/><path d="M399.2 763.4l0-3.1 0-3 .1-3 0-3 0-3" stroke="#490000"/><path d="M399.3 748.3l0-3.1 .1-3 0-3 0-3 0-3.1" stroke="#730000"/><path d="M399.4 733.1l.1-3 0-3 0-3 0-3 .1-3.1" stroke="#880000"/><path d="M399.6 718.0l0-3 0-3 0-3.3 .1-3.3 0-3.4" stroke="#9d0000"/><path d="M399.7 702.0l0-3.3 0-3.3 .1-3.3 0-3.4 0-3.3 .1 3.2 0 3.1 0 3.1 0 3.2 .1 3.1" stroke="#c70000"/><path d="M400.0 701.1l0 3.2 0 3.1 .1 3.2 0 3.1 0 3.1" stroke="#9d0000"/><path d="M400.1 716.8l0 3.2 .1 3.1 0 3.2 0 3.1 0 3.2" stroke="#880000"/><path d="M400.2 732.6l.1 3.1 0 3.2 0 3.1 .1 3.1 0 3.2" stroke="#730000"/><path d="M400.4 748.3l0 3.1 0 3.2 .1 3.1 0 3.2 0 3.1" stroke="#490000"/><path d="M400.5 764.0l.1 3.1 .1 3.2 0 3.1 .1 3.6" stroke="#340000"/><path d="M400.8 777.0l.1 3.5 0 3.5" stroke="#490000"/><path d="M400.9 784.0l.1 3.5 .1 3.5 .2-.3 .3-.3 .2-1.9 .6-4.6 .6 2.1 .5 3.2" stroke="#340000"/><path d="M403.5 789.2l.3 .6" stroke="#490000"/><path d="M403.8 789.8l.3-.9" stroke="#5e0000"/><path d="M404.1 788.9l.5-5.6" stroke="#730000"/><path d="M404.6 783.3l.3-3.8" stroke="#490000"/><path d="M404.9 779.5l.3-3.7 .5-5.6 .3-.9 .3 .6 .6 3.9 .5 6 .6 6" stroke="#340000"/><path d="M408.0 785.8l.5 4" stroke="#5e0000"/><path d="M408.5 789.8l.3 .6 .3-.6 .5-3.3 .6-4.1" stroke="#490000"/><path d="M410.2 782.4l.6-2 .5 3.6 .2 1.1 0-3.2 0-3.1 .1-3.2 0-3.2 0-3.2 0-3.1 .1-3.2" stroke="#340000"/><path d="M411.7 762.9l0-3.2 0-3.2 0-3.1 .1-3.2 0-3.2" stroke="#5e0000"/><path d="M411.8 747.0l0-3.2 0-3.1 .1-3.2 0-3 0-3.1" stroke="#880000"/><path d="M411.9 731.4l0-3 .1-3 0-3 0-3.1 0-3" stroke="#b20000"/><path d="M412.0 716.3l.1-3 0-3 0-3 0-3.1 .1-3 0-3" stroke="#dc0000"/><path d="M412.2 698.2l0-3 0-3.1 .1-3 0-3 0-3 0 3.2 .1 3.2 0 3.3 0 3.2 .1 3.1" stroke="#ff0700"/><path d="M412.5 699.1l0 3.1 0 3.1 0 3 .1 3.1 0 3.1" stroke="#dc0000"/><path d="M412.6 714.5l0 3.1 0 3.1 .1 3.1 0 3 0 3.1 0 3.1" stroke="#b20000"/><path d="M412.7 733.0l.1 3.1 0 3.1 0 3.1 0 3 .1 3.1" stroke="#880000"/><path d="M412.9 748.4l0 3.1 0 3.1 .1 3.1 0 3.1 0 3.2" stroke="#5e0000"/><path d="M413.0 764.0l.1 3.2 0 3.2 .1 3.2 .1 3.2" stroke="#340000"/><path d="M413.3 776.8l0 3.2 .1 3.2" stroke="#730000"/><path d="M413.4 783.2l.1 3.2 0 3.2" stroke="#880000"/><path d="M413.5 789.6l.1 1.4" stroke="#9d0000"/><path d="M413.6 791.0l.5 .8" stroke="#880000"/><path d="M414.1 791.8l.6 1.1" stroke="#5e0000"/><path d="M414.7 792.9l.2 .1 .3-.4 .6-2.5 .5-4.1 .6-4.5" stroke="#340000"/><path d="M416.9 781.5l.5-4.1" stroke="#490000"/><path d="M417.4 777.4l.6-2.5 .3-.3" stroke="#5e0000"/><path d="M418.3 774.6l.3 .2" stroke="#490000"/><path d="M418.6 774.8l.5 1.7 .6 2.5 .5 2.4 .6 1.4 .5 .4 .6 .3 .6 .4" stroke="#340000"/><path d="M422.5 783.9l.5 1.5" stroke="#5e0000"/><path d="M423.0 785.4l.6 2.3" stroke="#730000"/><path d="M423.6 787.7l.5 1.7" stroke="#5e0000"/><path d="M424.1 789.4l.3 .3 .3-.6 .5-3.1 .6-2.1 .3 1.2 .1-3.4 0-3.3 0-3.4 0-3.4 .1-3.3 0-3.4 0-3.4 .1-3.3 0-3.1 0-3.1 0-3 .1-3.1 0-3.1 0-3 0-3.1 .1-3.1 0-3 0-3.1 0-3.1 .1-3 0-3.1 0-3 0-3.1 .1-3.1 0-3 0-3.1 0-3.1 .1-3 0-3.1 0-3.1 0-3.3 .1-3.4 0 3 0 3.1 0 3 .1 3 0 3.1 0 3 .1 3 0 3.1 0 3 0 3 .1 3.1 0 3 0 3 0 3 .1 3.1 0 3 0 3 0 3.1 .1 3 0 3.2 0 3.2 .1 3.2 0 3.2 0 3.2 0 3.2 .1 3.2 0 3.5 .1 3.5 .1 3.5 .1 3.5" stroke="#340000"/><path d="M428.0 778.0l0 3.5" stroke="#5e0000"/><path d="M428.0 781.5l.1 3.2 .1 3.1 0 3.2 .4 1.4 .5-.5" stroke="#490000"/><path d="M429.1 791.9l.6-1 .6-1.2 .5-1.5 .6-2 .5-2.1" stroke="#340000"/><path d="M431.9 784.1l.6-1.8" stroke="#490000"/><path d="M432.5 782.3l.5-1.1" stroke="#5e0000"/><path d="M433.0 781.2l.3-.2" stroke="#490000"/><path d="M433.3 781.0l.3 .1 .6 .8 .5 1.2 .6 1 .5 .4" stroke="#340000"/><path d="M435.8 784.5l.6-.5" stroke="#490000"/><path d="M436.4 784.0l.5-1.4 .6-1.7" stroke="#730000"/><path d="M437.5 780.9l.6-1.6" stroke="#490000"/><path d="M438.1 779.3l.5-1.1" stroke="#ff3000"/><path d="M438.6 778.2l.3-.1 .3 .8" stroke="#ffff04"/><path d="M439.2 778.9l.5 4.3" stroke="#ff1c00"/><path d="M439.7 783.2l.6 2.9" stroke="#340000"/><path d="M440.3 786.1l.5-1.4" stroke="#490000"/><path d="M440.8 784.7l.6-2.8 .6-2.3" stroke="#5e0000"/><path d="M442.0 779.6l.2-.3 .3 .5" stroke="#730000"/><path d="M442.5 779.8l.6 3.1" stroke="#5e0000"/><path d="M443.1 782.9l.5 2 .1 .2 0-3 0-3 .1-3.1 0-3 0-3 .1-3.1 0-3 0-3 0-3.1 .1-3 0-3" stroke="#340000"/><path d="M444.0 751.8l0-3 0-3.1 .1-3 0-3 0-3.1" stroke="#490000"/><path d="M444.1 736.6l.1-3 0-3 0-3.1 0-3 .1-3" stroke="#5e0000"/><path d="M444.3 721.5l0-3 0-3.1 .1-3 0-3" stroke="#730000"/><path d="M444.4 709.4l0-3.1 0-3 .1-3 0-3.1 0-3 .1 3.2 0 3.2 0 3.2 0 3.2 .1 3.2" stroke="#880000"/><path d="M444.7 710.2l0 3.2 0 3.1 .1 3.2 0 3.2" stroke="#730000"/><path d="M444.8 722.9l0 3.1 .1 3.2 0 3.2 0 3.1 .1 3.2" stroke="#5e0000"/><path d="M445.0 738.7l0 3.2 0 3.1 .1 3.2 0 3.1" stroke="#490000"/><path d="M445.1 751.3l0 3.2 .1 3.2 0 3.1 0 3.2 .1 4 .1 3.3 0 3.3 .1 3.3 .1 3.3 0 3.2 .1 3.3 .1 3.3 .1-1.6" stroke="#340000"/><path d="M445.9 789.4l.2-5.5" stroke="#490000"/><path d="M446.1 783.9l.3 .2 .6 1.1" stroke="#5e0000"/><path d="M447.0 785.2l.5 1.5 .6 1.1 .3 .1 .2-.3 .6-2.3 .6-3.6" stroke="#340000"/><path d="M449.8 781.7l.5-3.8" stroke="#490000"/><path d="M450.3 777.9l.6-3 .5-1.3" stroke="#5e0000"/><path d="M451.4 773.6l.6 4.4" stroke="#730000"/><path d="M452.0 778.0l.3 3.4" stroke="#880000"/><path d="M452.3 781.4l.2 3.4" stroke="#5e0000"/><path d="M452.5 784.8l.3 1.3 .3-.2 .6-1.3 .5-1.8 .6-1.7" stroke="#340000"/><path d="M454.8 781.1l.5-.7" stroke="#490000"/><path d="M455.3 780.4l.6 1 .5 1.4" stroke="#730000"/><path d="M456.4 782.8l.6 .6" stroke="#490000"/><path d="M457.0 783.4l.6 .6 .5 .5 .6 .4 .5 .2 .3 0" stroke="#340000"/><path d="M459.5 785.1l.1-3.1 0-3.2" stroke="#490000"/><path d="M459.6 778.8l0-3.1 0-3.1 .1-3.2 0-3.1 0-3.1 .1-3.2 0-3.1 0-3.1 0-3.2 .1-3.1 0-3.1 0-3.2 .1-3.1 0-3.2" stroke="#340000"/><path d="M460.0 734.9l0-3.1 0-3.1 .1-3.2 0-3.1 0-3.1 0-3.2 .1-3.1 0-3.1 0-3.2" stroke="#490000"/><path d="M460.2 706.7l.1-3.1 0-3.2 0-3.1 0-3.1 .1-3.2 0 3.1 0 3.1 .1 3.1 0 3.1 0 3" stroke="#5e0000"/><path d="M460.5 706.4l0 3.1 .1 3.1 0 3.1 0 3.1 .1 3 0 3.1 0 3.1 .1 3.1 0 3.1 0 3" stroke="#490000"/><path d="M460.8 737.2l0 3.1 .1 3.1 0 3.1 0 3.5 .1 3.5 0 3.5 0 3.5 .1 3.5 0 3.1 .1 3.2 .1 3.1 0 3.2" stroke="#340000"/><path d="M461.3 776.6l.1 3.1 .1 3.2 0 4 .1 4.1" stroke="#5e0000"/><path d="M461.6 791.0l.4-4.1" stroke="#490000"/><path d="M462.0 786.9l.3-3 .3 .5 .5 2.7 .6 3.2 .5 1.6" stroke="#340000"/><path d="M464.2 791.9l.6-2.6" stroke="#490000"/><path d="M464.8 789.3l.6-5.8 .5-5.8" stroke="#880000"/><path d="M465.9 777.7l.6-2.7" stroke="#5e0000"/><path d="M466.5 775.0l.5 1.5" stroke="#490000"/><path d="M467.0 776.5l.6 3.4 .5 4.2 .6 3.4" stroke="#340000"/><path d="M468.7 787.5l.6 1.5" stroke="#490000"/><path d="M469.3 789.0l.5-.8" stroke="#5e0000"/><path d="M469.8 788.2l.6-1.8 .5-2 .6-1.4" stroke="#490000"/><path d="M471.5 783.0l.3-.2 .2 .9 .6 5.2 .6 3.3 .1-3.6 .1-3.5 0-3 .1-3 0-3 0-3.1 0-3 .1-3" stroke="#340000"/><path d="M473.6 767.0l0-3 0-3 .1-3.1 0-3 0-3" stroke="#490000"/><path d="M473.7 751.9l0-3 .1-3 0-3 0-3.1 .1-3" stroke="#5e0000"/><path d="M473.9 736.8l0-3 0-3 0-3 .1-3.1 0-3" stroke="#730000"/><path d="M474.0 721.7l0-3 .1-3 0-3 0-3" stroke="#880000"/><path d="M474.1 709.7l0-3.1 .1-3 0-3 0-3 0-3" stroke="#9d0000"/><path d="M474.2 694.6l.1 2.7" stroke="#b20000"/><path d="M474.3 697.3l0 3.1 0 3.1 .1 3.1 0 3.1" stroke="#9d0000"/><path d="M474.4 709.7l0 3.1 .1 3.1 0 3 0 3.1" stroke="#880000"/><path d="M474.5 722.0l.1 3.1 0 3.1 0 3.1 0 3.1 .1 3.1" stroke="#730000"/><path d="M474.7 737.5l0 3 0 3.1 .1 3.1 0 3.1 0 3.1" stroke="#5e0000"/><path d="M474.8 752.9l.1 3.7 0 3.7 0 3.7 .1 3.1" stroke="#490000"/><path d="M475.0 767.1l.1 3.1 0 3.1 .1 3 .1 3.1" stroke="#340000"/><path d="M475.3 779.4l0 3.1" stroke="#730000"/><path d="M475.3 782.5l.1 3.1 .1 5.4" stroke="#5e0000"/><path d="M475.5 791.0l.4-.6" stroke="#490000"/><path d="M475.9 790.4l.6 .4 .6 .8 .5 .8 .6 .3" stroke="#340000"/><path d="M478.2 792.7l.5-3.6" stroke="#5e0000"/><path d="M478.7 789.1l.3-3.7" stroke="#880000"/><path d="M479.0 785.4l.3-3.7" stroke="#730000"/><path d="M479.3 781.7l.3-3.1 .2-3 .3-1" stroke="#5e0000"/><path d="M480.1 774.6l.3 1.3 .3 3.8" stroke="#730000"/><path d="M480.7 779.7l.3 3.9" stroke="#5e0000"/><path d="M481.0 783.6l.2 3.8 .3 3.9 .3 1.3 .3-.5 .5-3.4 .6-4.4 .5-2.7" stroke="#340000"/><path d="M483.7 781.6l.6-.9 .6-.8" stroke="#5e0000"/><path d="M484.9 779.9l.5-.5" stroke="#490000"/><path d="M485.4 779.4l.6-.1 .5 2.1 .6 3.9 .5 2.2" stroke="#340000"/><path d="M487.6 787.5l.6-.6" stroke="#490000"/><path d="M488.2 786.9l.6-1.8 0-3.1 0-3.1" stroke="#5e0000"/><path d="M488.8 778.9l0-3.2 .1-3.1 0-3.1 0-3.1" stroke="#340000"/><path d="M488.9 766.4l.1-3.2 0-3.1 0-3.1 .1-3.1 0-3.1" stroke="#490000"/><path d="M489.1 750.8l0-3.2 0-3.1 .1-3.1 0-3.1" stroke="#730000"/><path d="M489.2 738.3l0-3.2 .1-3.1 0-3.1 0-3.1" stroke="#9d0000"/><path d="M489.3 725.8l0-3.3 .1-3.3 0-3.3 0-3.3 .1-3.3" stroke="#c70000"/><path d="M489.5 709.3l0-3.3 0-3.3 .1-3.3 0-3.3 0 3 .1 3 0 3 0 3.1 .1 3" stroke="#f10000"/><path d="M489.8 711.2l0 3 0 3 0 3 .1 3.1" stroke="#c70000"/><path d="M489.9 723.3l0 3.1 0 3.1 .1 3.2 0 3.1 0 3.1" stroke="#9d0000"/><path d="M490.0 738.9l.1 3.2 0 3.1 0 3.1 .1 3.2" stroke="#730000"/><path d="M490.2 751.5l0 3.1 0 3.1 .1 3.2 0 3.1 .1 3.4" stroke="#490000"/><path d="M490.4 767.4l0 3.3 .1 3.4 .1 3.4 0 3.4 .1 3.3 .1 3.4 .1 3.4 .1 .1 .5 .7 .6 .1" stroke="#340000"/><path d="M492.1 791.9l.6-.9 .5-2.4" stroke="#490000"/><path d="M493.2 788.6l.6-3.2" stroke="#730000"/><path d="M493.8 785.4l.5-3.4" stroke="#880000"/><path d="M494.3 782.0l.6-2.9" stroke="#5e0000"/><path d="M494.9 779.1l.5-1.7 .3-.3 .3 .5 .6 3 .5 4.3 .6 3.8" stroke="#340000"/><path d="M497.7 788.7l.5 1.7 .6-1.2" stroke="#490000"/><path d="M498.8 789.2l.5-2.6 .6-2.6 .6-1.2 .5 .5 .6 1.1 .5 1.4" stroke="#340000"/><path d="M502.1 785.8l.6 1.2" stroke="#490000"/><path d="M502.7 787.0l.5 .5" stroke="#5e0000"/><path d="M503.2 787.5l.6-.8" stroke="#880000"/><path d="M503.8 786.7l.4-1.6" stroke="#5e0000"/><path d="M504.2 785.1l.1-3.6 0-3.6" stroke="#490000"/><path d="M504.3 777.9l0-3.6 0-3.6 .1-3.6 0-3.1" stroke="#340000"/><path d="M504.4 764.0l0-3.1 0-3.2 .1-3.1 0-3.1 0-3.1 0-3.2" stroke="#5e0000"/><path d="M504.5 745.2l.1-3.1 0-3.1 0-3.2 0-3.1 .1-3.1" stroke="#730000"/><path d="M504.7 729.6l0-3.1 0-3.2 0-3.1 .1-3.1 0-3.1 0-3.2" stroke="#9d0000"/><path d="M504.8 710.8l0-3.1 0-3.1 .1-3.2 0-3.1 0-3.1" stroke="#c70000"/><path d="M504.9 695.2l0-3.6 .1-3.6 0-3.6 0-3.6 .1-3.6 0 3.1 0 3 0 3.1 .1 3.1 0 3 0 3.1" stroke="#f10000"/><path d="M505.2 695.6l0 3 .1 3.1 0 3.1 0 3 0 3.1" stroke="#c70000"/><path d="M505.3 710.9l.1 3.1 0 3 0 3.1 0 3.1 .1 3 0 3.1" stroke="#9d0000"/><path d="M505.5 729.3l0 3.1 0 3.2 .1 3.2 0 3.1 0 3.2" stroke="#730000"/><path d="M505.6 745.1l0 3.1 .1 3.2 0 3.1 0 3.2 0 3.1 .1 3.2" stroke="#5e0000"/><path d="M505.8 764.0l0 3.4 .1 3.3 .1 3.4 0 3.4 .1 3.4 .1 3.3 0 3.4 .1 3.4 .3 0 .3 0" stroke="#340000"/><path d="M506.9 791.0l.2-.2" stroke="#5e0000"/><path d="M507.1 790.8l.6-1.6" stroke="#730000"/><path d="M507.7 789.2l.6-2.6" stroke="#5e0000"/><path d="M508.3 786.6l.5-3.2 .6-3.4" stroke="#490000"/><path d="M509.4 780.0l.5-2.9 .6-2.2 .5-.8 .6 2.3 .6 5" stroke="#340000"/><path d="M512.2 781.4l.5 5" stroke="#490000"/><path d="M512.7 786.4l.6 2.2" stroke="#5e0000"/><path d="M513.3 788.6l.5-2.1" stroke="#490000"/><path d="M513.8 786.5l.6-3.9 .5-2.2 .6 .9 .6 2.1" stroke="#340000"/><path d="M516.1 783.4l.5 2" stroke="#490000"/><path d="M516.6 785.4l.6 .9" stroke="#880000"/><path d="M517.2 786.3l.5-2.5" stroke="#730000"/><path d="M517.7 783.8l.6-3.8 .3-.7 .2 2.4" stroke="#5e0000"/><path d="M518.8 781.7l.3 3.5" stroke="#490000"/><path d="M519.1 785.2l.3 3.4 .4-3.5 0-3.4 .1-3.3 0-3.4 0-3.4 0-3.4 .1-3.4 0-3 0-3.1 0-3.1 .1-3 0-3.1 0-3.1 0-3.1 .1-3 0-3.1 0-3.1 0-3 .1-3.1 0-3.1 0-3 0-3.1 .1-3.1" stroke="#340000"/><path d="M520.4 715.7l0-3.1 0-3 0-3.1 .1-3.1 0-3 0-3.1 0-3.4 .1-3.4 0-3.4 0-3.3 .1 3 0 3 0 3 0 3.1 .1 3 0 3 0 3 0 3 .1 3.1 0 3 0 3" stroke="#490000"/><path d="M520.9 717.0l0 3 .1 3 0 3.1 0 3 .1 3 0 3 0 3.2 0 3.2 .1 3.2 0 3.3 0 3.2 0 3.2 .1 3.2 0 3.2 0 3.2 .1 3.7 .1 3.7 .1 3.7 0 3.7" stroke="#340000"/><path d="M521.6 778.8l.1 3.1 .1 3 0 3 .1 3.1" stroke="#490000"/><path d="M521.9 791.0l.3-.1 .6 0" stroke="#5e0000"/><path d="M522.8 790.9l.5-.2" stroke="#490000"/><path d="M523.3 790.7l.6-.2 .2-.1 .3-.7 .6-3.7 .5-5.2 .6-4.7" stroke="#340000"/><path d="M526.1 776.1l.6-2 .5 3.1" stroke="#5e0000"/><path d="M527.2 777.2l.6 5.2" stroke="#490000"/><path d="M527.8 782.4l.2 1.5" stroke="#340000"/><path d="M528.0 783.9l.3 .8" stroke="#490000"/><path d="M528.3 784.7l.6 1.2 .5 1 .6 .5" stroke="#340000"/><path d="M530.0 787.4l.3 .1" stroke="#490000"/><path d="M530.3 787.5l.3-.2 .5-1.3 .6-2.1" stroke="#5e0000"/><path d="M531.7 783.9l.5-2.2" stroke="#880000"/><path d="M532.2 781.7l.6-1.7" stroke="#5e0000"/><path d="M532.8 780.0l.5-.7 .6 2.5 .6 5.3 .5 4.3 .3 .8" stroke="#340000"/><path d="M535.3 792.2l.3-.7" stroke="#490000"/><path d="M535.6 791.5l.5-5.4" stroke="#5e0000"/><path d="M536.1 786.1l.2-1 0-3 0-3.1" stroke="#730000"/><path d="M536.3 779.0l0-3 .1-3 0-3.1 0-3 0-3" stroke="#340000"/><path d="M536.4 763.9l.1-3.1 0-3 0-3 0-3.1 .1-3" stroke="#490000"/><path d="M536.6 748.7l0-3 0-3.1 .1-3 0-3 0-3.1" stroke="#730000"/><path d="M536.7 733.5l0-3 .1-3.1 0-3 0-3 0-3.1" stroke="#9d0000"/><path d="M536.8 718.3l.1-3 0-3 0-3.1 0-3 .1-3" stroke="#c70000"/><path d="M537.0 703.2l0-3.1 0-3 0-3 .1-3.1 0-3 0 3 .1 3.1 0 3 0 3.1 0 3" stroke="#f10000"/><path d="M537.2 703.2l.1 3 0 3.1 0 3 0 3.1 .1 3" stroke="#c70000"/><path d="M537.4 718.4l0 3 0 3.1 .1 3 0 3.1 0 3" stroke="#9d0000"/><path d="M537.5 733.6l0 3 .1 3.1 0 3 0 3.1 .1 3" stroke="#730000"/><path d="M537.7 748.8l0 3 0 3.1 0 3 .1 3.1 0 3 0 0" stroke="#490000"/><path d="M537.8 764.0l.1 3.4 0 3.3 .1 3.4 .1 3.4 0 3.4 .1 3.3 .1 3.4 .1 3.4 .5-.3 .6-.1 .2-.2" stroke="#340000"/><path d="M539.7 790.4l.3-.5 .6-2.3 .5-3.5" stroke="#490000"/><path d="M541.1 784.1l.6-3.8 .6-3.4" stroke="#5e0000"/><path d="M542.3 776.9l.5-2 .3-.3 .3 .2 .5 1.9 .6 2.8" stroke="#340000"/><path d="M544.5 779.5l.5 2.9" stroke="#490000"/><path d="M545.0 782.4l.6 1.9" stroke="#880000"/><path d="M545.6 784.3l.3 .2" stroke="#9d0000"/><path d="M545.9 784.5l.3-.1" stroke="#730000"/><path d="M546.2 784.4l.5-1.2" stroke="#490000"/><path d="M546.7 783.2l.6-1.5 .5-1.1 .3-.2 .3 0 .5 .2" stroke="#340000"/><path d="M548.9 780.6l.6 .3 .6 .5 .2 .2 .3 .5 .6 1.8 .5 2.3" stroke="#490000"/><path d="M551.7 786.2l.6 2.1 .3 .7 .2 .5 .6 1 .6 .8 .5 .6" stroke="#340000"/><path d="M554.5 791.9l.6 .3" stroke="#730000"/><path d="M555.1 792.2l0-3.6 .1-3.5 0-3.1" stroke="#9d0000"/><path d="M555.2 782.0l.1-3.1" stroke="#880000"/><path d="M555.3 778.9l0-3.1 0-3.1 0-3.1 .1-3 0-3.1" stroke="#340000"/><path d="M555.4 763.5l0-3.1 0-3.1 .1-3.1 0-3.1 0-3.1" stroke="#490000"/><path d="M555.5 748.0l0-3.1 .1-3.1 0-3.1 0-3.1 .1-3.1" stroke="#730000"/><path d="M555.7 732.5l0-3.1 0-3.1 0-3.1 .1-3.1 0-3" stroke="#880000"/><path d="M555.8 717.1l0-3.1 0-3.1 .1-3.1 0-3.1 0-3.1" stroke="#b20000"/><path d="M555.9 701.6l0-3.1 .1-3.1 0-3.1 0-3.1 0-3.1 .1 3.1 0 3.1 0 3.2 .1 3.1 0 3.1" stroke="#dc0000"/><path d="M556.2 701.7l0 3.1 0 3.1 .1 3.1 0 3.2 0 3.1" stroke="#b20000"/><path d="M556.3 717.3l0 3.1 .1 3.1 0 3.1 0 3.1 .1 3.1" stroke="#880000"/><path d="M556.5 732.8l0 3.2 0 3.1 0 3.1 .1 3.1 0 3.1" stroke="#730000"/><path d="M556.6 748.4l0 3.1 .1 3.2 0 3.1 0 3.1 0 3.1" stroke="#490000"/><path d="M556.7 764.0l.1 3.4 .1 3.3 0 3.4 .1 3.4" stroke="#340000"/><path d="M557.0 777.5l.1 3.4" stroke="#490000"/><path d="M557.1 780.9l.1 3.3 0 3.4 .1 3.4 .6-.7 .5-.3" stroke="#340000"/><path d="M558.4 790.0l.6-.9" stroke="#5e0000"/><path d="M559.0 789.1l.2-.5 .3-.6" stroke="#730000"/><path d="M559.5 788.0l.6-2.1 .5-2.5" stroke="#5e0000"/><path d="M560.6 783.4l.6-2.6" stroke="#490000"/><path d="M561.2 780.8l.6-1.9 .5-.8 .6 .6 .5 1.5 .6 2" stroke="#340000"/><path d="M564.0 782.2l.5 2 .6 1.5" stroke="#5e0000"/><path d="M565.1 785.7l.6 .6 .5-1.2 .6-2.3 .5-1.2 .6 .6" stroke="#340000"/><path d="M567.9 782.2l.5 1.4" stroke="#490000"/><path d="M568.4 783.6l.6 1.2" stroke="#730000"/><path d="M569.0 784.8l.4 .3 0-3.1 0-3" stroke="#5e0000"/><path d="M569.4 779.0l0-3.1 .1-3.1 0-3.1 0-3 .1-3.1 0-3.1 0-3.1 0-3.1 .1-3 0-3.1 0-3.1 .1-3.1 0-3 0-3.1 0-3.1 .1-3.1 0-3.1 0-3 0-3.1" stroke="#340000"/><path d="M569.9 720.5l.1-3.1 0-3.1 0-3 .1-3.1 0-3.1 0-3.1 0-3 .1-3.1 0-3.1 0 3 .1 3.1 0 3 0 3 0 3 .1 3.1 0 3 0 3 .1 3 0 3.1" stroke="#490000"/><path d="M570.5 723.1l0 3 .1 3 0 3 0 3.1 0 3 .1 3 0 3.3 0 3.2 .1 3.3 0 3.2 0 3.3 .1 3.2 0 3.3 .1 3.2 0 3.3 .1 3.2 .1 3.3 0 3.2 .1 3.6 .1 3.6 0 3.6 .4-.2 .5-.2" stroke="#340000"/><path d="M572.3 790.6l.6-.5 .3-.3 .3-.6" stroke="#490000"/><path d="M573.5 789.2l.5-2.9 .6-4.1" stroke="#730000"/><path d="M574.6 782.2l.5-4.2" stroke="#490000"/><path d="M575.1 778.0l.6-3.3 .5-1.3 .6 5.2 .2 3.2 .2 3.2 .2 3.2" stroke="#340000"/><path d="M577.4 788.2l.5 5.1 .6-.7 .5-1.7 .6-2.2 .5-2.1" stroke="#490000"/><path d="M580.1 786.6l.6-1.3 .3-.2 .3 .2 .5 1.3" stroke="#340000"/><path d="M581.8 786.6l.6 1.7 .5 1.3" stroke="#490000"/><path d="M582.9 789.6l.3 .2" stroke="#5e0000"/><path d="M583.2 789.8l.3-2.5" stroke="#880000"/><path d="M583.5 787.3l.2-2.2" stroke="#9d0000"/><path d="M583.7 785.1l.1-3.2 0-3.2" stroke="#b20000"/><path d="M583.8 778.7l0-3.2 0-3.2 .1-3.2 0-3.2" stroke="#340000"/><path d="M583.9 765.9l0-3.2 .1-3.2 0-3.2 0-3.2 0-3.3" stroke="#490000"/><path d="M584.0 749.8l.1-3 0-3 0-3.1 0-3 .1-3.1" stroke="#730000"/><path d="M584.2 734.6l0-3 0-3.1 .1-3 0-3.1 0-3" stroke="#9d0000"/><path d="M584.3 719.4l0-3.1 .1-3 0-3 0-3.1 0-3" stroke="#c70000"/><path d="M584.4 704.2l.1-3.1 0-3 0-3.1 0-3 .1-3.1 0 3 0 3 .1 3 0 3 0 3" stroke="#f10000"/><path d="M584.7 703.9l0 3 .1 3.1 0 3 0 3 .1 3" stroke="#c70000"/><path d="M584.9 719.0l0 3 0 3 0 3 .1 3 0 3" stroke="#9d0000"/><path d="M585.0 734.0l0 3 0 3 .1 3 0 3 0 3" stroke="#730000"/><path d="M585.1 749.0l.1 3 0 3 0 3 0 3 .1 3" stroke="#490000"/><path d="M585.3 764.0l0 3.1 .1 3.1 .1 3.1 0 3 .1 3.1 .1 3.1 0 3.1 .1 5.4 .2 2.3 .3-1 .5-.7" stroke="#340000"/><path d="M586.8 791.6l.6-2.5" stroke="#490000"/><path d="M587.4 789.1l.5-3 .6-2.8" stroke="#5e0000"/><path d="M588.5 783.3l.6-2.1" stroke="#490000"/><path d="M589.1 781.2l.5-.8 .6 .2 .5 .6 .6 .8 .5 .8 .6 .7" stroke="#340000"/><path d="M592.4 783.5l.6 .4" stroke="#490000"/><path d="M593.0 783.9l.2 0 .3 0" stroke="#730000"/><path d="M593.5 783.9l.6-.2" stroke="#490000"/><path d="M594.1 783.7l.5-.3 .6-.3 .5-.2 .6-.1" stroke="#340000"/><path d="M596.3 782.8l.6 1.5" stroke="#5e0000"/><path d="M596.9 784.3l.5 2.8" stroke="#880000"/><path d="M597.4 787.1l.6 1.5" stroke="#730000"/><path d="M598.0 788.6l.5-1.3" stroke="#5e0000"/><path d="M598.5 787.3l.4-2.2" stroke="#490000"/><path d="M598.9 785.1l0-3.1 0-3.1" stroke="#5e0000"/><path d="M598.9 778.9l.1-3.2 0-3.1 0-3.1 0-3.1 .1-3.2 0-3.1 0-3.1 0-3.1 .1-3.1 0-3.1 0-3.1 0-3.1 .1-3.2 0-3.1 0-3.1 0-3.1 .1-3.1 0-3.1 0-3.1 0-3.1 .1-3.1" stroke="#340000"/><path d="M599.5 713.5l0-3.1 0-3.1 0-3.1 0-3.1 .1-3.2 0-3.1 0-3.1 0-3.1 .1-3.5 0-3.6 0-3.6 .1 3.1 0 3.1 0 3 0 3.1 .1 3.1 0 3.1 0 3.1 0 3.1 .1 3 0 3.1 0 3.1" stroke="#490000"/><path d="M600.0 711.8l0 3.1 .1 3.1 0 3 0 3.1 0 3.1 .1 3.1 0 3.1 0 3.1 0 3 .1 3.1 0 3 0 3.1 0 3.1 0 3 .1 3.1 0 3 0 3.1 .1 3.2 .1 3.3 0 3.2 .1 3.3 .1 3.2 0 3.6" stroke="#340000"/><path d="M600.8 783.8l.1 3.6 .1 3.6 .3-1.3 .3-1.1" stroke="#490000"/><path d="M601.6 788.6l.3 0" stroke="#340000"/><path d="M601.9 788.6l.5 0" stroke="#490000"/><path d="M602.4 788.6l.6 0" stroke="#5e0000"/><path d="M603.0 788.6l.5 0" stroke="#490000"/><path d="M603.5 788.6l.6 0 .6 0 .5-2.3 .6-4.8" stroke="#340000"/><path d="M605.8 781.5l.5-3.9" stroke="#490000"/><path d="M606.3 777.6l.3-.7" stroke="#5e0000"/><path d="M606.6 776.9l.3 .9" stroke="#730000"/><path d="M606.9 777.8l.5 5" stroke="#5e0000"/><path d="M607.4 782.8l.6 5 .3 .8 .3-.5" stroke="#490000"/><path d="M608.6 788.1l.5-3.4 .6-4.1 .5-1.9" stroke="#340000"/><path d="M610.2 778.7l.6 1.2 .5 2.5 .6 2.2" stroke="#5e0000"/><path d="M611.9 784.6l.4 .5 0-3.2 0-3.1" stroke="#880000"/><path d="M612.3 778.8l0-3.2 .1-3.2 0-3.1 0-3.2 .1-3.2 0-3 0-3 0-3 .1-3.1" stroke="#340000"/><path d="M612.6 750.8l0-3 0-3 0-3 .1-3 0-3.1" stroke="#490000"/><path d="M612.7 735.7l0-3 .1-3 0-3 0-3 0-3.1" stroke="#5e0000"/><path d="M612.8 720.6l.1-3 0-3 0-3 0-3 .1-3.1" stroke="#730000"/><path d="M613.0 705.5l0-3 0-3 0-3.2 .1-3.1 0-3.2 0 3.1 .1 3.2 0 3.1 0 3.2 0 3.1" stroke="#880000"/><path d="M613.2 705.7l.1 3.2 0 3.1 0 3.2 .1 3.1 0 3.1" stroke="#730000"/><path d="M613.4 721.4l0 3.2 .1 3.1 0 3.2 0 3.1" stroke="#5e0000"/><path d="M613.5 734.0l0 3.2 .1 3.1 0 3.4 0 3.4 .1 3.4" stroke="#490000"/><path d="M613.7 750.5l0 3.4 0 3.3 .1 3.4 0 3.4 .1 3.2 0 3.3 .1 3.2 .1 3.3 0 3.2 .1 3.6 .1 3.6 .1 3.6 .3-.7 .5-.5 .6-1.5" stroke="#340000"/><path d="M615.8 788.3l.3-.8" stroke="#5e0000"/><path d="M616.1 787.5l.3-1.1" stroke="#730000"/><path d="M616.4 786.4l.5-3.2" stroke="#5e0000"/><path d="M616.9 783.2l.6-4 .5-4 .6-3 .5-1.2 .6 2.4" stroke="#340000"/><path d="M619.7 773.4l.6 5.3 .5 5.2" stroke="#490000"/><path d="M620.8 783.9l.6 2.4" stroke="#5e0000"/><path d="M621.4 786.3l.5-1.2" stroke="#730000"/><path d="M621.9 785.1l.6-2.3" stroke="#5e0000"/><path d="M622.5 782.8l.5-1.2 .6 1.2 .6 2.3 .5 1.2" stroke="#340000"/><path d="M624.7 786.3l.6-.7" stroke="#490000"/><path d="M625.3 785.6l.5-1.4" stroke="#880000"/><path d="M625.8 784.2l.6-1.2" stroke="#730000"/><path d="M626.4 783.0l.3-.2" stroke="#490000"/><path d="M626.7 782.8l.2 .7 .6 3.8 .6 2.5 .3-4.7 .1-3 0-3 0-3.1 0-3 .1-3 0-3.1 0-3 0-3 .1-3.1 0-3 0-3 .1-3 0-3.1 0-3 0-3 .1-3.1 0-3 0-3 .1-3.1 0-3 0-3" stroke="#340000"/><path d="M629.0 721.5l0-3 .1-3.1 0-3 0-3 0-3.1 .1-3 0-3 0-3.1 .1-3 0 3.2 0 3.1 .1 3.2 0 3.2 0 3.1 0 3.2 .1 3.2 0 3.1 0 3.2" stroke="#490000"/><path d="M629.5 722.7l.1 3.1 0 3.2 0 3.2 .1 3.1 0 3.2 0 3.2 .1 3.2 0 3.1 0 3.2 .1 3.2 0 3.2 0 3.2 .1 3.2 0 3.3 0 3.2 .1 3.3 0 3.2" stroke="#340000"/><path d="M630.1 777.0l0 3.3 .1 3.3 0 3.2 .1 3.3 0 3.2" stroke="#490000"/><path d="M630.3 793.3l.2-2.3" stroke="#340000"/><path d="M630.5 791.0l.3-.6 .6-1 .6-.8" stroke="#490000"/><path d="M632.0 788.6l.5-1.5 .6-2.2 .5-2.3 .6-2" stroke="#340000"/><path d="M634.2 780.6l.5-1.2" stroke="#490000"/><path d="M634.7 779.4l.3-.1" stroke="#730000"/><path d="M635.0 779.3l.3 .1" stroke="#9d0000"/><path d="M635.3 779.4l.6 .6" stroke="#880000"/><path d="M635.9 780.0l.5 .9 .6 .6 .3 .1" stroke="#490000"/><path d="M637.3 781.6l.2-.1 .6-.3 .5-.4" stroke="#340000"/><path d="M638.6 780.8l.6-.3" stroke="#5e0000"/><path d="M639.2 780.5l.3-.1" stroke="#730000"/><path d="M639.5 780.4l.3 0" stroke="#5e0000"/><path d="M639.8 780.4l.5 0" stroke="#490000"/><path d="M640.3 780.4l.6 0" stroke="#5e0000"/><path d="M640.9 780.4l.5 0" stroke="#490000"/><path d="M641.4 780.4l.6 0 .5 0 .6 0 .6 0 .5 0" stroke="#340000"/></g><path d="M365.17 806.23v-3.00M365.17 653.74v3.00M376.34 806.23v-1.80M376.34 653.74v1.80M387.51 806.23v-1.80M387.51 653.74v1.80M398.67 806.23v-1.80M398.67 653.74v1.80M409.84 806.23v-1.80M409.84 653.74v1.80M421.01 806.23v-3.00M421.01 653.74v3.00M432.18 806.23v-1.80M432.18 653.74v1.80M443.35 806.23v-1.80M443.35 653.74v1.80M454.51 806.23v-1.80M454.51 653.74v1.80M465.68 806.23v-1.80M465.68 653.74v1.80M476.85 806.23v-3.00M476.85 653.74v3.00M488.02 806.23v-1.80M488.02 653.74v1.80M499.19 806.23v-1.80M499.19 653.74v1.80M510.35 806.23v-1.80M510.35 653.74v1.80M521.52 806.23v-1.80M521.52 653.74v1.80M532.69 806.23v-3.00M532.69 653.74v3.00M543.86 806.23v-1.80M543.86 653.74v1.80M555.03 806.23v-1.80M555.03 653.74v1.80M566.19 806.23v-1.80M566.19 653.74v1.80M577.36 806.23v-1.80M577.36 653.74v1.80M588.53 806.23v-3.00M588.53 653.74v3.00M599.70 806.23v-1.80M599.70 653.74v1.80M610.87 806.23v-1.80M610.87 653.74v1.80M622.03 806.23v-1.80M622.03 653.74v1.80M633.20 806.23v-1.80M633.20 653.74v1.80M644.37 806.23v-3.00M644.37 653.74v3.00M365.17 806.23h1.80M644.37 806.23h-1.80M365.17 800.37h1.80M644.37 800.37h-1.80M365.17 794.50h3.00M644.37 794.50h-3.00M365.17 788.63h1.80M644.37 788.63h-1.80M365.17 782.77h1.80M644.37 782.77h-1.80M365.17 776.90h1.80M644.37 776.90h-1.80M365.17 771.04h3.00M644.37 771.04h-3.00M365.17 765.17h1.80M644.37 765.17h-1.80M365.17 759.31h1.80M644.37 759.31h-1.80M365.17 753.45h1.80M644.37 753.45h-1.80M365.17 747.58h3.00M644.37 747.58h-3.00M365.17 741.72h1.80M644.37 741.72h-1.80M365.17 735.85h1.80M644.37 735.85h-1.80M365.17 729.99h1.80M644.37 729.99h-1.80M365.17 724.12h3.00M644.37 724.12h-3.00M365.17 718.25h1.80M644.37 718.25h-1.80M365.17 712.39h1.80M644.37 712.39h-1.80M365.17 706.52h1.80M644.37 706.52h-1.80M365.17 700.66h3.00M644.37 700.66h-3.00M365.17 694.79h1.80M644.37 694.79h-1.80M365.17 688.93h1.80M644.37 688.93h-1.80M365.17 683.06h1.80M644.37 683.06h-1.80M365.17 677.20h3.00M644.37 677.20h-3.00M365.17 671.34h1.80M644.37 671.34h-1.80M365.17 665.47h1.80M644.37 665.47h-1.80M365.17 659.61h1.80M644.37 659.61h-1.80M365.17 653.74h3.00M644.37 653.74h-3.00" stroke="#222" stroke-width="0.9" fill="none"/><rect x="365.62" y="654.00" width="278.80" height="152.50" fill="none" stroke="#4c4c4c" stroke-width="1.0" stroke-linejoin="round"/><text x="362.17" y="798.60" text-anchor="end" class="tk">0.0</text><text x="362.17" y="775.14" text-anchor="end" class="tk">0.2</text><text x="362.17" y="751.68" text-anchor="end" class="tk">0.4</text><text x="362.17" y="728.22" text-anchor="end" class="tk">0.6</text><text x="362.17" y="704.76" text-anchor="end" class="tk">0.8</text><text x="362.17" y="681.30" text-anchor="end" class="tk"><tspan class="hid">1</tspan>.0</text><polygon points="350.51,674.21 351.34,674.21 351.34,681.30 350.44,681.30 350.44,675.06 348.84,676.21 348.84,675.39" class="tk one"/><text x="362.17" y="657.84" text-anchor="end" class="tk"><tspan class="hid">1</tspan>.2</text><polygon points="350.51,650.75 351.34,650.75 351.34,657.84 350.44,657.84 350.44,651.60 348.84,652.75 348.84,651.93" class="tk one"/><text x="365.17" y="817.23" text-anchor="middle" class="tk">0.0</text><text x="421.01" y="817.23" text-anchor="middle" class="tk">2.0</text><text x="476.85" y="817.23" text-anchor="middle" class="tk">4.0</text><text x="532.69" y="817.23" text-anchor="middle" class="tk">6.0</text><text x="588.53" y="817.23" text-anchor="middle" class="tk">8.0</text><text x="644.37" y="817.23" text-anchor="middle" class="tk"><tspan class="hid">1</tspan>0.0</text><polygon points="637.01,810.14 637.84,810.14 637.84,817.23 636.93,817.23 636.93,810.99 635.34,812.14 635.34,811.32" class="tk one"/><text x="504.77" y="831.33" text-anchor="middle" class="ax">Time / s</text><text transform="translate(341.67 729.69) rotate(-90)" text-anchor="middle" class="ax">Amplitude / a.u.</text><text transform="translate(493.00 857.30) scale(1.115 1)" text-anchor="middle" class="cap">(h) Long-term, AF classification</text><rect x="663.50" y="652.50" width="7.80" height="154.30" fill="url(#hotg)" stroke="#333" stroke-width="0.9"/><text x="673.20" y="655.20" text-anchor="start" class="cb"><tspan class="hid">1</tspan>.0</text><polygon points="675.39,649.35 676.08,649.35 676.08,655.20 675.33,655.20 675.33,650.05 674.02,651.00 674.02,650.32" class="cb one"/><text x="672.80" y="809.40" class="cb">0</text><text transform="translate(684.30 730.50) rotate(-90)" text-anchor="middle" class="cb2">Relevance / a.u.</text></svg></body></html>
